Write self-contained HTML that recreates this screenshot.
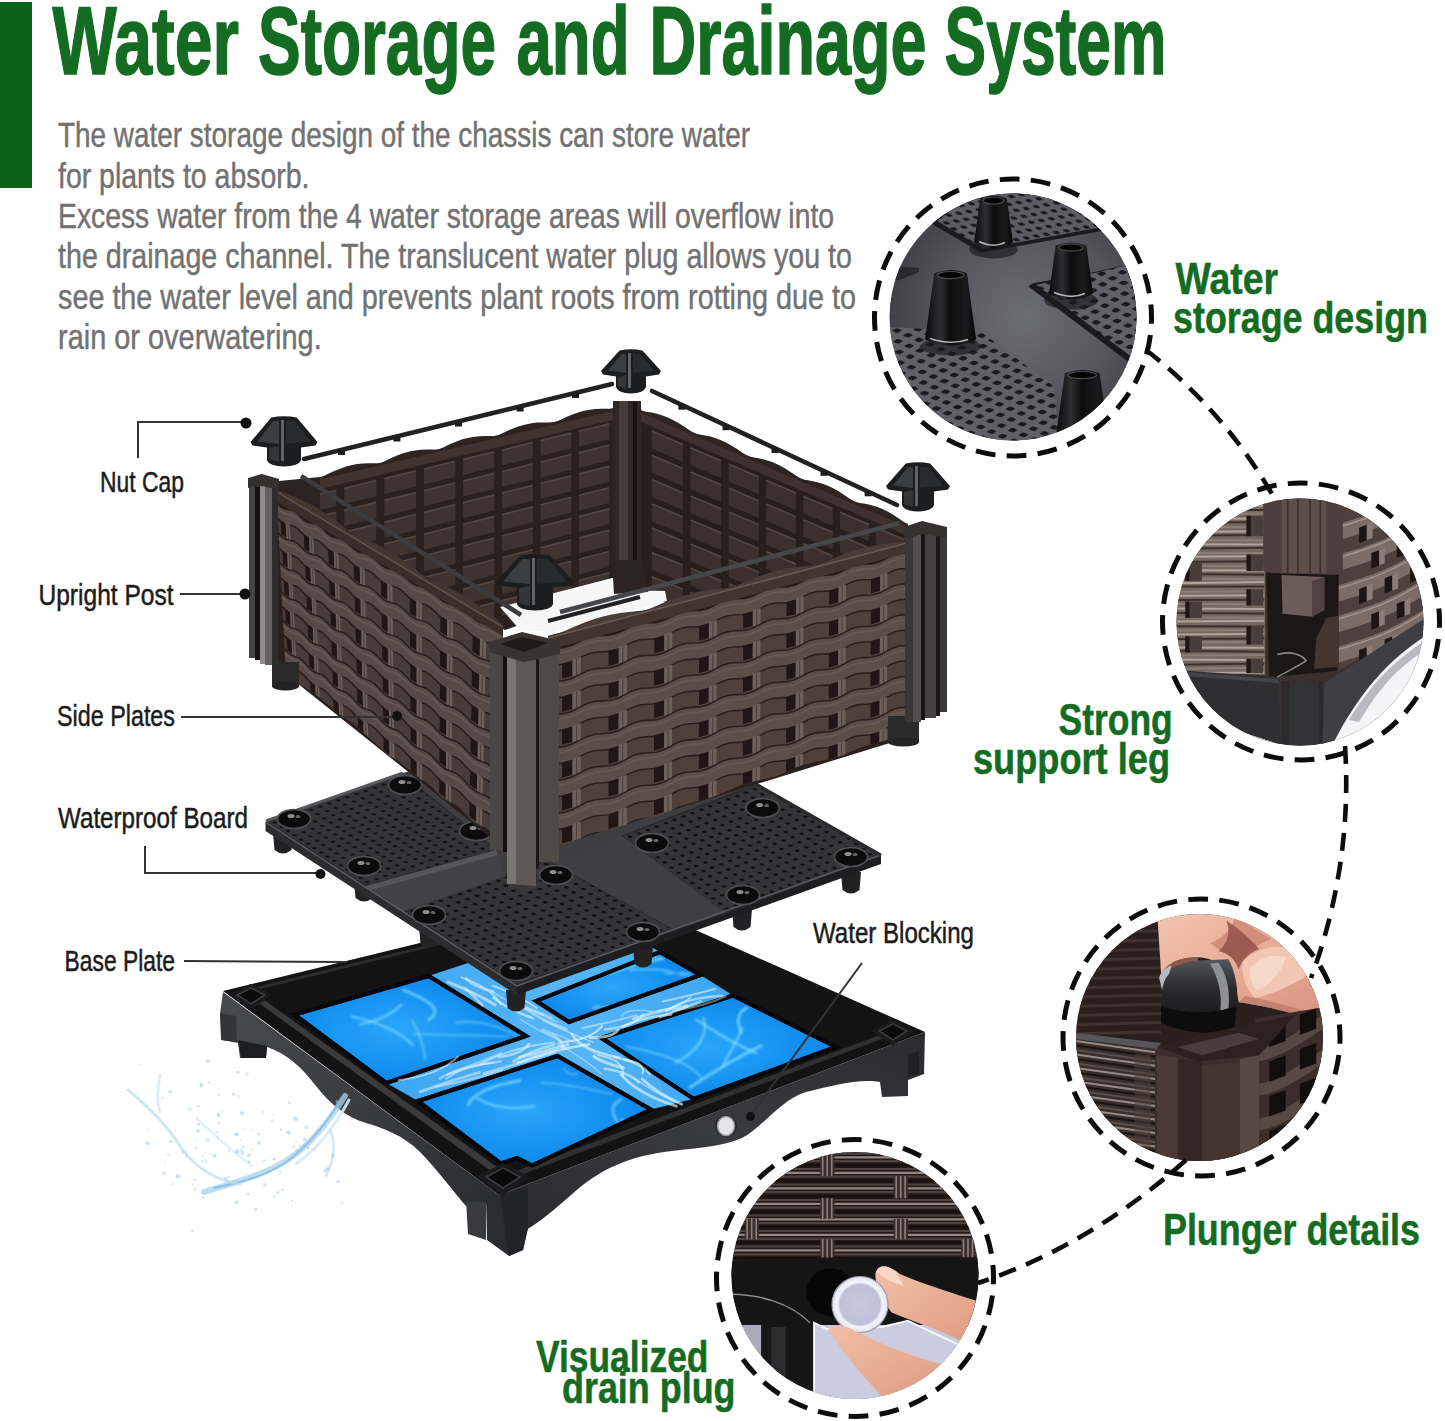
<!DOCTYPE html>
<html lang="en">
<head>
<meta charset="utf-8">
<title>Water Storage and Drainage System</title>
<style>
html,body{margin:0;padding:0;background:#fff;}
body{width:1445px;height:1421px;overflow:hidden;font-family:"Liberation Sans",sans-serif;}
svg{display:block;font-family:"Liberation Sans",sans-serif;}
</style>
</head>
<body>
<svg width="1445" height="1421" viewBox="0 0 1445 1421">
<defs>
<linearGradient id="gSideL" x1="0" y1="0" x2="1" y2="1">
<stop offset="0" stop-color="#4a4b4f"/><stop offset="1" stop-color="#2c2d30"/></linearGradient>
<linearGradient id="gSideR" x1="1" y1="0" x2="0" y2="1">
<stop offset="0" stop-color="#2b2b2e"/><stop offset="0.5" stop-color="#3a3b3e"/><stop offset="1" stop-color="#2a2a2d"/></linearGradient>
<linearGradient id="gWater" x1="0" y1="0" x2="1" y2="1">
<stop offset="0" stop-color="#1a9cf6"/><stop offset="0.5" stop-color="#0a86ea"/><stop offset="1" stop-color="#22a8fb"/></linearGradient>
<linearGradient id="gChan" x1="0" y1="0" x2="1" y2="0">
<stop offset="0" stop-color="#2d9cf0"/><stop offset="0.5" stop-color="#58b6f6"/><stop offset="1" stop-color="#2b9bf0"/></linearGradient>
<filter id="blur1" x="-10%" y="-10%" width="120%" height="120%"><feGaussianBlur stdDeviation="1"/></filter>
<filter id="blur2" x="-10%" y="-10%" width="120%" height="120%"><feGaussianBlur stdDeviation="2"/></filter>
<filter id="blur3" x="-20%" y="-20%" width="140%" height="140%"><feGaussianBlur stdDeviation="3.5"/></filter>

<radialGradient id="gW1" cx="0.45" cy="0.5" r="0.7"><stop offset="0" stop-color="#2aa6fa"/><stop offset="0.6" stop-color="#118df0"/><stop offset="1" stop-color="#0a7fe6"/></radialGradient>
<pattern id="perf0" width="8" height="8" patternUnits="userSpaceOnUse" patternTransform="matrix(0.8250 0.5333 1.1333 -0.3958 267.0 822.0)"><rect width="8" height="8" fill="#353538"/><circle cx="4" cy="4" r="1.7" fill="#111113"/></pattern>
<pattern id="perf1" width="8" height="8" patternUnits="userSpaceOnUse" patternTransform="matrix(0.9333 0.6208 1.1917 -0.4167 404.0 910.0)"><rect width="8" height="8" fill="#353538"/><circle cx="4" cy="4" r="1.7" fill="#111113"/></pattern>
<pattern id="perf2" width="8" height="8" patternUnits="userSpaceOnUse" patternTransform="matrix(0.8667 0.6417 1.1167 -0.4250 622.0 836.0)"><rect width="8" height="8" fill="#353538"/><circle cx="4" cy="4" r="1.7" fill="#111113"/></pattern>
<radialGradient id="gC1" cx="0.55" cy="0.5" r="0.6">
<stop offset="0" stop-color="#6c6c73"/><stop offset="0.6" stop-color="#55555b"/><stop offset="1" stop-color="#3b3b40"/></radialGradient>
<pattern id="dotsC1" width="11" height="11" patternUnits="userSpaceOnUse" patternTransform="matrix(1 0.42 -0.9 0.55 0 0)">
<rect width="11" height="11" fill="#606066"/><rect x="2.5" y="2.5" width="5.6" height="5.6" rx="1.5" fill="#1a1a1d"/></pattern>
<pattern id="dotsC1b" width="10" height="10" patternUnits="userSpaceOnUse" patternTransform="matrix(1 -0.18 0.75 0.6 0 0)">
<rect width="10" height="10" fill="#5c5c62"/><rect x="2.6" y="2.6" width="5" height="5" rx="1.5" fill="#1b1b1e"/></pattern>
<linearGradient id="gCone" x1="0" y1="0" x2="1" y2="0">
<stop offset="0" stop-color="#0a0a0b"/><stop offset="0.3" stop-color="#2e2e31"/><stop offset="0.5" stop-color="#0c0c0d"/><stop offset="0.8" stop-color="#1c1c1e"/><stop offset="1" stop-color="#050505"/></linearGradient>
<linearGradient id="gSkin" x1="0" y1="0" x2="1" y2="1">
<stop offset="0" stop-color="#f3c4b0"/><stop offset="0.5" stop-color="#e8ab95"/><stop offset="1" stop-color="#d58f7c"/></linearGradient>
<linearGradient id="gCap3" x1="0" y1="0" x2="0" y2="1">
<stop offset="0" stop-color="#55565a"/><stop offset="0.4" stop-color="#2a2a2d"/><stop offset="1" stop-color="#111113"/></linearGradient>
<linearGradient id="gSkin4" x1="0" y1="0" x2="1" y2="1">
<stop offset="0" stop-color="#f1bfa6"/><stop offset="0.6" stop-color="#e6a98f"/><stop offset="1" stop-color="#d99680"/></linearGradient>
<radialGradient id="gPlug" cx="0.5" cy="0.5" r="0.5">
<stop offset="0" stop-color="#c6c8de"/><stop offset="0.72" stop-color="#bfc1d8"/><stop offset="0.8" stop-color="#f4f4fa"/><stop offset="1" stop-color="#e2e3ee"/></radialGradient>
</defs>
<rect width="1445" height="1421" fill="#ffffff"/>
<rect x="0" y="2" width="32" height="186" fill="#0b6219"/>
<text y="73.8" font-size="96" font-weight="700" fill="#146c22" stroke="#146c22" stroke-width="1.6" stroke-linejoin="round"><tspan x="52.6" textLength="186.4" lengthAdjust="spacingAndGlyphs">Water</tspan> <tspan x="258" textLength="238.0" lengthAdjust="spacingAndGlyphs">Storage</tspan> <tspan x="516.5" textLength="113.0" lengthAdjust="spacingAndGlyphs">and</tspan> <tspan x="649.5" textLength="277.0" lengthAdjust="spacingAndGlyphs">Drainage</tspan> <tspan x="944.6" textLength="221.9" lengthAdjust="spacingAndGlyphs">System</tspan></text>
<g font-size="35" fill="#727272" stroke="#727272" stroke-width="0.45">
<text x="58" y="147.2" textLength="692.0" lengthAdjust="spacingAndGlyphs">The water storage design of the chassis can store water</text>
<text x="58" y="187.7" textLength="251.5" lengthAdjust="spacingAndGlyphs">for plants to absorb.</text>
<text x="58" y="228" textLength="776.0" lengthAdjust="spacingAndGlyphs">Excess water from the 4 water storage areas will overflow into</text>
<text x="58" y="268.4" textLength="794.0" lengthAdjust="spacingAndGlyphs">the drainage channel. The translucent water plug allows you to</text>
<text x="58" y="308.6" textLength="798.0" lengthAdjust="spacingAndGlyphs">see the water level and prevents plant roots from rotting due to</text>
<text x="58" y="349" textLength="263.7" lengthAdjust="spacingAndGlyphs">rain or overwatering.</text>
</g>
<g id="base-plate">
<path d="M223,992 L499,1195 L486,1205 L466,1206 C452,1190 436,1168 420,1152 C404,1136 384,1128 366,1123 C346,1117 330,1104 316,1086 C302,1068 288,1054 267,1047 L266,1058 L240,1058 L238,1043 L222,1040 L220,1014 Z" fill="url(#gSideL)" />
<path d="M499,1195 L925,1032 L924,1074 L908,1080 L908,1096 L882,1097 L880,1082 C860,1078 830,1086 806,1092 C780,1100 762,1128 742,1138 C720,1148 690,1148 664,1152 C630,1157 600,1168 570,1196 C556,1208 540,1222 526,1230 L523,1196 Z" fill="url(#gSideR)" />
<polygon points="486.0,1196.0 528.0,1192.0 528.0,1228.0 523.0,1250.0 509.0,1256.0 487.0,1240.0" fill="#2b2c2f" />
<polygon points="466.0,1201.0 486.0,1203.0 486.0,1240.0 468.0,1234.0" fill="#3a3b3f" />
<polygon points="500.0,1195.0 528.0,1186.0 528.0,1228.0 523.0,1250.0 509.0,1256.0" fill="#222326" />
<polygon points="908.0,1054.0 919.0,1051.0 919.0,1074.0 908.0,1077.0" fill="#1f2023" />
<polygon points="238.0,1040.0 267.0,1046.0 266.0,1058.0 241.0,1058.0" fill="#1d1e21" />
<polygon points="220.0,1013.0 236.0,1016.0 237.0,1042.0 221.0,1040.0" fill="#34353a" />
<polygon points="223.0,991.0 617.0,895.0 925.0,1032.0 499.0,1195.0" fill="#131314" />
<polygon points="241.6,990.6 508.0,1183.6 516.0,1180.6 248.7,988.9" fill="#3a3a3d" />
<polygon points="493.9,1179.2 499.1,1183.1 907.0,1029.5 901.4,1027.0" fill="#303033" />
<polygon points="236.8,991.8 240.1,994.2 619.3,900.5 615.5,898.8" fill="#2c2c2f" />
<polygon points="294.7,1014.7 428.6,976.0 471.0,962.0 600.0,918.0 700.5,975.0 733.0,995.5 836.0,1047.0 693.6,1098.8 651.0,1109.5 532.0,1165.5 418.0,1101.0 386.5,1083.0" fill="url(#gChan)" />
<polygon points="294.7,1014.7 428.6,976.0 526.0,1036.0 386.5,1083.0" fill="url(#gW1)" stroke="#05070a" stroke-width="4" stroke-linejoin="miter"/>
<polygon points="418.0,1101.0 557.5,1056.0 651.0,1109.5 532.0,1165.5 517.0,1158.0 501.0,1163.5" fill="url(#gW1)" stroke="#05070a" stroke-width="4" stroke-linejoin="miter"/>
<polygon points="536.0,1001.0 660.0,952.0 700.5,975.0 569.0,1022.0" fill="url(#gW1)" stroke="#05070a" stroke-width="4" stroke-linejoin="miter"/>
<polygon points="601.5,1038.0 733.0,995.5 836.0,1047.0 693.6,1098.8" fill="url(#gW1)" stroke="#05070a" stroke-width="4" stroke-linejoin="miter"/>
<clipPath id="cpTiles"><polygon points="294.7,1014.7 428.6,976.0 526.0,1036.0 386.5,1083.0"/><polygon points="418.0,1101.0 557.5,1056.0 651.0,1109.5 532.0,1165.5 517.0,1158.0 501.0,1163.5"/><polygon points="536.0,1001.0 660.0,952.0 700.5,975.0 569.0,1022.0"/><polygon points="601.5,1038.0 733.0,995.5 836.0,1047.0 693.6,1098.8"/></clipPath>
<g clip-path="url(#cpTiles)"><g filter="url(#blur1)" fill="none" stroke-linecap="round">
<path d="M412.3,1020.5 Q422.5,1038.5 425.5,1059.4" stroke="#86e4ff" stroke-width="1.9" stroke-opacity="0.58"/>
<path d="M455.7,1022.4 Q486.3,1018.4 518.9,1036.7" stroke="#86e4ff" stroke-width="2.6" stroke-opacity="0.41"/>
<path d="M508.4,1036.4 Q431.4,1034.4 413.9,1034.1" stroke="#86e4ff" stroke-width="2.3" stroke-opacity="0.42"/>
<path d="M351.7,1016.7 Q393.9,1025.5 412.7,1044.9" stroke="#86e4ff" stroke-width="2.3" stroke-opacity="0.62"/>
<path d="M428.7,1019.6 Q449.3,1008.1 403.5,990.1" stroke="#86e4ff" stroke-width="2.8" stroke-opacity="0.65"/>
<path d="M360.4,1024.1 Q384.4,1020.5 400.8,1005.2" stroke="#86e4ff" stroke-width="2.8" stroke-opacity="0.54"/>
<path d="M621.7,1119.5 Q626.6,1123.5 627.8,1123.0" stroke="#86e4ff" stroke-width="3.0" stroke-opacity="0.54"/>
<path d="M519.9,1080.8 Q476.7,1087.6 468.0,1104.9" stroke="#86e4ff" stroke-width="2.9" stroke-opacity="0.67"/>
<path d="M477.4,1098.4 Q500.8,1112.2 534.6,1106.3" stroke="#86e4ff" stroke-width="2.4" stroke-opacity="0.56"/>
<path d="M541.5,1082.9 Q562.7,1082.9 612.0,1094.1" stroke="#86e4ff" stroke-width="1.9" stroke-opacity="0.49"/>
<path d="M617.8,1122.1 Q606.6,1106.8 620.9,1099.5" stroke="#86e4ff" stroke-width="2.8" stroke-opacity="0.62"/>
<path d="M563.6,1068.6 Q571.2,1077.5 576.6,1072.9" stroke="#86e4ff" stroke-width="2.0" stroke-opacity="0.43"/>
<path d="M609.9,973.1 Q633.1,965.5 662.8,958.9" stroke="#86e4ff" stroke-width="2.9" stroke-opacity="0.57"/>
<path d="M664.5,973.6 Q692.6,973.1 690.6,972.1" stroke="#86e4ff" stroke-width="1.9" stroke-opacity="0.47"/>
<path d="M680.3,974.6 Q700.3,977.3 700.9,977.0" stroke="#86e4ff" stroke-width="2.2" stroke-opacity="0.44"/>
<path d="M652.7,959.3 Q657.1,956.2 661.6,958.3" stroke="#86e4ff" stroke-width="2.4" stroke-opacity="0.50"/>
<path d="M630.0,970.2 Q665.7,967.8 672.3,972.5" stroke="#86e4ff" stroke-width="2.5" stroke-opacity="0.50"/>
<path d="M598.1,1005.5 Q583.9,1011.0 609.3,1005.9" stroke="#86e4ff" stroke-width="1.8" stroke-opacity="0.53"/>
<path d="M675.7,1062.6 Q710.4,1044.6 703.5,1017.9" stroke="#86e4ff" stroke-width="2.6" stroke-opacity="0.60"/>
<path d="M626.3,1046.4 Q688.8,1058.4 701.6,1078.3" stroke="#86e4ff" stroke-width="1.6" stroke-opacity="0.62"/>
<path d="M741.3,1033.2 Q733.6,1013.8 746.7,1008.0" stroke="#86e4ff" stroke-width="2.6" stroke-opacity="0.72"/>
<path d="M761.0,1045.7 Q729.7,1060.9 689.8,1087.5" stroke="#86e4ff" stroke-width="2.9" stroke-opacity="0.70"/>
<path d="M742.6,1027.9 Q731.9,1049.9 722.6,1065.8" stroke="#86e4ff" stroke-width="2.4" stroke-opacity="0.61"/>
<path d="M696.0,1019.3 Q727.7,1040.8 756.4,1053.2" stroke="#86e4ff" stroke-width="2.6" stroke-opacity="0.60"/>
</g></g>
<polygon points="294.7,1014.7 428.6,976.0 526.0,1036.0 386.5,1083.0" fill="none" stroke="#05070a" stroke-width="4" stroke-linejoin="miter"/>
<polygon points="418.0,1101.0 557.5,1056.0 651.0,1109.5 532.0,1165.5 517.0,1158.0 501.0,1163.5" fill="none" stroke="#05070a" stroke-width="4" stroke-linejoin="miter"/>
<polygon points="536.0,1001.0 660.0,952.0 700.5,975.0 569.0,1022.0" fill="none" stroke="#05070a" stroke-width="4" stroke-linejoin="miter"/>
<polygon points="601.5,1038.0 733.0,995.5 836.0,1047.0 693.6,1098.8" fill="none" stroke="#05070a" stroke-width="4" stroke-linejoin="miter"/>
<path d="M571.8,1034.1 Q581.1,1050.2 619.4,1057.6" fill="none" stroke="#e6f6ff" stroke-width="2.3" stroke-opacity="0.68" stroke-linecap="round"/>
<path d="M556.5,1043.4 Q582.6,1056.9 601.3,1073.7" fill="none" stroke="#e6f6ff" stroke-width="1.5" stroke-opacity="0.43" stroke-linecap="round"/>
<path d="M507.4,998.1 Q532.2,1009.8 557.0,1022.1" fill="none" stroke="#e6f6ff" stroke-width="1.7" stroke-opacity="0.35" stroke-linecap="round"/>
<path d="M604.6,1068.7 Q630.2,1072.5 638.6,1082.5" fill="none" stroke="#e6f6ff" stroke-width="2.4" stroke-opacity="0.59" stroke-linecap="round"/>
<path d="M492.2,991.3 Q510.5,1004.8 543.2,1014.8" fill="none" stroke="#e6f6ff" stroke-width="1.8" stroke-opacity="0.40" stroke-linecap="round"/>
<path d="M466.2,978.6 Q473.5,986.7 493.3,991.6" fill="none" stroke="#e6f6ff" stroke-width="2.9" stroke-opacity="0.52" stroke-linecap="round"/>
<path d="M512.0,1002.3 Q533.8,1009.4 551.5,1018.0" fill="none" stroke="#e6f6ff" stroke-width="2.9" stroke-opacity="0.36" stroke-linecap="round"/>
<path d="M598.2,1055.0 Q625.9,1060.3 622.8,1076.3" fill="none" stroke="#e6f6ff" stroke-width="1.8" stroke-opacity="0.61" stroke-linecap="round"/>
<path d="M620.9,1074.5 Q637.5,1093.8 676.3,1106.2" fill="none" stroke="#e6f6ff" stroke-width="2.8" stroke-opacity="0.63" stroke-linecap="round"/>
<path d="M624.1,1059.9 Q645.3,1062.3 642.7,1073.0" fill="none" stroke="#e6f6ff" stroke-width="2.1" stroke-opacity="0.67" stroke-linecap="round"/>
<path d="M542.6,1029.9 Q561.4,1036.5 563.6,1048.6" fill="none" stroke="#e6f6ff" stroke-width="3.2" stroke-opacity="0.41" stroke-linecap="round"/>
<path d="M461.5,977.5 Q491.0,987.6 500.8,1003.9" fill="none" stroke="#e6f6ff" stroke-width="2.3" stroke-opacity="0.50" stroke-linecap="round"/>
<path d="M448.1,982.1 Q474.3,992.4 495.3,1004.8" fill="none" stroke="#e6f6ff" stroke-width="3.1" stroke-opacity="0.57" stroke-linecap="round"/>
<path d="M594.0,1056.5 Q604.3,1063.5 623.2,1067.9" fill="none" stroke="#e6f6ff" stroke-width="3.2" stroke-opacity="0.65" stroke-linecap="round"/>
<path d="M635.2,1078.8 Q651.3,1090.4 672.6,1100.7" fill="none" stroke="#e6f6ff" stroke-width="1.7" stroke-opacity="0.48" stroke-linecap="round"/>
<path d="M642.1,1078.9 Q657.0,1093.0 681.7,1104.2" fill="none" stroke="#e6f6ff" stroke-width="2.8" stroke-opacity="0.65" stroke-linecap="round"/>
<path d="M522.2,1006.4 Q539.2,1019.1 566.6,1029.3" fill="none" stroke="#e6f6ff" stroke-width="2.7" stroke-opacity="0.45" stroke-linecap="round"/>
<path d="M542.5,1020.1 Q565.5,1031.5 592.7,1042.1" fill="none" stroke="#e6f6ff" stroke-width="1.5" stroke-opacity="0.54" stroke-linecap="round"/>
<path d="M493.5,997.7 Q507.8,1009.3 532.7,1018.2" fill="none" stroke="#e6f6ff" stroke-width="2.6" stroke-opacity="0.61" stroke-linecap="round"/>
<path d="M614.5,1057.2 Q642.0,1062.3 650.0,1074.5" fill="none" stroke="#e6f6ff" stroke-width="2.4" stroke-opacity="0.54" stroke-linecap="round"/>
<path d="M492.7,985.6 Q518.5,995.4 536.7,1007.9" fill="none" stroke="#e6f6ff" stroke-width="1.8" stroke-opacity="0.62" stroke-linecap="round"/>
<path d="M552.5,1032.9 Q578.0,1042.6 597.6,1054.7" fill="none" stroke="#e6f6ff" stroke-width="1.5" stroke-opacity="0.41" stroke-linecap="round"/>
<path d="M520.3,1019.5 Q538.3,1030.6 560.6,1041.0" fill="none" stroke="#e6f6ff" stroke-width="1.9" stroke-opacity="0.37" stroke-linecap="round"/>
<path d="M465.3,988.4 Q474.7,996.5 482.5,1005.3" fill="none" stroke="#e6f6ff" stroke-width="2.5" stroke-opacity="0.56" stroke-linecap="round"/>
<path d="M483.9,1073.4 Q521.1,1063.1 554.9,1051.9" fill="none" stroke="#e6f6ff" stroke-width="2.9" stroke-opacity="0.48" stroke-linecap="round"/>
<path d="M419.9,1091.8 Q449.0,1081.1 479.4,1072.4" fill="none" stroke="#e6f6ff" stroke-width="2.9" stroke-opacity="0.50" stroke-linecap="round"/>
<path d="M633.5,1019.0 Q657.2,1010.6 687.0,1005.9" fill="none" stroke="#e6f6ff" stroke-width="3.1" stroke-opacity="0.56" stroke-linecap="round"/>
<path d="M517.1,1062.9 Q549.1,1050.7 589.1,1044.3" fill="none" stroke="#e6f6ff" stroke-width="2.6" stroke-opacity="0.66" stroke-linecap="round"/>
<path d="M519.4,1057.6 Q544.9,1051.6 568.0,1044.6" fill="none" stroke="#e6f6ff" stroke-width="3.1" stroke-opacity="0.56" stroke-linecap="round"/>
<path d="M480.0,1064.7 Q508.3,1047.8 553.7,1042.5" fill="none" stroke="#e6f6ff" stroke-width="2.0" stroke-opacity="0.52" stroke-linecap="round"/>
<path d="M439.6,1078.4 Q463.5,1065.3 500.8,1061.5" fill="none" stroke="#e6f6ff" stroke-width="2.4" stroke-opacity="0.45" stroke-linecap="round"/>
<path d="M666.5,1010.9 Q684.1,997.8 722.2,995.7" fill="none" stroke="#e6f6ff" stroke-width="2.5" stroke-opacity="0.52" stroke-linecap="round"/>
<path d="M582.2,1028.1 Q611.0,1022.3 636.5,1015.2" fill="none" stroke="#e6f6ff" stroke-width="2.1" stroke-opacity="0.45" stroke-linecap="round"/>
<path d="M559.5,1042.4 Q591.1,1040.0 601.9,1026.4" fill="none" stroke="#e6f6ff" stroke-width="2.3" stroke-opacity="0.67" stroke-linecap="round"/>
<path d="M660.0,1017.2 Q681.0,1009.3 700.8,1001.3" fill="none" stroke="#e6f6ff" stroke-width="2.6" stroke-opacity="0.52" stroke-linecap="round"/>
<path d="M657.6,1011.0 Q680.5,1007.0 691.0,997.0" fill="none" stroke="#e6f6ff" stroke-width="1.6" stroke-opacity="0.64" stroke-linecap="round"/>
<path d="M605.0,1029.5 Q633.0,1026.4 643.6,1014.4" fill="none" stroke="#e6f6ff" stroke-width="2.4" stroke-opacity="0.52" stroke-linecap="round"/>
<path d="M498.9,1057.0 Q520.8,1054.7 529.0,1044.2" fill="none" stroke="#e6f6ff" stroke-width="2.8" stroke-opacity="0.58" stroke-linecap="round"/>
<path d="M398.7,1080.2 Q439.6,1075.3 458.0,1056.4" fill="none" stroke="#e6f6ff" stroke-width="1.9" stroke-opacity="0.58" stroke-linecap="round"/>
<path d="M673.1,1010.8 Q705.1,1006.1 725.6,996.3" fill="none" stroke="#e6f6ff" stroke-width="2.2" stroke-opacity="0.41" stroke-linecap="round"/>
<path d="M589.9,1037.6 Q611.6,1038.0 618.0,1030.1" fill="none" stroke="#e6f6ff" stroke-width="2.8" stroke-opacity="0.66" stroke-linecap="round"/>
<path d="M446.0,1079.0 Q463.3,1066.0 494.3,1062.7" fill="none" stroke="#e6f6ff" stroke-width="1.6" stroke-opacity="0.59" stroke-linecap="round"/>
<path d="M447.2,1074.7 Q474.8,1064.0 500.9,1053.3" fill="none" stroke="#e6f6ff" stroke-width="2.4" stroke-opacity="0.44" stroke-linecap="round"/>
<path d="M622.8,1026.7 Q641.1,1017.2 671.0,1014.3" fill="none" stroke="#e6f6ff" stroke-width="2.7" stroke-opacity="0.58" stroke-linecap="round"/>
<path d="M435.5,1086.9 Q471.6,1080.1 501.8,1070.2" fill="none" stroke="#e6f6ff" stroke-width="2.3" stroke-opacity="0.46" stroke-linecap="round"/>
<path d="M621.7,1016.2 Q625.7,1007.9 651.9,1011.4" fill="none" stroke="#e6f6ff" stroke-width="1.9" stroke-opacity="0.39" stroke-linecap="round"/>
<path d="M663.0,1001.6 Q689.9,995.5 715.2,989.0" fill="none" stroke="#e6f6ff" stroke-width="2.1" stroke-opacity="0.56" stroke-linecap="round"/>
<path d="M513.5,1061.3 Q530.4,1050.8 553.8,1044.8" fill="none" stroke="#e6f6ff" stroke-width="2.9" stroke-opacity="0.53" stroke-linecap="round"/>
<polygon points="476.0,1177.0 503.0,1163.0 530.0,1177.0 503.0,1195.0" fill="#1b1b1d" />
<polygon points="486.0,1177.0 503.0,1168.0 520.0,1177.0 503.0,1188.0" fill="#0a0a0b" stroke="#3c3c40" stroke-width="1.5"/>
<polygon points="229.4,995.0 251.0,983.8 272.6,995.0 251.0,1009.4" fill="#1b1b1d" />
<polygon points="237.4,995.0 251.0,987.8 264.6,995.0 251.0,1003.8" fill="#0a0a0b" stroke="#3c3c40" stroke-width="1.5"/>
<polygon points="871.4,1031.0 893.0,1019.8 914.6,1031.0 893.0,1045.4" fill="#1b1b1d" />
<polygon points="879.4,1031.0 893.0,1023.8 906.6,1031.0 893.0,1039.8" fill="#0a0a0b" stroke="#3c3c40" stroke-width="1.5"/>
<circle cx="726" cy="1126" r="11" fill="#2a2a2c"/>
<ellipse cx="726" cy="1126" rx="8.5" ry="9.5" fill="#e4e4e6" stroke="#9a9a9e" stroke-width="1.5"/>
</g>
<g id="board">
<path d="M273.0,832.0 L274.5,850.0 Q283.0,857.0 291.5,850.0 L293.0,832.0 Z" fill="#222224"/>
<path d="M354.0,880.0 L355.5,898.0 Q364.0,905.0 372.5,898.0 L374.0,880.0 Z" fill="#222224"/>
<path d="M419.0,926.0 L420.5,944.0 Q429.0,951.0 437.5,944.0 L439.0,926.0 Z" fill="#222224"/>
<path d="M506.0,990.0 L507.5,1008.0 Q516.0,1015.0 524.5,1008.0 L526.0,990.0 Z" fill="#222224"/>
<path d="M633.0,946.0 L634.5,964.0 Q643.0,971.0 651.5,964.0 L653.0,946.0 Z" fill="#222224"/>
<path d="M732.0,909.0 L733.5,927.0 Q742.0,934.0 750.5,927.0 L752.0,909.0 Z" fill="#222224"/>
<path d="M841.0,872.0 L842.5,890.0 Q851.0,897.0 859.5,890.0 L861.0,872.0 Z" fill="#222224"/>
<polygon points="265.5,822.0 517.0,986.0 517.0,995.0 265.5,831.0" fill="#2c2c2f" />
<polygon points="517.0,986.0 881.0,855.0 881.0,864.0 517.0,995.0" fill="#1e1e21" />
<polygon points="265.5,822.0 403.0,773.0 520.0,740.0 640.0,740.0 756.0,783.0 881.0,855.0 517.0,986.0" fill="#3e3e41" />
<polygon points="267.0,822.0 366.0,886.0 496.0,850.0 403.0,774.5" fill="url(#perf0)" stroke="#2a2a2c" stroke-width="1.4"/>
<polygon points="404.0,910.0 516.0,984.5 675.0,930.0 547.0,860.0" fill="url(#perf1)" stroke="#2a2a2c" stroke-width="1.4"/>
<polygon points="622.0,836.0 726.0,913.0 879.0,855.0 756.0,785.0" fill="url(#perf2)" stroke="#2a2a2c" stroke-width="1.4"/>
<polygon points="366.0,886.0 496.0,850.0 506.0,876.0 404.0,911.0" fill="#424245" />
<polygon points="366.0,886.0 496.0,850.0 498.0,855.0 371.0,890.0" fill="#56565a" />
<polygon points="547.0,860.0 622.0,836.0 726.0,913.0 675.0,930.0" fill="#3f3f42" />
<polyline points="265.5,822 517,986 881,855" fill="none" stroke="#5c5c61" stroke-width="1.4"/>
<polyline points="266,821 403,773" fill="none" stroke="#58585c" stroke-width="3"/>
<polyline points="756,784 881,855" fill="none" stroke="#2a2a2c" stroke-width="3"/>
<ellipse cx="294.0" cy="819.0" rx="16.5" ry="9.5" fill="#0b0b0c" stroke="#505054" stroke-width="1.6"/>
<ellipse cx="291.0" cy="816.0" rx="3.5" ry="2" fill="#c8c8cc" opacity="0.7"/>
<ellipse cx="298.0" cy="816.5" rx="2.5" ry="1.6" fill="#c8c8cc" opacity="0.5"/>
<ellipse cx="364.0" cy="866.0" rx="16.5" ry="9.5" fill="#0b0b0c" stroke="#505054" stroke-width="1.6"/>
<ellipse cx="361.0" cy="863.0" rx="3.5" ry="2" fill="#c8c8cc" opacity="0.7"/>
<ellipse cx="368.0" cy="863.5" rx="2.5" ry="1.6" fill="#c8c8cc" opacity="0.5"/>
<ellipse cx="405.0" cy="785.0" rx="16.5" ry="9.5" fill="#0b0b0c" stroke="#505054" stroke-width="1.6"/>
<ellipse cx="402.0" cy="782.0" rx="3.5" ry="2" fill="#c8c8cc" opacity="0.7"/>
<ellipse cx="409.0" cy="782.5" rx="2.5" ry="1.6" fill="#c8c8cc" opacity="0.5"/>
<ellipse cx="476.0" cy="831.0" rx="16.5" ry="9.5" fill="#0b0b0c" stroke="#505054" stroke-width="1.6"/>
<ellipse cx="473.0" cy="828.0" rx="3.5" ry="2" fill="#c8c8cc" opacity="0.7"/>
<ellipse cx="480.0" cy="828.5" rx="2.5" ry="1.6" fill="#c8c8cc" opacity="0.5"/>
<ellipse cx="429.0" cy="915.0" rx="16.5" ry="9.5" fill="#0b0b0c" stroke="#505054" stroke-width="1.6"/>
<ellipse cx="426.0" cy="912.0" rx="3.5" ry="2" fill="#c8c8cc" opacity="0.7"/>
<ellipse cx="433.0" cy="912.5" rx="2.5" ry="1.6" fill="#c8c8cc" opacity="0.5"/>
<ellipse cx="516.0" cy="971.0" rx="16.5" ry="9.5" fill="#0b0b0c" stroke="#505054" stroke-width="1.6"/>
<ellipse cx="513.0" cy="968.0" rx="3.5" ry="2" fill="#c8c8cc" opacity="0.7"/>
<ellipse cx="520.0" cy="968.5" rx="2.5" ry="1.6" fill="#c8c8cc" opacity="0.5"/>
<ellipse cx="556.0" cy="875.0" rx="16.5" ry="9.5" fill="#0b0b0c" stroke="#505054" stroke-width="1.6"/>
<ellipse cx="553.0" cy="872.0" rx="3.5" ry="2" fill="#c8c8cc" opacity="0.7"/>
<ellipse cx="560.0" cy="872.5" rx="2.5" ry="1.6" fill="#c8c8cc" opacity="0.5"/>
<ellipse cx="643.0" cy="932.0" rx="16.5" ry="9.5" fill="#0b0b0c" stroke="#505054" stroke-width="1.6"/>
<ellipse cx="640.0" cy="929.0" rx="3.5" ry="2" fill="#c8c8cc" opacity="0.7"/>
<ellipse cx="647.0" cy="929.5" rx="2.5" ry="1.6" fill="#c8c8cc" opacity="0.5"/>
<ellipse cx="652.0" cy="843.0" rx="16.5" ry="9.5" fill="#0b0b0c" stroke="#505054" stroke-width="1.6"/>
<ellipse cx="649.0" cy="840.0" rx="3.5" ry="2" fill="#c8c8cc" opacity="0.7"/>
<ellipse cx="656.0" cy="840.5" rx="2.5" ry="1.6" fill="#c8c8cc" opacity="0.5"/>
<ellipse cx="762.6" cy="808.0" rx="16.5" ry="9.5" fill="#0b0b0c" stroke="#505054" stroke-width="1.6"/>
<ellipse cx="759.6" cy="805.0" rx="3.5" ry="2" fill="#c8c8cc" opacity="0.7"/>
<ellipse cx="766.6" cy="805.5" rx="2.5" ry="1.6" fill="#c8c8cc" opacity="0.5"/>
<ellipse cx="851.0" cy="857.0" rx="16.5" ry="9.5" fill="#0b0b0c" stroke="#505054" stroke-width="1.6"/>
<ellipse cx="848.0" cy="854.0" rx="3.5" ry="2" fill="#c8c8cc" opacity="0.7"/>
<ellipse cx="855.0" cy="854.5" rx="2.5" ry="1.6" fill="#c8c8cc" opacity="0.5"/>
<ellipse cx="743.0" cy="895.0" rx="16.5" ry="9.5" fill="#0b0b0c" stroke="#505054" stroke-width="1.6"/>
<ellipse cx="740.0" cy="892.0" rx="3.5" ry="2" fill="#c8c8cc" opacity="0.7"/>
<ellipse cx="747.0" cy="892.5" rx="2.5" ry="1.6" fill="#c8c8cc" opacity="0.5"/>
</g>
<g id="box">
<polygon points="320.0,478.0 613.0,409.0 613.0,592.0 505.0,630.0 320.0,519.0" fill="#2a201e" />
<clipPath id="cpIBL"><polygon points="320.0,480.0 613.0,411.0 613.0,592.0 505.0,630.0 320.0,519.0"/></clipPath>
<g clip-path="url(#cpIBL)">
<polygon points="304.0,498.1 336.3,490.3 336.3,506.0 304.0,513.9" fill="#3e3330" />
<line x1="304.0" y1="498.1" x2="336.3" y2="490.3" stroke="#5b4f4a" stroke-width="1.6" stroke-opacity="0.8"/>
<polygon points="344.3,488.3 376.3,480.5 376.3,496.2 344.3,504.1" fill="#3e3330" />
<line x1="344.3" y1="488.3" x2="376.3" y2="480.5" stroke="#5b4f4a" stroke-width="1.6" stroke-opacity="0.8"/>
<polygon points="384.3,478.6 416.0,470.9 416.0,486.5 384.3,494.3" fill="#3e3330" />
<line x1="384.3" y1="478.6" x2="416.0" y2="470.9" stroke="#5b4f4a" stroke-width="1.6" stroke-opacity="0.8"/>
<polygon points="423.9,469.0 455.3,461.3 455.3,476.9 423.9,484.6" fill="#3e3330" />
<line x1="423.9" y1="469.0" x2="455.3" y2="461.3" stroke="#5b4f4a" stroke-width="1.6" stroke-opacity="0.8"/>
<polygon points="463.1,459.4 494.3,451.8 494.3,467.3 463.1,475.0" fill="#3e3330" />
<line x1="463.1" y1="459.4" x2="494.3" y2="451.8" stroke="#5b4f4a" stroke-width="1.6" stroke-opacity="0.8"/>
<polygon points="502.0,450.0 532.9,442.4 532.9,457.9 502.0,465.4" fill="#3e3330" />
<line x1="502.0" y1="450.0" x2="532.9" y2="442.4" stroke="#5b4f4a" stroke-width="1.6" stroke-opacity="0.8"/>
<polygon points="540.6,440.6 571.2,433.1 571.2,448.5 540.6,456.0" fill="#3e3330" />
<line x1="540.6" y1="440.6" x2="571.2" y2="433.1" stroke="#5b4f4a" stroke-width="1.6" stroke-opacity="0.8"/>
<polygon points="578.9,431.3 609.2,423.9 609.2,439.2 578.9,446.6" fill="#3e3330" />
<line x1="578.9" y1="431.3" x2="609.2" y2="423.9" stroke="#5b4f4a" stroke-width="1.6" stroke-opacity="0.8"/>
<polygon points="304.0,520.1 336.3,512.2 336.3,527.9 304.0,535.9" fill="#3e3330" />
<line x1="304.0" y1="520.1" x2="336.3" y2="512.2" stroke="#5b4f4a" stroke-width="1.6" stroke-opacity="0.8"/>
<polygon points="344.3,510.2 376.3,502.3 376.3,518.0 344.3,526.0" fill="#3e3330" />
<line x1="344.3" y1="510.2" x2="376.3" y2="502.3" stroke="#5b4f4a" stroke-width="1.6" stroke-opacity="0.8"/>
<polygon points="384.3,500.4 416.0,492.6 416.0,508.2 384.3,516.1" fill="#3e3330" />
<line x1="384.3" y1="500.4" x2="416.0" y2="492.6" stroke="#5b4f4a" stroke-width="1.6" stroke-opacity="0.8"/>
<polygon points="423.9,490.7 455.3,482.9 455.3,498.5 423.9,506.3" fill="#3e3330" />
<line x1="423.9" y1="490.7" x2="455.3" y2="482.9" stroke="#5b4f4a" stroke-width="1.6" stroke-opacity="0.8"/>
<polygon points="463.1,481.0 494.3,473.4 494.3,488.9 463.1,496.6" fill="#3e3330" />
<line x1="463.1" y1="481.0" x2="494.3" y2="473.4" stroke="#5b4f4a" stroke-width="1.6" stroke-opacity="0.8"/>
<polygon points="502.0,471.5 532.9,463.9 532.9,479.3 502.0,487.0" fill="#3e3330" />
<line x1="502.0" y1="471.5" x2="532.9" y2="463.9" stroke="#5b4f4a" stroke-width="1.6" stroke-opacity="0.8"/>
<polygon points="540.6,462.0 571.2,454.5 571.2,469.9 540.6,477.4" fill="#3e3330" />
<line x1="540.6" y1="462.0" x2="571.2" y2="454.5" stroke="#5b4f4a" stroke-width="1.6" stroke-opacity="0.8"/>
<polygon points="578.9,452.6 609.2,445.2 609.2,460.5 578.9,468.0" fill="#3e3330" />
<line x1="578.9" y1="452.6" x2="609.2" y2="445.2" stroke="#5b4f4a" stroke-width="1.6" stroke-opacity="0.8"/>
<polygon points="304.0,542.1 336.3,534.1 336.3,549.9 304.0,557.9" fill="#3e3330" />
<line x1="304.0" y1="542.1" x2="336.3" y2="534.1" stroke="#5b4f4a" stroke-width="1.6" stroke-opacity="0.8"/>
<polygon points="344.3,532.1 376.3,524.2 376.3,539.9 344.3,547.8" fill="#3e3330" />
<line x1="344.3" y1="532.1" x2="376.3" y2="524.2" stroke="#5b4f4a" stroke-width="1.6" stroke-opacity="0.8"/>
<polygon points="384.3,522.2 416.0,514.3 416.0,530.0 384.3,537.9" fill="#3e3330" />
<line x1="384.3" y1="522.2" x2="416.0" y2="514.3" stroke="#5b4f4a" stroke-width="1.6" stroke-opacity="0.8"/>
<polygon points="423.9,512.4 455.3,504.6 455.3,520.1 423.9,528.0" fill="#3e3330" />
<line x1="423.9" y1="512.4" x2="455.3" y2="504.6" stroke="#5b4f4a" stroke-width="1.6" stroke-opacity="0.8"/>
<polygon points="463.1,502.6 494.3,494.9 494.3,510.4 463.1,518.2" fill="#3e3330" />
<line x1="463.1" y1="502.6" x2="494.3" y2="494.9" stroke="#5b4f4a" stroke-width="1.6" stroke-opacity="0.8"/>
<polygon points="502.0,493.0 532.9,485.3 532.9,500.8 502.0,508.5" fill="#3e3330" />
<line x1="502.0" y1="493.0" x2="532.9" y2="485.3" stroke="#5b4f4a" stroke-width="1.6" stroke-opacity="0.8"/>
<polygon points="540.6,483.4 571.2,475.8 571.2,491.2 540.6,498.8" fill="#3e3330" />
<line x1="540.6" y1="483.4" x2="571.2" y2="475.8" stroke="#5b4f4a" stroke-width="1.6" stroke-opacity="0.8"/>
<polygon points="578.9,473.9 609.2,466.4 609.2,481.7 578.9,489.3" fill="#3e3330" />
<line x1="578.9" y1="473.9" x2="609.2" y2="466.4" stroke="#5b4f4a" stroke-width="1.6" stroke-opacity="0.8"/>
<polygon points="304.0,564.1 336.3,556.0 336.3,571.8 304.0,579.9" fill="#3e3330" />
<line x1="304.0" y1="564.1" x2="336.3" y2="556.0" stroke="#5b4f4a" stroke-width="1.6" stroke-opacity="0.8"/>
<polygon points="344.3,554.0 376.3,546.0 376.3,561.7 344.3,569.7" fill="#3e3330" />
<line x1="344.3" y1="554.0" x2="376.3" y2="546.0" stroke="#5b4f4a" stroke-width="1.6" stroke-opacity="0.8"/>
<polygon points="384.3,544.0 416.0,536.0 416.0,551.7 384.3,559.7" fill="#3e3330" />
<line x1="384.3" y1="544.0" x2="416.0" y2="536.0" stroke="#5b4f4a" stroke-width="1.6" stroke-opacity="0.8"/>
<polygon points="423.9,534.1 455.3,526.2 455.3,541.8 423.9,549.7" fill="#3e3330" />
<line x1="423.9" y1="534.1" x2="455.3" y2="526.2" stroke="#5b4f4a" stroke-width="1.6" stroke-opacity="0.8"/>
<polygon points="463.1,524.2 494.3,516.4 494.3,531.9 463.1,539.8" fill="#3e3330" />
<line x1="463.1" y1="524.2" x2="494.3" y2="516.4" stroke="#5b4f4a" stroke-width="1.6" stroke-opacity="0.8"/>
<polygon points="502.0,514.5 532.9,506.8 532.9,522.2 502.0,530.0" fill="#3e3330" />
<line x1="502.0" y1="514.5" x2="532.9" y2="506.8" stroke="#5b4f4a" stroke-width="1.6" stroke-opacity="0.8"/>
<polygon points="540.6,504.8 571.2,497.2 571.2,512.6 540.6,520.3" fill="#3e3330" />
<line x1="540.6" y1="504.8" x2="571.2" y2="497.2" stroke="#5b4f4a" stroke-width="1.6" stroke-opacity="0.8"/>
<polygon points="578.9,495.3 609.2,487.7 609.2,503.0 578.9,510.6" fill="#3e3330" />
<line x1="578.9" y1="495.3" x2="609.2" y2="487.7" stroke="#5b4f4a" stroke-width="1.6" stroke-opacity="0.8"/>
<polygon points="304.0,586.1 336.3,577.9 336.3,593.7 304.0,601.9" fill="#3e3330" />
<line x1="304.0" y1="586.1" x2="336.3" y2="577.9" stroke="#5b4f4a" stroke-width="1.6" stroke-opacity="0.8"/>
<polygon points="344.3,575.9 376.3,567.8 376.3,583.5 344.3,591.6" fill="#3e3330" />
<line x1="344.3" y1="575.9" x2="376.3" y2="567.8" stroke="#5b4f4a" stroke-width="1.6" stroke-opacity="0.8"/>
<polygon points="384.3,565.8 416.0,557.8 416.0,573.4 384.3,581.5" fill="#3e3330" />
<line x1="384.3" y1="565.8" x2="416.0" y2="557.8" stroke="#5b4f4a" stroke-width="1.6" stroke-opacity="0.8"/>
<polygon points="423.9,555.8 455.3,547.8 455.3,563.4 423.9,571.4" fill="#3e3330" />
<line x1="423.9" y1="555.8" x2="455.3" y2="547.8" stroke="#5b4f4a" stroke-width="1.6" stroke-opacity="0.8"/>
<polygon points="463.1,545.9 494.3,538.0 494.3,553.5 463.1,561.4" fill="#3e3330" />
<line x1="463.1" y1="545.9" x2="494.3" y2="538.0" stroke="#5b4f4a" stroke-width="1.6" stroke-opacity="0.8"/>
<polygon points="502.0,536.0 532.9,528.2 532.9,543.7 502.0,551.5" fill="#3e3330" />
<line x1="502.0" y1="536.0" x2="532.9" y2="528.2" stroke="#5b4f4a" stroke-width="1.6" stroke-opacity="0.8"/>
<polygon points="540.6,526.3 571.2,518.5 571.2,533.9 540.6,541.7" fill="#3e3330" />
<line x1="540.6" y1="526.3" x2="571.2" y2="518.5" stroke="#5b4f4a" stroke-width="1.6" stroke-opacity="0.8"/>
<polygon points="578.9,516.6 609.2,508.9 609.2,524.2 578.9,532.0" fill="#3e3330" />
<line x1="578.9" y1="516.6" x2="609.2" y2="508.9" stroke="#5b4f4a" stroke-width="1.6" stroke-opacity="0.8"/>
<polygon points="304.0,608.0 336.3,599.8 336.3,615.6 304.0,623.9" fill="#3e3330" />
<line x1="304.0" y1="608.0" x2="336.3" y2="599.8" stroke="#5b4f4a" stroke-width="1.6" stroke-opacity="0.8"/>
<polygon points="344.3,597.8 376.3,589.6 376.3,605.3 344.3,613.5" fill="#3e3330" />
<line x1="344.3" y1="597.8" x2="376.3" y2="589.6" stroke="#5b4f4a" stroke-width="1.6" stroke-opacity="0.8"/>
<polygon points="384.3,587.6 416.0,579.5 416.0,595.1 384.3,603.3" fill="#3e3330" />
<line x1="384.3" y1="587.6" x2="416.0" y2="579.5" stroke="#5b4f4a" stroke-width="1.6" stroke-opacity="0.8"/>
<polygon points="423.9,577.5 455.3,569.5 455.3,585.0 423.9,593.1" fill="#3e3330" />
<line x1="423.9" y1="577.5" x2="455.3" y2="569.5" stroke="#5b4f4a" stroke-width="1.6" stroke-opacity="0.8"/>
<polygon points="463.1,567.5 494.3,559.5 494.3,575.0 463.1,583.0" fill="#3e3330" />
<line x1="463.1" y1="567.5" x2="494.3" y2="559.5" stroke="#5b4f4a" stroke-width="1.6" stroke-opacity="0.8"/>
<polygon points="502.0,557.5 532.9,549.7 532.9,565.1 502.0,573.0" fill="#3e3330" />
<line x1="502.0" y1="557.5" x2="532.9" y2="549.7" stroke="#5b4f4a" stroke-width="1.6" stroke-opacity="0.8"/>
<polygon points="540.6,547.7 571.2,539.9 571.2,555.3 540.6,563.1" fill="#3e3330" />
<line x1="540.6" y1="547.7" x2="571.2" y2="539.9" stroke="#5b4f4a" stroke-width="1.6" stroke-opacity="0.8"/>
<polygon points="578.9,537.9 609.2,530.2 609.2,545.5 578.9,553.3" fill="#3e3330" />
<line x1="578.9" y1="537.9" x2="609.2" y2="530.2" stroke="#5b4f4a" stroke-width="1.6" stroke-opacity="0.8"/>
<polygon points="304.0,630.0 336.3,621.7 336.3,637.5 304.0,645.9" fill="#3e3330" />
<line x1="304.0" y1="630.0" x2="336.3" y2="621.7" stroke="#5b4f4a" stroke-width="1.6" stroke-opacity="0.8"/>
<polygon points="344.3,619.7 376.3,611.4 376.3,627.1 344.3,635.4" fill="#3e3330" />
<line x1="344.3" y1="619.7" x2="376.3" y2="611.4" stroke="#5b4f4a" stroke-width="1.6" stroke-opacity="0.8"/>
<polygon points="384.3,609.4 416.0,601.2 416.0,616.9 384.3,625.1" fill="#3e3330" />
<line x1="384.3" y1="609.4" x2="416.0" y2="601.2" stroke="#5b4f4a" stroke-width="1.6" stroke-opacity="0.8"/>
<polygon points="423.9,599.2 455.3,591.1 455.3,606.7 423.9,614.8" fill="#3e3330" />
<line x1="423.9" y1="599.2" x2="455.3" y2="591.1" stroke="#5b4f4a" stroke-width="1.6" stroke-opacity="0.8"/>
<polygon points="463.1,589.1 494.3,581.0 494.3,596.6 463.1,604.6" fill="#3e3330" />
<line x1="463.1" y1="589.1" x2="494.3" y2="581.0" stroke="#5b4f4a" stroke-width="1.6" stroke-opacity="0.8"/>
<polygon points="502.0,579.1 532.9,571.1 532.9,586.5 502.0,594.5" fill="#3e3330" />
<line x1="502.0" y1="579.1" x2="532.9" y2="571.1" stroke="#5b4f4a" stroke-width="1.6" stroke-opacity="0.8"/>
<polygon points="540.6,569.1 571.2,561.2 571.2,576.6 540.6,584.5" fill="#3e3330" />
<line x1="540.6" y1="569.1" x2="571.2" y2="561.2" stroke="#5b4f4a" stroke-width="1.6" stroke-opacity="0.8"/>
<polygon points="578.9,559.3 609.2,551.4 609.2,566.8 578.9,574.6" fill="#3e3330" />
<line x1="578.9" y1="559.3" x2="609.2" y2="551.4" stroke="#5b4f4a" stroke-width="1.6" stroke-opacity="0.8"/>
<polygon points="304.0,652.0 336.3,643.6 336.3,659.4 304.0,667.9" fill="#3e3330" />
<line x1="304.0" y1="652.0" x2="336.3" y2="643.6" stroke="#5b4f4a" stroke-width="1.6" stroke-opacity="0.8"/>
<polygon points="344.3,641.6 376.3,633.2 376.3,649.0 344.3,657.3" fill="#3e3330" />
<line x1="344.3" y1="641.6" x2="376.3" y2="633.2" stroke="#5b4f4a" stroke-width="1.6" stroke-opacity="0.8"/>
<polygon points="384.3,631.2 416.0,622.9 416.0,638.6 384.3,646.9" fill="#3e3330" />
<line x1="384.3" y1="631.2" x2="416.0" y2="622.9" stroke="#5b4f4a" stroke-width="1.6" stroke-opacity="0.8"/>
<polygon points="423.9,620.9 455.3,612.7 455.3,628.3 423.9,636.5" fill="#3e3330" />
<line x1="423.9" y1="620.9" x2="455.3" y2="612.7" stroke="#5b4f4a" stroke-width="1.6" stroke-opacity="0.8"/>
<polygon points="463.1,610.7 494.3,602.6 494.3,618.1 463.1,626.2" fill="#3e3330" />
<line x1="463.1" y1="610.7" x2="494.3" y2="602.6" stroke="#5b4f4a" stroke-width="1.6" stroke-opacity="0.8"/>
<polygon points="502.0,600.6 532.9,592.5 532.9,608.0 502.0,616.1" fill="#3e3330" />
<line x1="502.0" y1="600.6" x2="532.9" y2="592.5" stroke="#5b4f4a" stroke-width="1.6" stroke-opacity="0.8"/>
<polygon points="540.6,590.5 571.2,582.6 571.2,598.0 540.6,606.0" fill="#3e3330" />
<line x1="540.6" y1="590.5" x2="571.2" y2="582.6" stroke="#5b4f4a" stroke-width="1.6" stroke-opacity="0.8"/>
<polygon points="578.9,580.6 609.2,572.7 609.2,588.0 578.9,596.0" fill="#3e3330" />
<line x1="578.9" y1="580.6" x2="609.2" y2="572.7" stroke="#5b4f4a" stroke-width="1.6" stroke-opacity="0.8"/>
</g>
<polygon points="279.0,481.0 320.0,477.0 320.0,519.0 279.0,493.0" fill="#2a2321" />
<polygon points="320.0,477.0 613.0,408.0 613.0,420.0 320.0,489.0" fill="#41342f" />
<polygon points="641.0,411.0 908.0,525.0 908.0,542.0 668.0,604.0 641.0,592.0" fill="#281e1c" />
<clipPath id="cpIBR"><polygon points="641.0,413.0 908.0,527.0 908.0,542.0 668.0,604.0 641.0,592.0"/></clipPath>
<g clip-path="url(#cpIBR)">
<polygon points="651.9,431.1 682.9,444.4 682.9,461.8 651.9,448.5" fill="#3b302d" />
<line x1="651.9" y1="431.1" x2="682.9" y2="444.4" stroke="#5b4f4a" stroke-width="1.6" stroke-opacity="0.8"/>
<polygon points="690.5,447.7 721.1,460.8 721.1,478.1 690.5,465.1" fill="#3b302d" />
<line x1="690.5" y1="447.7" x2="721.1" y2="460.8" stroke="#5b4f4a" stroke-width="1.6" stroke-opacity="0.8"/>
<polygon points="728.7,464.1 758.8,477.0 758.8,494.2 728.7,481.3" fill="#3b302d" />
<line x1="728.7" y1="464.1" x2="758.8" y2="477.0" stroke="#5b4f4a" stroke-width="1.6" stroke-opacity="0.8"/>
<polygon points="766.2,480.3 795.9,493.0 795.9,510.1 766.2,497.4" fill="#3b302d" />
<line x1="766.2" y1="480.3" x2="795.9" y2="493.0" stroke="#5b4f4a" stroke-width="1.6" stroke-opacity="0.8"/>
<polygon points="803.3,496.2 832.6,508.8 832.6,525.7 803.3,513.2" fill="#3b302d" />
<line x1="803.3" y1="496.2" x2="832.6" y2="508.8" stroke="#5b4f4a" stroke-width="1.6" stroke-opacity="0.8"/>
<polygon points="839.9,511.9 868.8,524.4 868.8,541.2 839.9,528.8" fill="#3b302d" />
<line x1="839.9" y1="511.9" x2="868.8" y2="524.4" stroke="#5b4f4a" stroke-width="1.6" stroke-opacity="0.8"/>
<polygon points="876.0,527.5 904.5,539.7 904.5,556.4 876.0,544.2" fill="#3b302d" />
<line x1="876.0" y1="527.5" x2="904.5" y2="539.7" stroke="#5b4f4a" stroke-width="1.6" stroke-opacity="0.8"/>
<polygon points="651.9,455.3 682.9,468.5 682.9,485.9 651.9,472.8" fill="#3b302d" />
<line x1="651.9" y1="455.3" x2="682.9" y2="468.5" stroke="#5b4f4a" stroke-width="1.6" stroke-opacity="0.8"/>
<polygon points="690.5,471.8 721.1,484.8 721.1,502.1 690.5,489.2" fill="#3b302d" />
<line x1="690.5" y1="471.8" x2="721.1" y2="484.8" stroke="#5b4f4a" stroke-width="1.6" stroke-opacity="0.8"/>
<polygon points="728.7,488.0 758.8,500.8 758.8,518.0 728.7,505.3" fill="#3b302d" />
<line x1="728.7" y1="488.0" x2="758.8" y2="500.8" stroke="#5b4f4a" stroke-width="1.6" stroke-opacity="0.8"/>
<polygon points="766.2,504.0 795.9,516.7 795.9,533.7 766.2,521.1" fill="#3b302d" />
<line x1="766.2" y1="504.0" x2="795.9" y2="516.7" stroke="#5b4f4a" stroke-width="1.6" stroke-opacity="0.8"/>
<polygon points="803.3,519.8 832.6,532.3 832.6,549.2 803.3,536.8" fill="#3b302d" />
<line x1="803.3" y1="519.8" x2="832.6" y2="532.3" stroke="#5b4f4a" stroke-width="1.6" stroke-opacity="0.8"/>
<polygon points="839.9,535.4 868.8,547.7 868.8,564.5 839.9,552.3" fill="#3b302d" />
<line x1="839.9" y1="535.4" x2="868.8" y2="547.7" stroke="#5b4f4a" stroke-width="1.6" stroke-opacity="0.8"/>
<polygon points="876.0,550.7 904.5,562.9 904.5,579.5 876.0,567.5" fill="#3b302d" />
<line x1="876.0" y1="550.7" x2="904.5" y2="562.9" stroke="#5b4f4a" stroke-width="1.6" stroke-opacity="0.8"/>
<polygon points="651.9,479.6 682.9,492.7 682.9,510.0 651.9,497.1" fill="#3b302d" />
<line x1="651.9" y1="479.6" x2="682.9" y2="492.7" stroke="#5b4f4a" stroke-width="1.6" stroke-opacity="0.8"/>
<polygon points="690.5,495.9 721.1,508.8 721.1,526.0 690.5,513.2" fill="#3b302d" />
<line x1="690.5" y1="495.9" x2="721.1" y2="508.8" stroke="#5b4f4a" stroke-width="1.6" stroke-opacity="0.8"/>
<polygon points="728.7,512.0 758.8,524.6 758.8,541.8 728.7,529.2" fill="#3b302d" />
<line x1="728.7" y1="512.0" x2="758.8" y2="524.6" stroke="#5b4f4a" stroke-width="1.6" stroke-opacity="0.8"/>
<polygon points="766.2,527.8 795.9,540.3 795.9,557.3 766.2,544.9" fill="#3b302d" />
<line x1="766.2" y1="527.8" x2="795.9" y2="540.3" stroke="#5b4f4a" stroke-width="1.6" stroke-opacity="0.8"/>
<polygon points="803.3,543.4 832.6,555.8 832.6,572.7 803.3,560.4" fill="#3b302d" />
<line x1="803.3" y1="543.4" x2="832.6" y2="555.8" stroke="#5b4f4a" stroke-width="1.6" stroke-opacity="0.8"/>
<polygon points="839.9,558.8 868.8,571.0 868.8,587.8 839.9,575.7" fill="#3b302d" />
<line x1="839.9" y1="558.8" x2="868.8" y2="571.0" stroke="#5b4f4a" stroke-width="1.6" stroke-opacity="0.8"/>
<polygon points="876.0,574.0 904.5,586.0 904.5,602.7 876.0,590.8" fill="#3b302d" />
<line x1="876.0" y1="574.0" x2="904.5" y2="586.0" stroke="#5b4f4a" stroke-width="1.6" stroke-opacity="0.8"/>
<polygon points="651.9,503.9 682.9,516.8 682.9,534.2 651.9,521.4" fill="#3b302d" />
<line x1="651.9" y1="503.9" x2="682.9" y2="516.8" stroke="#5b4f4a" stroke-width="1.6" stroke-opacity="0.8"/>
<polygon points="690.5,520.0 721.1,532.7 721.1,550.0 690.5,537.3" fill="#3b302d" />
<line x1="690.5" y1="520.0" x2="721.1" y2="532.7" stroke="#5b4f4a" stroke-width="1.6" stroke-opacity="0.8"/>
<polygon points="728.7,535.9 758.8,548.4 758.8,565.6 728.7,553.1" fill="#3b302d" />
<line x1="728.7" y1="535.9" x2="758.8" y2="548.4" stroke="#5b4f4a" stroke-width="1.6" stroke-opacity="0.8"/>
<polygon points="766.2,551.6 795.9,563.9 795.9,581.0 766.2,568.7" fill="#3b302d" />
<line x1="766.2" y1="551.6" x2="795.9" y2="563.9" stroke="#5b4f4a" stroke-width="1.6" stroke-opacity="0.8"/>
<polygon points="803.3,567.0 832.6,579.2 832.6,596.1 803.3,584.0" fill="#3b302d" />
<line x1="803.3" y1="567.0" x2="832.6" y2="579.2" stroke="#5b4f4a" stroke-width="1.6" stroke-opacity="0.8"/>
<polygon points="839.9,582.3 868.8,594.3 868.8,611.1 839.9,599.1" fill="#3b302d" />
<line x1="839.9" y1="582.3" x2="868.8" y2="594.3" stroke="#5b4f4a" stroke-width="1.6" stroke-opacity="0.8"/>
<polygon points="876.0,597.3 904.5,609.2 904.5,625.9 876.0,614.1" fill="#3b302d" />
<line x1="876.0" y1="597.3" x2="904.5" y2="609.2" stroke="#5b4f4a" stroke-width="1.6" stroke-opacity="0.8"/>
<polygon points="651.9,528.1 682.9,540.9 682.9,558.3 651.9,545.6" fill="#3b302d" />
<line x1="651.9" y1="528.1" x2="682.9" y2="540.9" stroke="#5b4f4a" stroke-width="1.6" stroke-opacity="0.8"/>
<polygon points="690.5,544.1 721.1,556.7 721.1,573.9 690.5,561.4" fill="#3b302d" />
<line x1="690.5" y1="544.1" x2="721.1" y2="556.7" stroke="#5b4f4a" stroke-width="1.6" stroke-opacity="0.8"/>
<polygon points="728.7,559.8 758.8,572.2 758.8,589.4 728.7,577.1" fill="#3b302d" />
<line x1="728.7" y1="559.8" x2="758.8" y2="572.2" stroke="#5b4f4a" stroke-width="1.6" stroke-opacity="0.8"/>
<polygon points="766.2,575.3 795.9,587.6 795.9,604.6 766.2,592.4" fill="#3b302d" />
<line x1="766.2" y1="575.3" x2="795.9" y2="587.6" stroke="#5b4f4a" stroke-width="1.6" stroke-opacity="0.8"/>
<polygon points="803.3,590.6 832.6,602.7 832.6,619.6 803.3,607.6" fill="#3b302d" />
<line x1="803.3" y1="590.6" x2="832.6" y2="602.7" stroke="#5b4f4a" stroke-width="1.6" stroke-opacity="0.8"/>
<polygon points="839.9,605.7 868.8,617.6 868.8,634.4 839.9,622.6" fill="#3b302d" />
<line x1="839.9" y1="605.7" x2="868.8" y2="617.6" stroke="#5b4f4a" stroke-width="1.6" stroke-opacity="0.8"/>
<polygon points="876.0,620.6 904.5,632.4 904.5,649.0 876.0,637.4" fill="#3b302d" />
<line x1="876.0" y1="620.6" x2="904.5" y2="632.4" stroke="#5b4f4a" stroke-width="1.6" stroke-opacity="0.8"/>
<polygon points="651.9,552.4 682.9,565.1 682.9,582.4 651.9,569.9" fill="#3b302d" />
<line x1="651.9" y1="552.4" x2="682.9" y2="565.1" stroke="#5b4f4a" stroke-width="1.6" stroke-opacity="0.8"/>
<polygon points="690.5,568.2 721.1,580.7 721.1,597.9 690.5,585.5" fill="#3b302d" />
<line x1="690.5" y1="568.2" x2="721.1" y2="580.7" stroke="#5b4f4a" stroke-width="1.6" stroke-opacity="0.8"/>
<polygon points="728.7,583.8 758.8,596.0 758.8,613.2 728.7,601.0" fill="#3b302d" />
<line x1="728.7" y1="583.8" x2="758.8" y2="596.0" stroke="#5b4f4a" stroke-width="1.6" stroke-opacity="0.8"/>
<polygon points="766.2,599.1 795.9,611.2 795.9,628.2 766.2,616.2" fill="#3b302d" />
<line x1="766.2" y1="599.1" x2="795.9" y2="611.2" stroke="#5b4f4a" stroke-width="1.6" stroke-opacity="0.8"/>
<polygon points="803.3,614.2 832.6,626.2 832.6,643.1 803.3,631.2" fill="#3b302d" />
<line x1="803.3" y1="614.2" x2="832.6" y2="626.2" stroke="#5b4f4a" stroke-width="1.6" stroke-opacity="0.8"/>
<polygon points="839.9,629.1 868.8,640.9 868.8,657.7 839.9,646.0" fill="#3b302d" />
<line x1="839.9" y1="629.1" x2="868.8" y2="640.9" stroke="#5b4f4a" stroke-width="1.6" stroke-opacity="0.8"/>
<polygon points="876.0,643.9 904.5,655.5 904.5,672.2 876.0,660.6" fill="#3b302d" />
<line x1="876.0" y1="643.9" x2="904.5" y2="655.5" stroke="#5b4f4a" stroke-width="1.6" stroke-opacity="0.8"/>
<polygon points="651.9,576.7 682.9,589.2 682.9,606.6 651.9,594.2" fill="#3b302d" />
<line x1="651.9" y1="576.7" x2="682.9" y2="589.2" stroke="#5b4f4a" stroke-width="1.6" stroke-opacity="0.8"/>
<polygon points="690.5,592.3 721.1,604.6 721.1,621.9 690.5,609.6" fill="#3b302d" />
<line x1="690.5" y1="592.3" x2="721.1" y2="604.6" stroke="#5b4f4a" stroke-width="1.6" stroke-opacity="0.8"/>
<polygon points="728.7,607.7 758.8,619.8 758.8,637.0 728.7,624.9" fill="#3b302d" />
<line x1="728.7" y1="607.7" x2="758.8" y2="619.8" stroke="#5b4f4a" stroke-width="1.6" stroke-opacity="0.8"/>
<polygon points="766.2,622.9 795.9,634.8 795.9,651.9 766.2,640.0" fill="#3b302d" />
<line x1="766.2" y1="622.9" x2="795.9" y2="634.8" stroke="#5b4f4a" stroke-width="1.6" stroke-opacity="0.8"/>
<polygon points="803.3,637.8 832.6,649.7 832.6,666.6 803.3,654.8" fill="#3b302d" />
<line x1="803.3" y1="637.8" x2="832.6" y2="649.7" stroke="#5b4f4a" stroke-width="1.6" stroke-opacity="0.8"/>
<polygon points="839.9,652.6 868.8,664.3 868.8,681.0 839.9,669.5" fill="#3b302d" />
<line x1="839.9" y1="652.6" x2="868.8" y2="664.3" stroke="#5b4f4a" stroke-width="1.6" stroke-opacity="0.8"/>
<polygon points="876.0,667.2 904.5,678.7 904.5,695.3 876.0,683.9" fill="#3b302d" />
<line x1="876.0" y1="667.2" x2="904.5" y2="678.7" stroke="#5b4f4a" stroke-width="1.6" stroke-opacity="0.8"/>
</g>
<polygon points="641.0,410.0 908.0,524.0 908.0,536.0 641.0,422.0" fill="#3f322e" />
<polygon points="641.0,411.0 646.3,411.7 651.7,412.6 657.0,413.8 662.4,415.4 667.7,417.4 673.0,419.9 678.4,422.9 683.7,426.3 689.1,430.0 694.4,433.8 699.7,434.5 705.1,435.4 710.4,436.6 715.8,438.2 721.1,440.2 726.4,442.7 731.8,445.7 737.1,449.1 742.5,452.8 747.8,456.6 753.1,457.3 758.5,458.2 763.8,459.4 769.2,461.0 774.5,463.0 779.8,465.5 785.2,468.5 790.5,471.9 795.9,475.6 801.2,479.4 806.5,480.1 811.9,481.0 817.2,482.2 822.6,483.8 827.9,485.8 833.2,488.3 838.6,491.3 843.9,494.7 849.3,498.4 854.6,502.2 859.9,502.9 865.3,503.8 870.6,505.0 876.0,506.6 881.3,508.6 886.6,511.1 892.0,514.1 897.3,517.5 902.7,521.2 908.0,525.0 908.0,527.0 641.0,413.0" fill="#2e2422" />
<polygon points="322.0,477.0 327.8,474.1 333.6,471.3 339.5,468.9 345.3,466.8 351.1,465.2 356.9,464.1 362.7,463.4 368.6,463.2 374.4,463.2 380.2,463.4 386.0,460.5 391.8,457.7 397.7,455.3 403.5,453.2 409.3,451.6 415.1,450.5 420.9,449.8 426.8,449.6 432.6,449.6 438.4,449.8 444.2,446.9 450.0,444.1 455.9,441.7 461.7,439.6 467.5,438.0 473.3,436.9 479.1,436.2 485.0,436.0 490.8,436.0 496.6,436.2 502.4,433.3 508.2,430.5 514.1,428.1 519.9,426.0 525.7,424.4 531.5,423.3 537.3,422.6 543.2,422.4 549.0,422.4 554.8,422.6 560.6,419.7 566.4,416.9 572.3,414.5 578.1,412.4 583.9,410.8 589.7,409.7 595.5,409.0 601.4,408.8 607.2,408.8 613.0,409.0 613.0,411.0 322.0,479.0" fill="#2e2422" />
<polygon points="613.0,401.0 641.0,401.0 641.0,593.0 613.0,593.0" fill="#2f2624" />
<polygon points="619.0,401.0 628.0,401.0 628.0,593.0 619.0,593.0" fill="#463b37" />
<polygon points="633.0,401.0 637.0,401.0 637.0,593.0 633.0,593.0" fill="#1b1312" />
<polygon points="500.0,607.0 616.0,577.0 622.0,590.0 665.0,591.0 667.0,601.0 552.0,632.0 520.0,630.0" fill="#f6f6f6" />
<polygon points="612.0,560.0 642.0,560.0 648.0,592.0 614.0,594.0" fill="#2b2422" />
<line x1="301" y1="476" x2="521" y2="615" stroke="#3c3c40" stroke-width="4.5"/>
<line x1="560" y1="612" x2="900" y2="523" stroke="#45474b" stroke-width="4.5"/>
<line x1="548" y1="621" x2="640" y2="597" stroke="#222" stroke-width="4"/>
<path d="M520.2,555.5 Q535,553 549.8,555.5 L574.0,582 L572.0,585.5 L553.0,587.5 L553.0,604 Q551.0,610 535.0,610.5 Q519.0,610 517.0,604 L517.0,587.5 L498.0,585.5 L496.0,582 Z" fill="#1c1d1e" />
<path d="M503.0,581.5 L522.2,559 L530.0,559 L530.0,584 Z" fill="#3b3d3e"/>
<path d="M567.0,581.5 L547.8,559 L537.0,559 L537.0,584 Z" fill="#2a2b2c"/>
<path d="M519.0,588 L530.0,586 L530.0,606 L519.0,603 Z" fill="#333536"/>
<line x1="533.5" y1="558" x2="533.5" y2="605" stroke="#6a6c6d" stroke-width="2.6"/>
<polygon points="277.0,489.0 440.0,585.0 503.0,624.0 500.0,842.0 491.0,838.0 297.0,683.0 277.0,672.0" fill="#2a201e" />
<clipPath id="cpFL"><path d="M277,489 L503,624 L500,845 C480,838 470,815 450,803 C430,792 420,775 400,763 C380,752 365,730 345,718 C330,708 315,690 297,684 L277,672 Z"/></clipPath>
<g clip-path="url(#cpFL)">
<polygon points="277.0,503.0 280.8,506.8 284.6,509.0 288.4,509.6 292.2,510.2 296.1,512.5 300.1,516.4 304.1,520.3 308.1,522.6 312.1,523.3 316.1,524.0 320.2,526.4 324.4,530.5 328.6,534.6 332.9,537.0 337.1,537.8 341.3,538.6 345.6,541.1 350.1,545.3 354.5,549.6 359.0,552.2 363.4,553.1 367.9,554.0 372.5,556.7 377.2,561.1 381.9,565.5 386.6,568.3 391.3,569.3 396.1,570.3 401.0,573.1 405.9,577.7 410.8,582.4 415.8,585.3 420.9,586.4 426.0,587.5 431.1,590.5 436.3,595.3 441.5,600.2 446.8,603.3 452.2,604.6 457.7,605.8 463.1,609.0 468.6,614.1 474.2,619.2 479.8,622.5 485.5,623.9 491.3,625.3 497.2,628.7 503.0,634.0 502.5,652.3 496.7,646.9 490.9,643.5 485.1,641.9 479.4,640.4 473.8,637.1 468.3,631.9 462.9,626.8 457.4,623.6 452.0,622.2 446.7,620.8 441.4,617.7 436.2,612.8 431.1,607.9 425.9,604.8 420.9,603.6 415.9,602.4 410.9,599.4 406.0,594.7 401.1,590.1 396.3,587.2 391.5,586.1 386.8,585.0 382.1,582.2 377.5,577.7 372.8,573.3 368.3,570.5 363.8,569.6 359.4,568.6 354.9,565.9 350.5,561.6 346.1,557.4 341.8,554.8 337.6,553.9 333.4,553.0 329.2,550.5 325.0,546.4 320.8,542.3 316.7,539.9 312.7,539.1 308.8,538.3 304.8,535.9 300.8,532.0 296.8,528.0 292.9,525.7 289.1,525.0 285.4,524.4 281.6,522.1 277.8,518.3" fill="#564a46" />
<polyline points="277.3,507.9 281.1,511.4 284.9,513.7 288.6,514.6 292.4,515.5 296.3,517.7 300.3,521.4 304.3,525.1 308.3,527.4 312.3,528.4 316.3,529.4 320.4,531.8 324.6,535.6 328.8,539.4 333.0,541.9 337.2,543.0 341.5,544.1 345.8,546.6 350.2,550.6 354.6,554.6 359.1,557.2 363.5,558.4 368.0,559.6 372.6,562.3 377.3,566.4 382.0,570.6 386.7,573.4 391.4,574.7 396.2,576.0 401.0,578.8 405.9,583.2 410.9,587.5 415.8,590.5 420.9,591.9 426.0,593.4 431.1,596.4 436.3,600.9 441.5,605.5 446.8,608.6 452.2,610.2 457.6,611.9 463.0,615.0 468.5,619.8 474.1,624.6 479.7,627.9 485.4,629.7 491.2,631.5 497.0,634.9 502.8,639.9" fill="none" stroke="#6d615b" stroke-width="2.2" stroke-opacity="0.55"/>
<polygon points="277.8,518.3 281.6,522.1 285.4,524.4 289.1,525.0 292.9,525.7 296.8,528.0 300.8,532.0 304.8,535.9 308.8,538.3 312.7,539.1 316.7,539.9 320.8,542.3 325.0,546.4 329.2,550.5 333.4,553.0 337.6,553.9 341.8,554.8 346.1,557.4 350.5,561.6 354.9,565.9 359.4,568.6 363.8,569.6 368.3,570.5 372.8,573.3 377.5,577.7 382.1,582.2 386.8,585.0 391.5,586.1 396.3,587.2 401.1,590.1 406.0,594.7 410.9,599.4 415.9,602.4 420.9,603.6 425.9,604.8 431.1,607.9 436.2,612.8 441.4,617.7 446.7,620.8 452.0,622.2 457.4,623.6 462.9,626.8 468.3,631.9 473.8,637.1 479.4,640.4 485.1,641.9 490.9,643.5 496.7,646.9 502.5,652.3 501.9,670.3 496.2,664.9 490.4,661.4 484.7,659.7 479.1,658.1 473.5,654.7 468.0,649.5 462.6,644.4 457.2,641.1 451.8,639.6 446.5,638.1 441.3,634.9 436.1,630.0 431.0,625.1 425.9,621.9 420.9,620.6 415.9,619.3 411.0,616.3 406.1,611.5 401.2,606.9 396.4,603.9 391.7,602.7 387.0,601.6 382.4,598.7 377.7,594.2 373.1,589.7 368.6,586.9 364.1,585.8 359.7,584.8 355.3,582.1 350.9,577.7 346.5,573.4 342.3,570.8 338.1,569.8 333.9,568.9 329.7,566.3 325.5,562.2 321.4,558.0 317.3,555.5 313.3,554.7 309.4,553.8 305.4,551.4 301.4,547.4 297.5,543.4 293.6,541.1 289.9,540.3 286.2,539.5 282.4,537.2 278.6,533.4" fill="#483c38" />
<polyline points="277.8,518.3 281.6,522.1 285.4,524.4 289.1,525.0 292.9,525.7 296.8,528.0 300.8,532.0 304.8,535.9 308.8,538.3 312.7,539.1 316.7,539.9 320.8,542.3 325.0,546.4 329.2,550.5 333.4,553.0 337.6,553.9 341.8,554.8 346.1,557.4 350.5,561.6 354.9,565.9 359.4,568.6 363.8,569.6 368.3,570.5 372.8,573.3 377.5,577.7 382.1,582.2 386.8,585.0 391.5,586.1 396.3,587.2 401.1,590.1 406.0,594.7 410.9,599.4 415.9,602.4 420.9,603.6 425.9,604.8 431.1,607.9 436.2,612.8 441.4,617.7 446.7,620.8 452.0,622.2 457.4,623.6 462.9,626.8 468.3,631.9 473.8,637.1 479.4,640.4 485.1,641.9 490.9,643.5 496.7,646.9 502.5,652.3" fill="none" stroke="#1f1615" stroke-width="1.6" stroke-opacity="0.75"/>
<polyline points="277.0,503.0 280.8,506.8 284.6,509.0 288.4,509.6 292.2,510.2 296.1,512.5 300.1,516.4 304.1,520.3 308.1,522.6 312.1,523.3 316.1,524.0 320.2,526.4 324.4,530.5 328.6,534.6 332.9,537.0 337.1,537.8 341.3,538.6 345.6,541.1 350.1,545.3 354.5,549.6 359.0,552.2 363.4,553.1 367.9,554.0 372.5,556.7 377.2,561.1 381.9,565.5 386.6,568.3 391.3,569.3 396.1,570.3 401.0,573.1 405.9,577.7 410.8,582.4 415.8,585.3 420.9,586.4 426.0,587.5 431.1,590.5 436.3,595.3 441.5,600.2 446.8,603.3 452.2,604.6 457.7,605.8 463.1,609.0 468.6,614.1 474.2,619.2 479.8,622.5 485.5,623.9 491.3,625.3 497.2,628.7 503.0,634.0" fill="none" stroke="#1f1615" stroke-width="1.6" stroke-opacity="0.75"/>
<polygon points="280.7,520.6 285.7,523.6 286.4,537.6 281.5,534.6" fill="#1f1615" />
<polygon points="285.7,522.4 289.8,524.8 290.6,540.7 286.5,538.2" fill="#6c605a" />
<line x1="287.8" y1="524.2" x2="288.5" y2="539.5" stroke="#4a3e3a" stroke-width="1"/>
<polygon points="303.9,534.4 309.1,537.6 309.7,551.9 304.5,548.7" fill="#1f1615" />
<polygon points="309.1,536.3 313.4,538.9 314.1,555.1 309.7,552.5" fill="#6c605a" />
<line x1="311.3" y1="538.2" x2="311.9" y2="553.8" stroke="#4a3e3a" stroke-width="1"/>
<polygon points="328.2,549.0 333.8,552.3 334.2,566.9 328.7,563.5" fill="#1f1615" />
<polygon points="333.7,551.0 338.3,553.7 338.8,570.3 334.3,567.5" fill="#6c605a" />
<line x1="336.0" y1="553.0" x2="336.5" y2="568.9" stroke="#4a3e3a" stroke-width="1"/>
<polygon points="353.9,564.3 359.8,567.8 360.1,582.7 354.3,579.2" fill="#1f1615" />
<polygon points="359.7,566.5 364.6,569.4 364.9,586.3 360.1,583.4" fill="#6c605a" />
<line x1="362.2" y1="568.6" x2="362.5" y2="584.8" stroke="#4a3e3a" stroke-width="1"/>
<polygon points="381.1,580.5 387.3,584.2 387.5,599.5 381.3,595.7" fill="#1f1615" />
<polygon points="387.3,582.9 392.4,585.9 392.6,603.3 387.5,600.1" fill="#6c605a" />
<line x1="389.8" y1="585.1" x2="390.0" y2="601.7" stroke="#4a3e3a" stroke-width="1"/>
<polygon points="409.8,597.7 416.4,601.6 416.4,617.2 409.9,613.2" fill="#1f1615" />
<polygon points="416.4,600.2 421.8,603.5 421.8,621.2 416.4,617.9" fill="#6c605a" />
<line x1="419.1" y1="602.5" x2="419.1" y2="619.5" stroke="#4a3e3a" stroke-width="1"/>
<polygon points="440.3,615.9 447.2,620.0 447.1,636.0 440.2,631.8" fill="#1f1615" />
<polygon points="447.2,618.6 453.0,622.1 452.8,640.2 447.1,636.7" fill="#6c605a" />
<line x1="450.1" y1="621.0" x2="449.9" y2="638.4" stroke="#4a3e3a" stroke-width="1"/>
<polygon points="472.6,635.2 480.0,639.6 479.7,655.9 472.3,651.4" fill="#1f1615" />
<polygon points="480.0,638.2 486.2,641.8 485.7,660.4 479.7,656.6" fill="#6c605a" />
<line x1="483.1" y1="640.7" x2="482.7" y2="658.5" stroke="#4a3e3a" stroke-width="1"/>
<polygon points="278.6,533.4 282.4,537.2 286.2,539.5 289.9,540.3 293.6,541.1 297.5,543.4 301.4,547.4 305.4,551.4 309.4,553.8 313.3,554.7 317.3,555.5 321.4,558.0 325.5,562.2 329.7,566.3 333.9,568.9 338.1,569.8 342.3,570.8 346.5,573.4 350.9,577.7 355.3,582.1 359.7,584.8 364.1,585.8 368.6,586.9 373.1,589.7 377.7,594.2 382.4,598.7 387.0,601.6 391.7,602.7 396.4,603.9 401.2,606.9 406.1,611.5 411.0,616.3 415.9,619.3 420.9,620.6 425.9,621.9 431.0,625.1 436.1,630.0 441.3,634.9 446.5,638.1 451.8,639.6 457.2,641.1 462.6,644.4 468.0,649.5 473.5,654.7 479.1,658.1 484.7,659.7 490.4,661.4 496.2,664.9 501.9,670.3 501.4,688.1 495.7,682.6 490.0,679.0 484.3,677.3 478.7,675.6 473.2,672.1 467.7,666.9 462.4,661.7 457.0,658.3 451.7,656.8 446.4,655.2 441.2,652.0 436.1,647.0 431.0,642.0 425.9,638.8 420.9,637.4 416.0,636.0 411.1,632.9 406.2,628.2 401.4,623.4 396.6,620.4 391.9,619.2 387.3,617.9 382.6,615.0 378.0,610.4 373.4,605.9 368.9,603.1 364.5,601.9 360.1,600.8 355.7,598.0 351.3,593.6 347.0,589.3 342.7,586.6 338.5,585.6 334.4,584.6 330.3,581.9 326.1,577.7 321.9,573.6 317.9,571.0 313.9,570.1 310.0,569.2 306.1,566.7 302.1,562.7 298.2,558.6 294.3,556.2 290.6,555.4 286.9,554.6 283.2,552.2 279.4,548.3" fill="#564a46" />
<polyline points="278.8,538.2 282.6,541.8 286.4,544.1 290.1,545.2 293.9,546.2 297.7,548.6 301.7,552.3 305.6,556.1 309.6,558.5 313.5,559.6 317.5,560.8 321.6,563.3 325.7,567.2 329.9,571.1 334.0,573.7 338.2,574.9 342.4,576.1 346.7,578.8 351.1,582.8 355.5,586.9 359.8,589.6 364.3,591.0 368.7,592.4 373.2,595.2 377.8,599.4 382.5,603.7 387.1,606.5 391.8,608.0 396.5,609.5 401.3,612.5 406.1,616.9 411.0,621.3 415.9,624.4 420.9,626.0 425.9,627.7 431.0,630.8 436.1,635.4 441.3,640.1 446.5,643.3 451.8,645.1 457.1,646.9 462.5,650.2 467.9,655.1 473.4,660.0 479.0,663.4 484.6,665.4 490.3,667.4 496.0,670.9 501.8,676.0" fill="none" stroke="#6d615b" stroke-width="2.2" stroke-opacity="0.55"/>
<polygon points="279.4,548.3 283.2,552.2 286.9,554.6 290.6,555.4 294.3,556.2 298.2,558.6 302.1,562.7 306.1,566.7 310.0,569.2 313.9,570.1 317.9,571.0 321.9,573.6 326.1,577.7 330.3,581.9 334.4,584.6 338.5,585.6 342.7,586.6 347.0,589.3 351.3,593.6 355.7,598.0 360.1,600.8 364.5,601.9 368.9,603.1 373.4,605.9 378.0,610.4 382.6,615.0 387.3,617.9 391.9,619.2 396.6,620.4 401.4,623.4 406.2,628.2 411.1,632.9 416.0,636.0 420.9,637.4 425.9,638.8 431.0,642.0 436.1,647.0 441.2,652.0 446.4,655.2 451.7,656.8 457.0,658.3 462.4,661.7 467.7,666.9 473.2,672.1 478.7,675.6 484.3,677.3 490.0,679.0 495.7,682.6 501.4,688.1 500.9,705.6 495.2,700.1 489.6,696.5 483.9,694.7 478.3,692.9 472.9,689.3 467.5,684.0 462.1,678.8 456.8,675.4 451.5,673.7 446.3,672.1 441.1,668.8 436.0,663.7 430.9,658.7 425.9,655.5 420.9,654.0 416.0,652.5 411.2,649.4 406.3,644.6 401.5,639.8 396.8,636.7 392.1,635.4 387.5,634.1 382.9,631.1 378.3,626.5 373.7,621.9 369.2,619.0 364.8,617.8 360.5,616.6 356.1,613.8 351.8,609.4 347.4,605.0 343.2,602.2 339.0,601.1 334.9,600.1 330.8,597.4 326.6,593.1 322.5,588.9 318.5,586.3 314.6,585.3 310.7,584.4 306.7,581.8 302.8,577.7 298.9,573.7 295.0,571.2 291.3,570.3 287.6,569.5 283.9,567.0 280.1,563.1" fill="#483c38" />
<polyline points="279.4,548.3 283.2,552.2 286.9,554.6 290.6,555.4 294.3,556.2 298.2,558.6 302.1,562.7 306.1,566.7 310.0,569.2 313.9,570.1 317.9,571.0 321.9,573.6 326.1,577.7 330.3,581.9 334.4,584.6 338.5,585.6 342.7,586.6 347.0,589.3 351.3,593.6 355.7,598.0 360.1,600.8 364.5,601.9 368.9,603.1 373.4,605.9 378.0,610.4 382.6,615.0 387.3,617.9 391.9,619.2 396.6,620.4 401.4,623.4 406.2,628.2 411.1,632.9 416.0,636.0 420.9,637.4 425.9,638.8 431.0,642.0 436.1,647.0 441.2,652.0 446.4,655.2 451.7,656.8 457.0,658.3 462.4,661.7 467.7,666.9 473.2,672.1 478.7,675.6 484.3,677.3 490.0,679.0 495.7,682.6 501.4,688.1" fill="none" stroke="#1f1615" stroke-width="1.6" stroke-opacity="0.75"/>
<polyline points="278.6,533.4 282.4,537.2 286.2,539.5 289.9,540.3 293.6,541.1 297.5,543.4 301.4,547.4 305.4,551.4 309.4,553.8 313.3,554.7 317.3,555.5 321.4,558.0 325.5,562.2 329.7,566.3 333.9,568.9 338.1,569.8 342.3,570.8 346.5,573.4 350.9,577.7 355.3,582.1 359.7,584.8 364.1,585.8 368.6,586.9 373.1,589.7 377.7,594.2 382.4,598.7 387.0,601.6 391.7,602.7 396.4,603.9 401.2,606.9 406.1,611.5 411.0,616.3 415.9,619.3 420.9,620.6 425.9,621.9 431.0,625.1 436.1,630.0 441.3,634.9 446.5,638.1 451.8,639.6 457.2,641.1 462.6,644.4 468.0,649.5 473.5,654.7 479.1,658.1 484.7,659.7 490.4,661.4 496.2,664.9 501.9,670.3" fill="none" stroke="#1f1615" stroke-width="1.6" stroke-opacity="0.75"/>
<polygon points="282.3,550.8 287.2,553.9 287.9,567.6 283.0,564.4" fill="#1f1615" />
<polygon points="287.2,552.7 291.2,555.2 292.0,570.8 287.9,568.2" fill="#6c605a" />
<line x1="289.2" y1="554.5" x2="290.0" y2="569.5" stroke="#4a3e3a" stroke-width="1"/>
<polygon points="305.2,565.2 310.4,568.5 311.0,582.4 305.8,579.1" fill="#1f1615" />
<polygon points="310.3,567.2 314.6,569.9 315.3,585.8 311.0,583.0" fill="#6c605a" />
<line x1="312.5" y1="569.2" x2="313.1" y2="584.4" stroke="#4a3e3a" stroke-width="1"/>
<polygon points="329.3,580.4 334.8,583.8 335.3,598.1 329.8,594.6" fill="#1f1615" />
<polygon points="334.7,582.6 339.3,585.4 339.8,601.6 335.3,598.7" fill="#6c605a" />
<line x1="337.0" y1="584.6" x2="337.5" y2="600.2" stroke="#4a3e3a" stroke-width="1"/>
<polygon points="354.7,596.4 360.5,600.0 360.9,614.6 355.1,610.9" fill="#1f1615" />
<polygon points="360.5,598.8 365.3,601.8 365.6,618.3 360.9,615.2" fill="#6c605a" />
<line x1="362.9" y1="600.9" x2="363.3" y2="616.8" stroke="#4a3e3a" stroke-width="1"/>
<polygon points="381.6,613.3 387.7,617.2 387.9,632.1 381.8,628.1" fill="#1f1615" />
<polygon points="387.7,615.9 392.7,619.0 392.9,635.9 387.9,632.7" fill="#6c605a" />
<line x1="390.2" y1="618.1" x2="390.4" y2="634.3" stroke="#4a3e3a" stroke-width="1"/>
<polygon points="410.0,631.2 416.5,635.3 416.5,650.5 410.1,646.3" fill="#1f1615" />
<polygon points="416.5,634.0 421.8,637.3 421.8,654.6 416.5,651.2" fill="#6c605a" />
<line x1="419.1" y1="636.3" x2="419.2" y2="652.9" stroke="#4a3e3a" stroke-width="1"/>
<polygon points="440.1,650.2 446.9,654.5 446.8,670.0 440.0,665.6" fill="#1f1615" />
<polygon points="446.9,653.1 452.6,656.7 452.4,674.3 446.8,670.7" fill="#6c605a" />
<line x1="449.8" y1="655.6" x2="449.6" y2="672.5" stroke="#4a3e3a" stroke-width="1"/>
<polygon points="472.0,670.3 479.3,674.9 478.9,690.8 471.7,686.1" fill="#1f1615" />
<polygon points="479.3,673.5 485.3,677.3 484.9,695.3 478.9,691.4" fill="#6c605a" />
<line x1="482.3" y1="676.0" x2="481.9" y2="693.4" stroke="#4a3e3a" stroke-width="1"/>
<polygon points="280.1,563.1 283.9,567.0 287.6,569.5 291.3,570.3 295.0,571.2 298.9,573.7 302.8,577.7 306.7,581.8 310.7,584.4 314.6,585.3 318.5,586.3 322.5,588.9 326.6,593.1 330.8,597.4 334.9,600.1 339.0,601.1 343.2,602.2 347.4,605.0 351.8,609.4 356.1,613.8 360.5,616.6 364.8,617.8 369.2,619.0 373.7,621.9 378.3,626.5 382.9,631.1 387.5,634.1 392.1,635.4 396.8,636.7 401.5,639.8 406.3,644.6 411.2,649.4 416.0,652.5 420.9,654.0 425.9,655.5 430.9,658.7 436.0,663.7 441.1,668.8 446.3,672.1 451.5,673.7 456.8,675.4 462.1,678.8 467.5,684.0 472.9,689.3 478.3,692.9 483.9,694.7 489.6,696.5 495.2,700.1 500.9,705.6 500.4,722.9 494.8,717.4 489.1,713.7 483.5,711.8 478.0,709.9 472.5,706.3 467.2,701.0 461.9,695.7 456.6,692.2 451.3,690.5 446.1,688.8 441.0,685.4 435.9,680.3 430.9,675.3 425.9,672.0 421.0,670.4 416.1,668.8 411.2,665.6 406.4,660.8 401.7,656.0 396.9,652.9 392.3,651.4 387.7,650.0 383.1,647.0 378.5,642.3 374.0,637.7 369.6,634.8 365.2,633.5 360.8,632.2 356.5,629.4 352.2,624.9 347.9,620.5 343.6,617.7 339.5,616.5 335.4,615.4 331.3,612.6 327.2,608.4 323.1,604.1 319.1,601.5 315.2,600.4 311.3,599.4 307.4,596.8 303.4,592.7 299.5,588.6 295.7,586.1 292.0,585.1 288.4,584.2 284.6,581.7 280.9,577.8" fill="#564a46" />
<polyline points="280.4,567.8 284.1,571.5 287.9,573.9 291.5,575.1 295.3,576.3 299.1,578.7 303.0,582.5 306.9,586.4 310.8,588.9 314.7,590.2 318.7,591.5 322.7,594.1 326.8,598.0 330.9,602.0 335.1,604.7 339.2,606.1 343.3,607.5 347.6,610.2 351.9,614.4 356.2,618.5 360.6,621.3 364.9,622.8 369.4,624.4 373.8,627.3 378.4,631.6 382.9,635.9 387.5,638.9 392.2,640.6 396.8,642.2 401.6,645.3 406.3,649.8 411.2,654.3 416.0,657.5 420.9,659.3 425.9,661.1 430.9,664.3 436.0,669.1 441.1,673.8 446.2,677.2 451.4,679.1 456.7,681.1 462.0,684.5 467.4,689.5 472.8,694.5 478.2,698.0 483.8,700.2 489.4,702.3 495.1,706.0 500.7,711.2" fill="none" stroke="#6d615b" stroke-width="2.2" stroke-opacity="0.55"/>
<polygon points="280.9,577.8 284.6,581.7 288.4,584.2 292.0,585.1 295.7,586.1 299.5,588.6 303.4,592.7 307.4,596.8 311.3,599.4 315.2,600.4 319.1,601.5 323.1,604.1 327.2,608.4 331.3,612.6 335.4,615.4 339.5,616.5 343.6,617.7 347.9,620.5 352.2,624.9 356.5,629.4 360.8,632.2 365.2,633.5 369.6,634.8 374.0,637.7 378.5,642.3 383.1,647.0 387.7,650.0 392.3,651.4 396.9,652.9 401.7,656.0 406.4,660.8 411.2,665.6 416.1,668.8 421.0,670.4 425.9,672.0 430.9,675.3 435.9,680.3 441.0,685.4 446.1,688.8 451.3,690.5 456.6,692.2 461.9,695.7 467.2,701.0 472.5,706.3 478.0,709.9 483.5,711.8 489.1,713.7 494.8,717.4 500.4,722.9 499.9,740.0 494.3,734.4 488.7,730.7 483.1,728.7 477.6,726.7 472.2,723.0 466.9,717.7 461.6,712.4 456.4,708.8 451.1,707.0 446.0,705.2 440.9,701.8 435.8,696.7 430.8,691.6 425.9,688.2 421.0,686.6 416.1,685.0 411.3,681.7 406.5,676.8 401.8,672.0 397.1,668.8 392.5,667.3 387.9,665.8 383.4,662.7 378.8,658.0 374.3,653.4 369.9,650.4 365.5,649.0 361.2,647.7 356.9,644.8 352.6,640.3 348.3,635.8 344.1,633.0 340.0,631.7 335.9,630.5 331.8,627.7 327.7,623.4 323.6,619.2 319.6,616.5 315.7,615.3 311.9,614.2 308.0,611.6 304.1,607.4 300.2,603.3 296.4,600.8 292.7,599.7 289.1,598.7 285.4,596.2 281.6,592.2" fill="#483c38" />
<polyline points="280.9,577.8 284.6,581.7 288.4,584.2 292.0,585.1 295.7,586.1 299.5,588.6 303.4,592.7 307.4,596.8 311.3,599.4 315.2,600.4 319.1,601.5 323.1,604.1 327.2,608.4 331.3,612.6 335.4,615.4 339.5,616.5 343.6,617.7 347.9,620.5 352.2,624.9 356.5,629.4 360.8,632.2 365.2,633.5 369.6,634.8 374.0,637.7 378.5,642.3 383.1,647.0 387.7,650.0 392.3,651.4 396.9,652.9 401.7,656.0 406.4,660.8 411.2,665.6 416.1,668.8 421.0,670.4 425.9,672.0 430.9,675.3 435.9,680.3 441.0,685.4 446.1,688.8 451.3,690.5 456.6,692.2 461.9,695.7 467.2,701.0 472.5,706.3 478.0,709.9 483.5,711.8 489.1,713.7 494.8,717.4 500.4,722.9" fill="none" stroke="#1f1615" stroke-width="1.6" stroke-opacity="0.75"/>
<polyline points="280.1,563.1 283.9,567.0 287.6,569.5 291.3,570.3 295.0,571.2 298.9,573.7 302.8,577.7 306.7,581.8 310.7,584.4 314.6,585.3 318.5,586.3 322.5,588.9 326.6,593.1 330.8,597.4 334.9,600.1 339.0,601.1 343.2,602.2 347.4,605.0 351.8,609.4 356.1,613.8 360.5,616.6 364.8,617.8 369.2,619.0 373.7,621.9 378.3,626.5 382.9,631.1 387.5,634.1 392.1,635.4 396.8,636.7 401.5,639.8 406.3,644.6 411.2,649.4 416.0,652.5 420.9,654.0 425.9,655.5 430.9,658.7 436.0,663.7 441.1,668.8 446.3,672.1 451.5,673.7 456.8,675.4 462.1,678.8 467.5,684.0 472.9,689.3 478.3,692.9 483.9,694.7 489.6,696.5 495.2,700.1 500.9,705.6" fill="none" stroke="#1f1615" stroke-width="1.6" stroke-opacity="0.75"/>
<polygon points="283.8,580.2 288.7,583.5 289.3,596.9 284.5,593.6" fill="#1f1615" />
<polygon points="288.6,582.3 292.7,585.0 293.4,600.2 289.4,597.5" fill="#6c605a" />
<line x1="290.7" y1="584.2" x2="291.4" y2="598.8" stroke="#4a3e3a" stroke-width="1"/>
<polygon points="306.5,595.3 311.6,598.7 312.2,612.3 307.1,608.9" fill="#1f1615" />
<polygon points="311.6,597.5 315.8,600.3 316.5,615.8 312.2,612.9" fill="#6c605a" />
<line x1="313.7" y1="599.5" x2="314.3" y2="614.4" stroke="#4a3e3a" stroke-width="1"/>
<polygon points="330.4,611.1 335.8,614.7 336.2,628.6 330.8,625.0" fill="#1f1615" />
<polygon points="335.8,613.4 340.2,616.4 340.7,632.2 336.3,629.2" fill="#6c605a" />
<line x1="338.0" y1="615.5" x2="338.5" y2="630.7" stroke="#4a3e3a" stroke-width="1"/>
<polygon points="355.5,627.7 361.3,631.5 361.6,645.8 355.9,641.9" fill="#1f1615" />
<polygon points="361.2,630.3 366.0,633.4 366.3,649.6 361.6,646.4" fill="#6c605a" />
<line x1="363.6" y1="632.5" x2="363.9" y2="648.0" stroke="#4a3e3a" stroke-width="1"/>
<polygon points="382.1,645.3 388.1,649.3 388.3,663.9 382.3,659.8" fill="#1f1615" />
<polygon points="388.1,648.0 393.1,651.4 393.3,667.9 388.3,664.5" fill="#6c605a" />
<line x1="390.6" y1="650.3" x2="390.8" y2="666.2" stroke="#4a3e3a" stroke-width="1"/>
<polygon points="410.2,663.9 416.6,668.1 416.6,683.0 410.2,678.7" fill="#1f1615" />
<polygon points="416.6,666.8 421.8,670.3 421.9,687.2 416.6,683.6" fill="#6c605a" />
<line x1="419.2" y1="669.2" x2="419.2" y2="685.4" stroke="#4a3e3a" stroke-width="1"/>
<polygon points="439.9,683.6 446.6,688.1 446.5,703.2 439.8,698.7" fill="#1f1615" />
<polygon points="446.7,686.7 452.3,690.4 452.1,707.6 446.5,703.9" fill="#6c605a" />
<line x1="449.4" y1="689.2" x2="449.3" y2="705.8" stroke="#4a3e3a" stroke-width="1"/>
<polygon points="471.4,704.4 478.6,709.2 478.2,724.7 471.1,719.8" fill="#1f1615" />
<polygon points="478.6,707.8 484.5,711.8 484.1,729.4 478.2,725.4" fill="#6c605a" />
<line x1="481.5" y1="710.5" x2="481.2" y2="727.3" stroke="#4a3e3a" stroke-width="1"/>
<polygon points="281.6,592.2 285.4,596.2 289.1,598.7 292.7,599.7 296.4,600.8 300.2,603.3 304.1,607.4 308.0,611.6 311.9,614.2 315.7,615.3 319.6,616.5 323.6,619.2 327.7,623.4 331.8,627.7 335.9,630.5 340.0,631.7 344.1,633.0 348.3,635.8 352.6,640.3 356.9,644.8 361.2,647.7 365.5,649.0 369.9,650.4 374.3,653.4 378.8,658.0 383.4,662.7 387.9,665.8 392.5,667.3 397.1,668.8 401.8,672.0 406.5,676.8 411.3,681.7 416.1,685.0 421.0,686.6 425.9,688.2 430.8,691.6 435.8,696.7 440.9,701.8 446.0,705.2 451.1,707.0 456.4,708.8 461.6,712.4 466.9,717.7 472.2,723.0 477.6,726.7 483.1,728.7 488.7,730.7 494.3,734.4 499.9,740.0 499.4,756.9 493.8,751.3 488.3,747.4 482.8,745.4 477.3,743.3 471.9,739.6 466.6,734.2 461.4,728.8 456.2,725.2 451.0,723.3 445.8,721.5 440.8,718.0 435.8,712.8 430.8,707.7 425.9,704.3 421.0,702.6 416.2,700.9 411.4,697.6 406.6,692.6 401.9,687.7 397.3,684.5 392.7,683.0 388.1,681.4 383.6,678.3 379.1,673.5 374.6,668.9 370.2,665.8 365.9,664.4 361.6,663.0 357.3,660.0 353.0,655.5 348.7,651.0 344.5,648.1 340.4,646.8 336.4,645.5 332.3,642.7 328.2,638.3 324.2,634.0 320.2,631.3 316.3,630.1 312.5,628.9 308.6,626.2 304.7,622.0 300.9,617.9 297.1,615.3 293.4,614.2 289.8,613.1 286.1,610.6 282.4,606.6" fill="#564a46" />
<polyline points="281.9,596.8 285.6,600.6 289.3,603.1 293.0,604.4 296.6,605.7 300.4,608.3 304.3,612.1 308.2,616.0 312.1,618.7 315.9,620.1 319.8,621.5 323.8,624.2 327.9,628.2 332.0,632.3 336.1,635.1 340.1,636.6 344.2,638.1 348.4,641.0 352.7,645.2 357.0,649.4 361.3,652.3 365.6,654.0 370.0,655.6 374.4,658.6 378.9,663.0 383.4,667.4 388.0,670.5 392.5,672.3 397.2,674.1 401.8,677.3 406.6,681.9 411.3,686.5 416.1,689.8 421.0,691.7 425.9,693.7 430.8,697.0 435.8,701.8 440.9,706.7 445.9,710.2 451.1,712.3 456.3,714.4 461.5,718.0 466.8,723.0 472.1,728.1 477.5,731.8 483.0,734.0 488.6,736.4 494.1,740.1 499.7,745.4" fill="none" stroke="#6d615b" stroke-width="2.2" stroke-opacity="0.55"/>
<polygon points="282.4,606.6 286.1,610.6 289.8,613.1 293.4,614.2 297.1,615.3 300.9,617.9 304.7,622.0 308.6,626.2 312.5,628.9 316.3,630.1 320.2,631.3 324.2,634.0 328.2,638.3 332.3,642.7 336.4,645.5 340.4,646.8 344.5,648.1 348.7,651.0 353.0,655.5 357.3,660.0 361.6,663.0 365.9,664.4 370.2,665.8 374.6,668.9 379.1,673.5 383.6,678.3 388.1,681.4 392.7,683.0 397.3,684.5 401.9,687.7 406.6,692.6 411.4,697.6 416.2,700.9 421.0,702.6 425.9,704.3 430.8,707.7 435.8,712.8 440.8,718.0 445.8,721.5 451.0,723.3 456.2,725.2 461.4,728.8 466.6,734.2 471.9,739.6 477.3,743.3 482.8,745.4 488.3,747.4 493.8,751.3 499.4,756.9 498.9,773.5 493.4,767.9 487.9,764.0 482.4,761.8 477.0,759.7 471.6,755.9 466.4,750.5 461.2,745.1 456.0,741.4 450.8,739.5 445.7,737.5 440.7,734.0 435.7,728.8 430.8,723.6 425.9,720.2 421.0,718.4 416.2,716.6 411.5,713.2 406.7,708.3 402.0,703.3 397.4,700.1 392.8,698.4 388.3,696.8 383.8,693.6 379.3,688.9 374.9,684.2 370.5,681.1 366.2,679.6 361.9,678.1 357.7,675.0 353.4,670.5 349.1,666.0 345.0,663.0 340.9,661.7 336.9,660.3 332.8,657.4 328.8,653.1 324.7,648.7 320.8,645.9 316.9,644.7 313.1,643.4 309.3,640.7 305.4,636.5 301.5,632.3 297.8,629.7 294.1,628.5 290.5,627.4 286.8,624.8 283.1,620.7" fill="#483c38" />
<polyline points="282.4,606.6 286.1,610.6 289.8,613.1 293.4,614.2 297.1,615.3 300.9,617.9 304.7,622.0 308.6,626.2 312.5,628.9 316.3,630.1 320.2,631.3 324.2,634.0 328.2,638.3 332.3,642.7 336.4,645.5 340.4,646.8 344.5,648.1 348.7,651.0 353.0,655.5 357.3,660.0 361.6,663.0 365.9,664.4 370.2,665.8 374.6,668.9 379.1,673.5 383.6,678.3 388.1,681.4 392.7,683.0 397.3,684.5 401.9,687.7 406.6,692.6 411.4,697.6 416.2,700.9 421.0,702.6 425.9,704.3 430.8,707.7 435.8,712.8 440.8,718.0 445.8,721.5 451.0,723.3 456.2,725.2 461.4,728.8 466.6,734.2 471.9,739.6 477.3,743.3 482.8,745.4 488.3,747.4 493.8,751.3 499.4,756.9" fill="none" stroke="#1f1615" stroke-width="1.6" stroke-opacity="0.75"/>
<polyline points="281.6,592.2 285.4,596.2 289.1,598.7 292.7,599.7 296.4,600.8 300.2,603.3 304.1,607.4 308.0,611.6 311.9,614.2 315.7,615.3 319.6,616.5 323.6,619.2 327.7,623.4 331.8,627.7 335.9,630.5 340.0,631.7 344.1,633.0 348.3,635.8 352.6,640.3 356.9,644.8 361.2,647.7 365.5,649.0 369.9,650.4 374.3,653.4 378.8,658.0 383.4,662.7 387.9,665.8 392.5,667.3 397.1,668.8 401.8,672.0 406.5,676.8 411.3,681.7 416.1,685.0 421.0,686.6 425.9,688.2 430.8,691.6 435.8,696.7 440.9,701.8 446.0,705.2 451.1,707.0 456.4,708.8 461.6,712.4 466.9,717.7 472.2,723.0 477.6,726.7 483.1,728.7 488.7,730.7 494.3,734.4 499.9,740.0" fill="none" stroke="#1f1615" stroke-width="1.6" stroke-opacity="0.75"/>
<polygon points="285.3,609.1 290.1,612.5 290.8,625.6 285.9,622.2" fill="#1f1615" />
<polygon points="290.1,611.3 294.1,614.1 294.8,629.0 290.8,626.2" fill="#6c605a" />
<line x1="292.1" y1="613.3" x2="292.8" y2="627.6" stroke="#4a3e3a" stroke-width="1"/>
<polygon points="307.7,624.7 312.8,628.2 313.4,641.6 308.3,638.0" fill="#1f1615" />
<polygon points="312.8,627.1 317.0,630.0 317.6,645.2 313.4,642.2" fill="#6c605a" />
<line x1="314.9" y1="629.1" x2="315.5" y2="643.7" stroke="#4a3e3a" stroke-width="1"/>
<polygon points="331.4,641.1 336.8,644.8 337.2,658.5 331.9,654.7" fill="#1f1615" />
<polygon points="336.7,643.6 341.2,646.7 341.7,662.2 337.2,659.1" fill="#6c605a" />
<line x1="339.0" y1="645.8" x2="339.4" y2="660.6" stroke="#4a3e3a" stroke-width="1"/>
<polygon points="356.3,658.4 362.0,662.3 362.3,676.2 356.7,672.2" fill="#1f1615" />
<polygon points="361.9,661.1 366.6,664.3 367.0,680.1 362.3,676.8" fill="#6c605a" />
<line x1="364.3" y1="663.3" x2="364.6" y2="678.5" stroke="#4a3e3a" stroke-width="1"/>
<polygon points="382.6,676.6 388.6,680.7 388.7,694.9 382.8,690.7" fill="#1f1615" />
<polygon points="388.5,679.5 393.5,682.9 393.7,699.0 388.8,695.5" fill="#6c605a" />
<line x1="391.0" y1="681.8" x2="391.2" y2="697.3" stroke="#4a3e3a" stroke-width="1"/>
<polygon points="410.3,695.8 416.6,700.2 416.7,714.7 410.4,710.2" fill="#1f1615" />
<polygon points="416.6,698.9 421.9,702.5 421.9,719.0 416.7,715.3" fill="#6c605a" />
<line x1="419.2" y1="701.4" x2="419.3" y2="717.1" stroke="#4a3e3a" stroke-width="1"/>
<polygon points="439.7,716.2 446.4,720.8 446.2,735.6 439.6,730.9" fill="#1f1615" />
<polygon points="446.4,719.5 451.9,723.3 451.7,740.1 446.2,736.2" fill="#6c605a" />
<line x1="449.1" y1="722.1" x2="449.0" y2="738.2" stroke="#4a3e3a" stroke-width="1"/>
<polygon points="470.8,737.7 477.9,742.6 477.5,757.7 470.5,752.8" fill="#1f1615" />
<polygon points="477.9,741.3 483.8,745.4 483.4,762.5 477.5,758.4" fill="#6c605a" />
<line x1="480.8" y1="744.0" x2="480.4" y2="760.5" stroke="#4a3e3a" stroke-width="1"/>
<polygon points="283.1,620.7 286.8,624.8 290.5,627.4 294.1,628.5 297.8,629.7 301.5,632.3 305.4,636.5 309.3,640.7 313.1,643.4 316.9,644.7 320.8,645.9 324.7,648.7 328.8,653.1 332.8,657.4 336.9,660.3 340.9,661.7 345.0,663.0 349.1,666.0 353.4,670.5 357.7,675.0 361.9,678.1 366.2,679.6 370.5,681.1 374.9,684.2 379.3,688.9 383.8,693.6 388.3,696.8 392.8,698.4 397.4,700.1 402.0,703.3 406.7,708.3 411.5,713.2 416.2,716.6 421.0,718.4 425.9,720.2 430.8,723.6 435.7,728.8 440.7,734.0 445.7,737.5 450.8,739.5 456.0,741.4 461.2,745.1 466.4,750.5 471.6,755.9 477.0,759.7 482.4,761.8 487.9,764.0 493.4,767.9 498.9,773.5 498.4,790.0 492.9,784.3 487.5,780.3 482.0,778.1 476.6,775.9 471.3,772.0 466.1,766.6 460.9,761.2 455.8,757.4 450.6,755.4 445.6,753.4 440.6,749.8 435.6,744.5 430.7,739.4 425.8,735.9 421.0,734.0 416.3,732.1 411.5,728.7 406.8,723.7 402.2,718.8 397.6,715.4 393.0,713.7 388.5,712.0 384.1,708.8 379.6,704.0 375.2,699.3 370.8,696.1 366.5,694.6 362.3,693.0 358.0,689.9 353.8,685.3 349.6,680.8 345.4,677.8 341.4,676.4 337.4,674.9 333.3,672.0 329.3,667.6 325.3,663.3 321.3,660.4 317.5,659.1 313.7,657.8 309.9,655.0 306.0,650.8 302.2,646.6 298.4,643.9 294.8,642.7 291.2,641.5 287.5,638.8 283.9,634.8" fill="#564a46" />
<polyline points="283.4,625.2 287.0,629.1 290.7,631.7 294.3,633.1 298.0,634.5 301.7,637.2 305.6,641.1 309.4,645.0 313.3,647.8 317.1,649.3 321.0,650.8 324.9,653.6 328.9,657.7 333.0,661.9 337.0,664.7 341.1,666.4 345.1,668.0 349.3,671.0 353.5,675.3 357.8,679.6 362.0,682.6 366.3,684.4 370.6,686.2 375.0,689.3 379.4,693.7 383.9,698.2 388.4,701.4 392.9,703.3 397.5,705.3 402.1,708.6 406.8,713.2 411.5,717.9 416.2,721.3 421.0,723.4 425.9,725.5 430.7,729.0 435.7,733.8 440.6,738.8 445.7,742.4 450.8,744.6 455.9,746.9 461.1,750.5 466.3,755.7 471.5,760.8 476.9,764.6 482.3,767.1 487.7,769.5 493.2,773.4 498.7,778.8" fill="none" stroke="#6d615b" stroke-width="2.2" stroke-opacity="0.55"/>
<polygon points="283.9,634.8 287.5,638.8 291.2,641.5 294.8,642.7 298.4,643.9 302.2,646.6 306.0,650.8 309.9,655.0 313.7,657.8 317.5,659.1 321.3,660.4 325.3,663.3 329.3,667.6 333.3,672.0 337.4,674.9 341.4,676.4 345.4,677.8 349.6,680.8 353.8,685.3 358.0,689.9 362.3,693.0 366.5,694.6 370.8,696.1 375.2,699.3 379.6,704.0 384.1,708.8 388.5,712.0 393.0,713.7 397.6,715.4 402.2,718.8 406.8,723.7 411.5,728.7 416.3,732.1 421.0,734.0 425.8,735.9 430.7,739.4 435.6,744.5 440.6,749.8 445.6,753.4 450.6,755.4 455.8,757.4 460.9,761.2 466.1,766.6 471.3,772.0 476.6,775.9 482.0,778.1 487.5,780.3 492.9,784.3 498.4,790.0 497.9,806.2 492.5,800.5 487.1,796.5 481.6,794.2 476.3,791.9 471.0,788.0 465.8,782.5 460.7,777.0 455.6,773.2 450.5,771.1 445.4,769.0 440.5,765.4 435.6,760.1 430.7,754.9 425.8,751.3 421.0,749.4 416.3,747.5 411.6,744.0 406.9,739.0 402.3,734.0 397.7,730.6 393.2,728.9 388.7,727.1 384.3,723.8 379.8,719.0 375.4,714.2 371.1,711.0 366.8,709.4 362.6,707.8 358.4,704.6 354.2,700.0 350.0,695.5 345.9,692.4 341.8,690.9 337.8,689.4 333.8,686.5 329.8,682.0 325.8,677.6 321.9,674.8 318.1,673.4 314.3,672.0 310.5,669.2 306.6,664.9 302.8,660.7 299.1,658.0 295.5,656.7 291.9,655.4 288.3,652.8 284.6,648.7" fill="#483c38" />
<polyline points="283.9,634.8 287.5,638.8 291.2,641.5 294.8,642.7 298.4,643.9 302.2,646.6 306.0,650.8 309.9,655.0 313.7,657.8 317.5,659.1 321.3,660.4 325.3,663.3 329.3,667.6 333.3,672.0 337.4,674.9 341.4,676.4 345.4,677.8 349.6,680.8 353.8,685.3 358.0,689.9 362.3,693.0 366.5,694.6 370.8,696.1 375.2,699.3 379.6,704.0 384.1,708.8 388.5,712.0 393.0,713.7 397.6,715.4 402.2,718.8 406.8,723.7 411.5,728.7 416.3,732.1 421.0,734.0 425.8,735.9 430.7,739.4 435.6,744.5 440.6,749.8 445.6,753.4 450.6,755.4 455.8,757.4 460.9,761.2 466.1,766.6 471.3,772.0 476.6,775.9 482.0,778.1 487.5,780.3 492.9,784.3 498.4,790.0" fill="none" stroke="#1f1615" stroke-width="1.6" stroke-opacity="0.75"/>
<polyline points="283.1,620.7 286.8,624.8 290.5,627.4 294.1,628.5 297.8,629.7 301.5,632.3 305.4,636.5 309.3,640.7 313.1,643.4 316.9,644.7 320.8,645.9 324.7,648.7 328.8,653.1 332.8,657.4 336.9,660.3 340.9,661.7 345.0,663.0 349.1,666.0 353.4,670.5 357.7,675.0 361.9,678.1 366.2,679.6 370.5,681.1 374.9,684.2 379.3,688.9 383.8,693.6 388.3,696.8 392.8,698.4 397.4,700.1 402.0,703.3 406.7,708.3 411.5,713.2 416.2,716.6 421.0,718.4 425.9,720.2 430.8,723.6 435.7,728.8 440.7,734.0 445.7,737.5 450.8,739.5 456.0,741.4 461.2,745.1 466.4,750.5 471.6,755.9 477.0,759.7 482.4,761.8 487.9,764.0 493.4,767.9 498.9,773.5" fill="none" stroke="#1f1615" stroke-width="1.6" stroke-opacity="0.75"/>
<polygon points="286.7,637.4 291.5,640.8 292.1,653.7 287.4,650.2" fill="#1f1615" />
<polygon points="291.5,639.7 295.4,642.6 296.1,657.2 292.2,654.3" fill="#6c605a" />
<line x1="293.5" y1="641.7" x2="294.1" y2="655.7" stroke="#4a3e3a" stroke-width="1"/>
<polygon points="309.0,653.5 314.0,657.2 314.6,670.3 309.5,666.5" fill="#1f1615" />
<polygon points="314.0,656.0 318.2,659.0 318.8,673.9 314.6,670.8" fill="#6c605a" />
<line x1="316.1" y1="658.1" x2="316.7" y2="672.4" stroke="#4a3e3a" stroke-width="1"/>
<polygon points="332.4,670.5 337.7,674.3 338.2,687.7 332.9,683.7" fill="#1f1615" />
<polygon points="337.7,673.1 342.1,676.3 342.6,691.5 338.2,688.2" fill="#6c605a" />
<line x1="339.9" y1="675.3" x2="340.4" y2="689.8" stroke="#4a3e3a" stroke-width="1"/>
<polygon points="357.1,688.3 362.7,692.4 363.0,706.0 357.4,701.9" fill="#1f1615" />
<polygon points="362.6,691.2 367.3,694.5 367.6,710.0 363.0,706.6" fill="#6c605a" />
<line x1="365.0" y1="693.4" x2="365.3" y2="708.2" stroke="#4a3e3a" stroke-width="1"/>
<polygon points="383.1,707.1 389.0,711.4 389.2,725.3 383.3,720.9" fill="#1f1615" />
<polygon points="388.9,710.2 393.8,713.7 394.0,729.5 389.2,725.9" fill="#6c605a" />
<line x1="391.4" y1="712.6" x2="391.6" y2="727.7" stroke="#4a3e3a" stroke-width="1"/>
<polygon points="410.5,727.0 416.7,731.5 416.8,745.6 410.6,741.1" fill="#1f1615" />
<polygon points="416.7,730.3 421.9,734.0 421.9,750.0 416.8,746.3" fill="#6c605a" />
<line x1="419.3" y1="732.7" x2="419.3" y2="748.1" stroke="#4a3e3a" stroke-width="1"/>
<polygon points="439.5,748.0 446.1,752.7 446.0,767.2 439.4,762.3" fill="#1f1615" />
<polygon points="446.1,751.5 451.6,755.4 451.4,771.8 446.0,767.8" fill="#6c605a" />
<line x1="448.8" y1="754.1" x2="448.7" y2="769.8" stroke="#4a3e3a" stroke-width="1"/>
<polygon points="470.2,770.2 477.2,775.3 476.9,790.0 469.9,784.8" fill="#1f1615" />
<polygon points="477.2,774.0 483.0,778.2 482.6,794.9 476.9,790.6" fill="#6c605a" />
<line x1="480.1" y1="776.7" x2="479.7" y2="792.7" stroke="#4a3e3a" stroke-width="1"/>
<polygon points="284.6,648.7 288.3,652.8 291.9,655.4 295.5,656.7 299.1,658.0 302.8,660.7 306.6,664.9 310.5,669.2 314.3,672.0 318.1,673.4 321.9,674.8 325.8,677.6 329.8,682.0 333.8,686.5 337.8,689.4 341.8,690.9 345.9,692.4 350.0,695.5 354.2,700.0 358.4,704.6 362.6,707.8 366.8,709.4 371.1,711.0 375.4,714.2 379.8,719.0 384.3,723.8 388.7,727.1 393.2,728.9 397.7,730.6 402.3,734.0 406.9,739.0 411.6,744.0 416.3,747.5 421.0,749.4 425.8,751.3 430.7,754.9 435.6,760.1 440.5,765.4 445.4,769.0 450.5,771.1 455.6,773.2 460.7,777.0 465.8,782.5 471.0,788.0 476.3,791.9 481.6,794.2 487.1,796.5 492.5,800.5 497.9,806.2 497.5,822.2 492.1,816.4 486.7,812.4 481.3,810.0 476.0,807.7 470.7,803.7 465.6,798.2 460.5,792.7 455.4,788.9 450.3,786.7 445.3,784.5 440.4,780.8 435.5,775.5 430.6,770.3 425.8,766.7 421.1,764.6 416.3,762.7 411.7,759.1 407.0,754.1 402.4,749.1 397.9,745.6 393.4,743.8 388.9,742.0 384.5,738.6 380.1,733.8 375.7,729.0 371.4,725.7 367.2,724.0 363.0,722.4 358.8,719.2 354.6,714.6 350.4,710.0 346.3,706.9 342.3,705.3 338.3,703.8 334.3,700.7 330.3,696.3 326.3,691.9 322.4,688.9 318.6,687.5 314.9,686.1 311.1,683.2 307.2,678.9 303.4,674.7 299.7,671.9 296.1,670.6 292.6,669.2 288.9,666.5 285.3,662.4" fill="#564a46" />
<polyline points="284.8,653.1 288.5,656.9 292.1,659.6 295.7,661.1 299.3,662.7 303.0,665.4 306.8,669.4 310.7,673.4 314.5,676.3 318.2,677.9 322.1,679.6 326.0,682.5 330.0,686.6 334.0,690.8 338.0,693.8 342.0,695.5 346.0,697.3 350.1,700.4 354.3,704.7 358.5,709.1 362.7,712.2 366.9,714.1 371.2,716.0 375.5,719.2 379.9,723.7 384.3,728.3 388.8,731.6 393.3,733.7 397.8,735.7 402.3,739.1 407.0,743.8 411.6,748.6 416.3,752.1 421.0,754.3 425.8,756.5 430.7,760.1 435.5,765.1 440.4,770.1 445.4,773.8 450.4,776.1 455.5,778.5 460.6,782.3 465.8,787.5 470.9,792.8 476.2,796.7 481.5,799.2 486.9,801.9 492.4,805.9 497.8,811.3" fill="none" stroke="#6d615b" stroke-width="2.2" stroke-opacity="0.55"/>
<polygon points="285.3,662.4 288.9,666.5 292.6,669.2 296.1,670.6 299.7,671.9 303.4,674.7 307.2,678.9 311.1,683.2 314.9,686.1 318.6,687.5 322.4,688.9 326.3,691.9 330.3,696.3 334.3,700.7 338.3,703.8 342.3,705.3 346.3,706.9 350.4,710.0 354.6,714.6 358.8,719.2 363.0,722.4 367.2,724.0 371.4,725.7 375.7,729.0 380.1,733.8 384.5,738.6 388.9,742.0 393.4,743.8 397.9,745.6 402.4,749.1 407.0,754.1 411.7,759.1 416.3,762.7 421.1,764.6 425.8,766.7 430.6,770.3 435.5,775.5 440.4,780.8 445.3,784.5 450.3,786.7 455.4,788.9 460.5,792.7 465.6,798.2 470.7,803.7 476.0,807.7 481.3,810.0 486.7,812.4 492.1,816.4 497.5,822.2 497.0,838.0 491.6,832.2 486.3,828.1 480.9,825.7 475.6,823.2 470.4,819.2 465.3,813.7 460.2,808.2 455.2,804.3 450.2,802.0 445.2,799.8 440.3,796.0 435.4,790.7 430.6,785.4 425.8,781.8 421.1,779.7 416.4,777.7 411.7,774.1 407.1,769.0 402.6,764.0 398.0,760.5 393.6,758.6 389.1,756.7 384.7,753.3 380.3,748.4 376.0,743.6 371.7,740.3 367.5,738.6 363.3,736.8 359.1,733.6 354.9,728.9 350.8,724.3 346.7,721.2 342.7,719.5 338.8,717.9 334.8,714.9 330.8,710.4 326.8,705.9 323.0,703.0 319.2,701.5 315.4,700.0 311.7,697.1 307.9,692.8 304.1,688.5 300.4,685.7 296.8,684.3 293.2,682.9 289.6,680.2 286.0,676.0" fill="#483c38" />
<polyline points="285.3,662.4 288.9,666.5 292.6,669.2 296.1,670.6 299.7,671.9 303.4,674.7 307.2,678.9 311.1,683.2 314.9,686.1 318.6,687.5 322.4,688.9 326.3,691.9 330.3,696.3 334.3,700.7 338.3,703.8 342.3,705.3 346.3,706.9 350.4,710.0 354.6,714.6 358.8,719.2 363.0,722.4 367.2,724.0 371.4,725.7 375.7,729.0 380.1,733.8 384.5,738.6 388.9,742.0 393.4,743.8 397.9,745.6 402.4,749.1 407.0,754.1 411.7,759.1 416.3,762.7 421.1,764.6 425.8,766.7 430.6,770.3 435.5,775.5 440.4,780.8 445.3,784.5 450.3,786.7 455.4,788.9 460.5,792.7 465.6,798.2 470.7,803.7 476.0,807.7 481.3,810.0 486.7,812.4 492.1,816.4 497.5,822.2" fill="none" stroke="#1f1615" stroke-width="1.6" stroke-opacity="0.75"/>
<polyline points="284.6,648.7 288.3,652.8 291.9,655.4 295.5,656.7 299.1,658.0 302.8,660.7 306.6,664.9 310.5,669.2 314.3,672.0 318.1,673.4 321.9,674.8 325.8,677.6 329.8,682.0 333.8,686.5 337.8,689.4 341.8,690.9 345.9,692.4 350.0,695.5 354.2,700.0 358.4,704.6 362.6,707.8 366.8,709.4 371.1,711.0 375.4,714.2 379.8,719.0 384.3,723.8 388.7,727.1 393.2,728.9 397.7,730.6 402.3,734.0 406.9,739.0 411.6,744.0 416.3,747.5 421.0,749.4 425.8,751.3 430.7,754.9 435.6,760.1 440.5,765.4 445.4,769.0 450.5,771.1 455.6,773.2 460.7,777.0 465.8,782.5 471.0,788.0 476.3,791.9 481.6,794.2 487.1,796.5 492.5,800.5 497.9,806.2" fill="none" stroke="#1f1615" stroke-width="1.6" stroke-opacity="0.75"/>
<polygon points="288.1,665.0 292.9,668.6 293.5,681.2 288.8,677.6" fill="#1f1615" />
<polygon points="292.8,667.5 296.8,670.5 297.4,684.8 293.5,681.8" fill="#6c605a" />
<line x1="294.8" y1="669.6" x2="295.5" y2="683.3" stroke="#4a3e3a" stroke-width="1"/>
<polygon points="310.2,681.7 315.2,685.5 315.7,698.3 310.7,694.5" fill="#1f1615" />
<polygon points="315.2,684.3 319.3,687.5 319.9,702.0 315.8,698.8" fill="#6c605a" />
<line x1="317.2" y1="686.5" x2="317.8" y2="700.4" stroke="#4a3e3a" stroke-width="1"/>
<polygon points="333.4,699.2 338.7,703.2 339.1,716.2 333.8,712.2" fill="#1f1615" />
<polygon points="338.6,702.0 343.0,705.3 343.4,720.1 339.1,716.8" fill="#6c605a" />
<line x1="340.8" y1="704.2" x2="341.3" y2="718.4" stroke="#4a3e3a" stroke-width="1"/>
<polygon points="357.8,717.6 363.4,721.8 363.7,735.1 358.1,730.8" fill="#1f1615" />
<polygon points="363.3,720.6 367.9,724.0 368.2,739.1 363.7,735.6" fill="#6c605a" />
<line x1="365.6" y1="722.9" x2="365.9" y2="737.4" stroke="#4a3e3a" stroke-width="1"/>
<polygon points="383.5,737.0 389.4,741.4 389.5,754.9 383.7,750.5" fill="#1f1615" />
<polygon points="389.3,740.2 394.2,743.8 394.4,759.2 389.6,755.5" fill="#6c605a" />
<line x1="391.8" y1="742.6" x2="392.0" y2="757.3" stroke="#4a3e3a" stroke-width="1"/>
<polygon points="410.6,757.4 416.8,762.1 416.9,775.9 410.7,771.2" fill="#1f1615" />
<polygon points="416.8,760.8 421.9,764.7 421.9,780.4 416.9,776.5" fill="#6c605a" />
<line x1="419.4" y1="763.4" x2="419.4" y2="778.4" stroke="#4a3e3a" stroke-width="1"/>
<polygon points="439.3,779.0 445.8,783.9 445.7,798.0 439.2,793.0" fill="#1f1615" />
<polygon points="445.8,782.7 451.2,786.7 451.1,802.7 445.7,798.6" fill="#6c605a" />
<line x1="448.5" y1="785.3" x2="448.4" y2="800.7" stroke="#4a3e3a" stroke-width="1"/>
<polygon points="469.6,801.8 476.5,807.0 476.2,821.4 469.3,816.1" fill="#1f1615" />
<polygon points="476.5,805.8 482.3,810.1 481.9,826.4 476.2,822.0" fill="#6c605a" />
<line x1="479.4" y1="808.6" x2="479.0" y2="824.2" stroke="#4a3e3a" stroke-width="1"/>
</g>
<path d="M277,489 L503,624 L503,636 L277,502 Z" fill="#3a2d2a" />
<polygon points="280.0,491.0 287.3,493.8 294.7,496.8 302.0,500.1 309.3,503.7 316.7,507.8 324.0,512.4 331.3,517.5 338.7,523.0 346.0,528.8 353.3,534.7 360.7,537.5 368.0,540.5 375.3,543.7 382.7,547.4 390.0,551.5 397.3,556.1 404.7,561.2 412.0,566.7 419.3,572.4 426.7,578.3 434.0,581.2 441.3,584.1 448.7,587.4 456.0,591.0 463.3,595.2 470.7,599.8 478.0,604.9 485.3,610.3 492.7,616.1 500.0,622.0 500.0,624.0 280.0,493.0" fill="#43362f" />
<polyline points="277,492 503,627" fill="none" stroke="#5e514c" stroke-width="1.5"/>
<polygon points="548.0,636.0 907.0,541.0 906.0,738.0 556.0,846.0" fill="#2a201e" />
<clipPath id="cpFR"><path d="M548,636 L907,541 L906,732 C890,742 870,742 850,752 C830,762 810,760 790,770 C770,782 750,778 730,790 C705,802 690,800 670,812 C640,826 600,830 556,848 Z"/></clipPath>
<g clip-path="url(#cpFR)">
<polygon points="556.0,648.0 563.8,647.6 571.6,645.5 579.4,641.7 587.2,637.9 594.9,635.8 602.6,635.4 610.3,635.0 618.0,632.9 625.6,629.2 633.2,625.4 640.8,623.3 648.4,623.0 656.0,622.6 663.5,620.6 671.0,616.9 678.5,613.2 686.0,611.1 693.4,610.8 700.8,610.5 708.2,608.5 715.6,604.8 723.0,601.1 730.3,599.2 737.6,598.8 744.9,598.5 752.2,596.6 759.4,592.9 766.7,589.3 773.9,587.4 781.0,587.1 788.2,586.8 795.4,584.9 802.5,581.3 809.6,577.7 816.7,575.8 823.7,575.5 830.8,575.3 837.8,573.4 844.8,569.8 851.8,566.3 858.8,564.4 865.7,564.2 872.6,563.9 879.6,562.0 886.5,558.6 893.3,555.1 900.2,553.2 907.0,553.0 906.9,568.5 900.1,568.7 893.2,570.6 886.4,574.1 879.5,577.6 872.6,579.5 865.7,579.8 858.7,580.0 851.8,581.9 844.8,585.5 837.7,589.0 830.7,590.9 823.7,591.2 816.6,591.5 809.5,593.5 802.4,597.1 795.3,600.7 788.2,602.6 781.0,602.9 773.8,603.3 766.6,605.2 759.4,608.9 752.1,612.5 744.8,614.5 737.6,614.8 730.3,615.2 722.9,617.2 715.6,620.9 708.2,624.5 700.8,626.6 693.4,626.9 685.9,627.3 678.5,629.3 671.0,633.1 663.5,636.8 655.9,638.9 648.4,639.2 640.8,639.6 633.2,641.7 625.6,645.5 618.0,649.3 610.3,651.4 602.6,651.8 594.9,652.2 587.2,654.3 579.4,658.1 571.6,662.0 563.8,664.1 556.0,664.5" fill="#5b4d48" />
<polyline points="556.0,653.3 563.8,652.6 571.6,650.5 579.4,646.9 587.2,643.4 594.9,641.3 602.6,640.6 610.3,640.0 618.0,637.9 625.6,634.4 633.2,630.9 640.8,628.8 648.4,628.2 656.0,627.5 663.5,625.5 671.0,622.1 678.5,618.6 685.9,616.6 693.4,616.0 700.8,615.4 708.2,613.3 715.6,609.9 722.9,606.6 730.3,604.6 737.6,604.0 744.9,603.4 752.1,601.4 759.4,598.0 766.6,594.7 773.8,592.7 781.0,592.2 788.2,591.6 795.3,589.6 802.5,586.3 809.6,583.0 816.7,581.1 823.7,580.6 830.8,580.0 837.8,578.1 844.8,574.8 851.8,571.6 858.8,569.7 865.7,569.2 872.6,568.6 879.5,566.7 886.4,563.5 893.3,560.3 900.2,558.5 907.0,557.9" fill="none" stroke="#6d615b" stroke-width="2.2" stroke-opacity="0.55"/>
<polygon points="556.0,664.5 563.8,664.1 571.6,662.0 579.4,658.1 587.2,654.3 594.9,652.2 602.6,651.8 610.3,651.4 618.0,649.3 625.6,645.5 633.2,641.7 640.8,639.6 648.4,639.2 655.9,638.9 663.5,636.8 671.0,633.1 678.5,629.3 685.9,627.3 693.4,626.9 700.8,626.6 708.2,624.5 715.6,620.9 722.9,617.2 730.3,615.2 737.6,614.8 744.8,614.5 752.1,612.5 759.4,608.9 766.6,605.2 773.8,603.3 781.0,602.9 788.2,602.6 795.3,600.7 802.4,597.1 809.5,593.5 816.6,591.5 823.7,591.2 830.7,590.9 837.7,589.0 844.8,585.5 851.8,581.9 858.7,580.0 865.7,579.8 872.6,579.5 879.5,577.6 886.4,574.1 893.2,570.6 900.1,568.7 906.9,568.5 906.8,583.9 900.0,584.2 893.2,586.1 886.3,589.6 879.4,593.1 872.5,595.0 865.6,595.3 858.6,595.6 851.7,597.6 844.7,601.1 837.7,604.7 830.7,606.6 823.6,607.0 816.6,607.3 809.5,609.2 802.4,612.8 795.2,616.5 788.1,618.4 780.9,618.8 773.8,619.1 766.6,621.1 759.3,624.8 752.1,628.4 744.8,630.4 737.5,630.8 730.2,631.2 722.9,633.2 715.5,636.9 708.1,640.6 700.7,642.7 693.3,643.0 685.9,643.4 678.4,645.5 670.9,649.2 663.4,653.0 655.9,655.1 648.4,655.5 640.8,655.9 633.2,658.0 625.6,661.8 617.9,665.6 610.3,667.8 602.6,668.2 594.9,668.6 587.2,670.7 579.4,674.6 571.6,678.5 563.8,680.6 556.0,681.1" fill="#4e413c" />
<polyline points="556.0,664.5 563.8,664.1 571.6,662.0 579.4,658.1 587.2,654.3 594.9,652.2 602.6,651.8 610.3,651.4 618.0,649.3 625.6,645.5 633.2,641.7 640.8,639.6 648.4,639.2 655.9,638.9 663.5,636.8 671.0,633.1 678.5,629.3 685.9,627.3 693.4,626.9 700.8,626.6 708.2,624.5 715.6,620.9 722.9,617.2 730.3,615.2 737.6,614.8 744.8,614.5 752.1,612.5 759.4,608.9 766.6,605.2 773.8,603.3 781.0,602.9 788.2,602.6 795.3,600.7 802.4,597.1 809.5,593.5 816.6,591.5 823.7,591.2 830.7,590.9 837.7,589.0 844.8,585.5 851.8,581.9 858.7,580.0 865.7,579.8 872.6,579.5 879.5,577.6 886.4,574.1 893.2,570.6 900.1,568.7 906.9,568.5" fill="none" stroke="#1f1615" stroke-width="1.6" stroke-opacity="0.75"/>
<polyline points="556.0,648.0 563.8,647.6 571.6,645.5 579.4,641.7 587.2,637.9 594.9,635.8 602.6,635.4 610.3,635.0 618.0,632.9 625.6,629.2 633.2,625.4 640.8,623.3 648.4,623.0 656.0,622.6 663.5,620.6 671.0,616.9 678.5,613.2 686.0,611.1 693.4,610.8 700.8,610.5 708.2,608.5 715.6,604.8 723.0,601.1 730.3,599.2 737.6,598.8 744.9,598.5 752.2,596.6 759.4,592.9 766.7,589.3 773.9,587.4 781.0,587.1 788.2,586.8 795.4,584.9 802.5,581.3 809.6,577.7 816.7,575.8 823.7,575.5 830.8,575.3 837.8,573.4 844.8,569.8 851.8,566.3 858.8,564.4 865.7,564.2 872.6,563.9 879.6,562.0 886.5,558.6 893.3,555.1 900.2,553.2 907.0,553.0" fill="none" stroke="#1f1615" stroke-width="1.6" stroke-opacity="0.75"/>
<polygon points="562.1,663.5 572.4,660.7 572.4,675.9 562.1,678.7" fill="#1f1615" />
<polygon points="572.4,659.4 580.8,657.1 580.8,674.2 572.4,676.5" fill="#6c605a" />
<line x1="576.6" y1="658.9" x2="576.6" y2="675.4" stroke="#4a3e3a" stroke-width="1"/>
<polygon points="608.6,650.8 618.7,648.0 618.7,663.1 608.6,665.9" fill="#1f1615" />
<polygon points="618.7,646.7 627.0,644.5 627.0,661.4 618.7,663.7" fill="#6c605a" />
<line x1="622.8" y1="646.2" x2="622.8" y2="662.6" stroke="#4a3e3a" stroke-width="1"/>
<polygon points="654.3,638.3 664.2,635.6 664.2,650.5 654.3,653.2" fill="#1f1615" />
<polygon points="664.2,634.3 672.3,632.0 672.3,648.9 664.2,651.1" fill="#6c605a" />
<line x1="668.3" y1="633.8" x2="668.2" y2="650.0" stroke="#4a3e3a" stroke-width="1"/>
<polygon points="699.2,626.0 708.9,623.3 708.9,638.1 699.1,640.8" fill="#1f1615" />
<polygon points="708.9,622.0 716.9,619.9 716.8,636.5 708.9,638.7" fill="#6c605a" />
<line x1="712.9" y1="621.6" x2="712.9" y2="637.6" stroke="#4a3e3a" stroke-width="1"/>
<polygon points="743.2,613.9 752.8,611.3 752.8,625.9 743.2,628.6" fill="#1f1615" />
<polygon points="752.8,610.0 760.7,607.9 760.6,624.4 752.8,626.6" fill="#6c605a" />
<line x1="756.8" y1="609.6" x2="756.7" y2="625.5" stroke="#4a3e3a" stroke-width="1"/>
<polygon points="786.6,602.0 796.0,599.5 796.0,614.0 786.5,616.6" fill="#1f1615" />
<polygon points="796.0,598.2 803.7,596.1 803.7,612.5 796.0,614.6" fill="#6c605a" />
<line x1="799.9" y1="597.8" x2="799.8" y2="613.6" stroke="#4a3e3a" stroke-width="1"/>
<polygon points="829.2,590.4 838.5,587.8 838.4,602.2 829.1,604.8" fill="#1f1615" />
<polygon points="838.5,586.6 846.0,584.5 845.9,600.8 838.4,602.9" fill="#6c605a" />
<line x1="842.2" y1="586.2" x2="842.2" y2="601.8" stroke="#4a3e3a" stroke-width="1"/>
<polygon points="871.1,578.9 880.2,576.4 880.1,590.7 871.0,593.2" fill="#1f1615" />
<polygon points="880.2,575.2 887.6,573.1 887.5,589.3 880.1,591.3" fill="#6c605a" />
<line x1="883.9" y1="574.8" x2="883.8" y2="590.3" stroke="#4a3e3a" stroke-width="1"/>
<polygon points="556.0,681.1 563.8,680.6 571.6,678.5 579.4,674.6 587.2,670.7 594.9,668.6 602.6,668.2 610.3,667.8 617.9,665.6 625.6,661.8 633.2,658.0 640.8,655.9 648.4,655.5 655.9,655.1 663.4,653.0 670.9,649.2 678.4,645.5 685.9,643.4 693.3,643.0 700.7,642.7 708.1,640.6 715.5,636.9 722.9,633.2 730.2,631.2 737.5,630.8 744.8,630.4 752.1,628.4 759.3,624.8 766.6,621.1 773.8,619.1 780.9,618.8 788.1,618.4 795.2,616.5 802.4,612.8 809.5,609.2 816.6,607.3 823.6,607.0 830.7,606.6 837.7,604.7 844.7,601.1 851.7,597.6 858.6,595.6 865.6,595.3 872.5,595.0 879.4,593.1 886.3,589.6 893.2,586.1 900.0,584.2 906.8,583.9 906.7,599.3 899.9,599.7 893.1,601.6 886.2,605.1 879.3,608.6 872.4,610.6 865.5,610.9 858.6,611.2 851.6,613.2 844.6,616.8 837.6,620.3 830.6,622.3 823.6,622.7 816.5,623.0 809.4,625.0 802.3,628.6 795.2,632.2 788.0,634.2 780.9,634.6 773.7,635.0 766.5,637.0 759.3,640.7 752.0,644.4 744.8,646.4 737.5,646.8 730.2,647.2 722.8,649.2 715.5,652.9 708.1,656.7 700.7,658.7 693.3,659.1 685.9,659.6 678.4,661.6 670.9,665.4 663.4,669.2 655.9,671.3 648.3,671.7 640.8,672.2 633.2,674.3 625.6,678.1 617.9,682.0 610.3,684.1 602.6,684.6 594.9,685.0 587.1,687.2 579.4,691.1 571.6,694.9 563.8,697.1 556.0,697.6" fill="#5b4d48" />
<polyline points="556.0,686.4 563.8,685.6 571.6,683.5 579.4,679.9 587.2,676.3 594.9,674.1 602.6,673.4 610.3,672.7 617.9,670.6 625.6,667.0 633.2,663.5 640.8,661.4 648.4,660.7 655.9,660.0 663.4,657.9 670.9,654.4 678.4,650.9 685.9,648.9 693.3,648.2 700.7,647.5 708.1,645.5 715.5,642.0 722.9,638.6 730.2,636.6 737.5,635.9 744.8,635.3 752.1,633.2 759.3,629.9 766.5,626.5 773.7,624.5 780.9,623.8 788.1,623.2 795.2,621.2 802.4,617.9 809.5,614.5 816.5,612.6 823.6,612.0 830.6,611.4 837.7,609.4 844.7,606.1 851.7,602.8 858.6,600.9 865.6,600.3 872.5,599.7 879.4,597.8 886.3,594.6 893.1,591.3 900.0,589.4 906.8,588.8" fill="none" stroke="#6d615b" stroke-width="2.2" stroke-opacity="0.55"/>
<polygon points="556.0,697.6 563.8,697.1 571.6,694.9 579.4,691.1 587.1,687.2 594.9,685.0 602.6,684.6 610.3,684.1 617.9,682.0 625.6,678.1 633.2,674.3 640.8,672.2 648.3,671.7 655.9,671.3 663.4,669.2 670.9,665.4 678.4,661.6 685.9,659.6 693.3,659.1 700.7,658.7 708.1,656.7 715.5,652.9 722.8,649.2 730.2,647.2 737.5,646.8 744.8,646.4 752.0,644.4 759.3,640.7 766.5,637.0 773.7,635.0 780.9,634.6 788.0,634.2 795.2,632.2 802.3,628.6 809.4,625.0 816.5,623.0 823.6,622.7 830.6,622.3 837.6,620.3 844.6,616.8 851.6,613.2 858.6,611.2 865.5,610.9 872.4,610.6 879.3,608.6 886.2,605.1 893.1,601.6 899.9,599.7 906.7,599.3 906.7,614.8 899.9,615.1 893.0,617.0 886.1,620.6 879.2,624.2 872.3,626.1 865.4,626.5 858.5,626.8 851.5,628.8 844.5,632.4 837.5,636.0 830.5,638.0 823.5,638.3 816.4,638.7 809.4,640.7 802.3,644.4 795.1,648.0 788.0,650.0 780.8,650.4 773.7,650.8 766.4,652.9 759.2,656.6 752.0,660.3 744.7,662.3 737.4,662.7 730.1,663.1 722.8,665.2 715.4,669.0 708.1,672.7 700.7,674.8 693.3,675.2 685.8,675.7 678.4,677.8 670.9,681.6 663.4,685.4 655.9,687.5 648.3,688.0 640.7,688.4 633.2,690.6 625.5,694.4 617.9,698.3 610.2,700.5 602.6,700.9 594.9,701.4 587.1,703.6 579.4,707.5 571.6,711.4 563.8,713.6 556.0,714.1" fill="#4e413c" />
<polyline points="556.0,697.6 563.8,697.1 571.6,694.9 579.4,691.1 587.1,687.2 594.9,685.0 602.6,684.6 610.3,684.1 617.9,682.0 625.6,678.1 633.2,674.3 640.8,672.2 648.3,671.7 655.9,671.3 663.4,669.2 670.9,665.4 678.4,661.6 685.9,659.6 693.3,659.1 700.7,658.7 708.1,656.7 715.5,652.9 722.8,649.2 730.2,647.2 737.5,646.8 744.8,646.4 752.0,644.4 759.3,640.7 766.5,637.0 773.7,635.0 780.9,634.6 788.0,634.2 795.2,632.2 802.3,628.6 809.4,625.0 816.5,623.0 823.6,622.7 830.6,622.3 837.6,620.3 844.6,616.8 851.6,613.2 858.6,611.2 865.5,610.9 872.4,610.6 879.3,608.6 886.2,605.1 893.1,601.6 899.9,599.7 906.7,599.3" fill="none" stroke="#1f1615" stroke-width="1.6" stroke-opacity="0.75"/>
<polyline points="556.0,681.1 563.8,680.6 571.6,678.5 579.4,674.6 587.2,670.7 594.9,668.6 602.6,668.2 610.3,667.8 617.9,665.6 625.6,661.8 633.2,658.0 640.8,655.9 648.4,655.5 655.9,655.1 663.4,653.0 670.9,649.2 678.4,645.5 685.9,643.4 693.3,643.0 700.7,642.7 708.1,640.6 715.5,636.9 722.9,633.2 730.2,631.2 737.5,630.8 744.8,630.4 752.1,628.4 759.3,624.8 766.6,621.1 773.8,619.1 780.9,618.8 788.1,618.4 795.2,616.5 802.4,612.8 809.5,609.2 816.6,607.3 823.6,607.0 830.7,606.6 837.7,604.7 844.7,601.1 851.7,597.6 858.6,595.6 865.6,595.3 872.5,595.0 879.4,593.1 886.3,589.6 893.2,586.1 900.0,584.2 906.8,583.9" fill="none" stroke="#1f1615" stroke-width="1.6" stroke-opacity="0.75"/>
<polygon points="562.1,696.6 572.4,693.7 572.4,708.8 562.1,711.7" fill="#1f1615" />
<polygon points="572.4,692.4 580.8,690.0 580.8,707.1 572.4,709.5" fill="#6c605a" />
<line x1="576.6" y1="691.8" x2="576.6" y2="708.3" stroke="#4a3e3a" stroke-width="1"/>
<polygon points="608.6,683.5 618.7,680.7 618.7,695.7 608.6,698.6" fill="#1f1615" />
<polygon points="618.7,679.4 626.9,677.1 626.9,694.0 618.7,696.4" fill="#6c605a" />
<line x1="622.8" y1="678.9" x2="622.8" y2="695.2" stroke="#4a3e3a" stroke-width="1"/>
<polygon points="654.2,670.7 664.2,668.0 664.1,682.9 654.2,685.7" fill="#1f1615" />
<polygon points="664.2,666.7 672.3,664.4 672.2,681.2 664.1,683.5" fill="#6c605a" />
<line x1="668.2" y1="666.2" x2="668.2" y2="682.3" stroke="#4a3e3a" stroke-width="1"/>
<polygon points="699.1,658.2 708.8,655.4 708.8,670.2 699.0,673.0" fill="#1f1615" />
<polygon points="708.8,654.2 716.8,651.9 716.8,668.6 708.8,670.8" fill="#6c605a" />
<line x1="712.8" y1="653.7" x2="712.8" y2="669.7" stroke="#4a3e3a" stroke-width="1"/>
<polygon points="743.2,645.8 752.7,643.1 752.7,657.8 743.1,660.5" fill="#1f1615" />
<polygon points="752.8,641.9 760.6,639.7 760.5,656.2 752.7,658.4" fill="#6c605a" />
<line x1="756.7" y1="641.4" x2="756.6" y2="657.3" stroke="#4a3e3a" stroke-width="1"/>
<polygon points="786.5,633.7 795.9,631.0 795.8,645.6 786.4,648.2" fill="#1f1615" />
<polygon points="795.9,629.8 803.6,627.6 803.5,644.0 795.8,646.2" fill="#6c605a" />
<line x1="799.7" y1="629.3" x2="799.7" y2="645.1" stroke="#4a3e3a" stroke-width="1"/>
<polygon points="829.0,621.7 838.3,619.1 838.3,633.5 829.0,636.2" fill="#1f1615" />
<polygon points="838.3,617.9 845.9,615.8 845.8,632.0 838.3,634.2" fill="#6c605a" />
<line x1="842.1" y1="617.5" x2="842.0" y2="633.1" stroke="#4a3e3a" stroke-width="1"/>
<polygon points="870.9,610.0 880.0,607.5 879.9,621.7 870.8,624.3" fill="#1f1615" />
<polygon points="880.0,606.2 887.5,604.1 887.4,620.3 879.9,622.4" fill="#6c605a" />
<line x1="883.7" y1="605.8" x2="883.7" y2="621.3" stroke="#4a3e3a" stroke-width="1"/>
<polygon points="556.0,714.1 563.8,713.6 571.6,711.4 579.4,707.5 587.1,703.6 594.9,701.4 602.6,700.9 610.2,700.5 617.9,698.3 625.5,694.4 633.2,690.6 640.7,688.4 648.3,688.0 655.9,687.5 663.4,685.4 670.9,681.6 678.4,677.8 685.8,675.7 693.3,675.2 700.7,674.8 708.1,672.7 715.4,669.0 722.8,665.2 730.1,663.1 737.4,662.7 744.7,662.3 752.0,660.3 759.2,656.6 766.4,652.9 773.7,650.8 780.8,650.4 788.0,650.0 795.1,648.0 802.3,644.4 809.4,640.7 816.4,638.7 823.5,638.3 830.5,638.0 837.5,636.0 844.5,632.4 851.5,628.8 858.5,626.8 865.4,626.5 872.3,626.1 879.2,624.2 886.1,620.6 893.0,617.0 899.9,615.1 906.7,614.8 906.6,630.2 899.8,630.6 892.9,632.5 886.1,636.1 879.2,639.7 872.3,641.7 865.4,642.0 858.4,642.4 851.5,644.4 844.5,648.0 837.5,651.6 830.5,653.6 823.4,654.0 816.4,654.4 809.3,656.5 802.2,660.1 795.1,663.8 787.9,665.8 780.8,666.3 773.6,666.7 766.4,668.7 759.2,672.4 751.9,676.2 744.7,678.3 737.4,678.7 730.1,679.1 722.8,681.2 715.4,685.0 708.0,688.8 700.6,690.9 693.2,691.3 685.8,691.8 678.3,693.9 670.9,697.7 663.4,701.6 655.8,703.7 648.3,704.2 640.7,704.7 633.1,706.9 625.5,710.7 617.9,714.6 610.2,716.8 602.6,717.3 594.9,717.8 587.1,720.0 579.4,723.9 571.6,727.9 563.8,730.1 556.0,730.6" fill="#5b4d48" />
<polyline points="556.0,719.4 563.8,718.6 571.6,716.4 579.4,712.8 587.1,709.1 594.9,706.9 602.6,706.2 610.2,705.4 617.9,703.2 625.5,699.6 633.2,696.1 640.7,693.9 648.3,693.2 655.9,692.4 663.4,690.3 670.9,686.8 678.4,683.2 685.8,681.1 693.2,680.4 700.7,679.7 708.1,677.6 715.4,674.1 722.8,670.6 730.1,668.5 737.4,667.8 744.7,667.1 752.0,665.1 759.2,661.6 766.4,658.2 773.6,656.2 780.8,655.5 788.0,654.8 795.1,652.8 802.2,649.4 809.3,646.0 816.4,644.0 823.5,643.4 830.5,642.7 837.5,640.7 844.5,637.4 851.5,634.0 858.5,632.1 865.4,631.4 872.3,630.8 879.2,628.9 886.1,625.6 893.0,622.3 899.8,620.3 906.6,619.7" fill="none" stroke="#6d615b" stroke-width="2.2" stroke-opacity="0.55"/>
<polygon points="556.0,730.6 563.8,730.1 571.6,727.9 579.4,723.9 587.1,720.0 594.9,717.8 602.6,717.3 610.2,716.8 617.9,714.6 625.5,710.7 633.1,706.9 640.7,704.7 648.3,704.2 655.8,703.7 663.4,701.6 670.9,697.7 678.3,693.9 685.8,691.8 693.2,691.3 700.6,690.9 708.0,688.8 715.4,685.0 722.8,681.2 730.1,679.1 737.4,678.7 744.7,678.3 751.9,676.2 759.2,672.4 766.4,668.7 773.6,666.7 780.8,666.3 787.9,665.8 795.1,663.8 802.2,660.1 809.3,656.5 816.4,654.4 823.4,654.0 830.5,653.6 837.5,651.6 844.5,648.0 851.5,644.4 858.4,642.4 865.4,642.0 872.3,641.7 879.2,639.7 886.1,636.1 892.9,632.5 899.8,630.6 906.6,630.2 906.5,645.6 899.7,646.0 892.8,648.0 886.0,651.6 879.1,655.2 872.2,657.2 865.3,657.6 858.4,658.0 851.4,660.0 844.4,663.6 837.4,667.3 830.4,669.3 823.4,669.7 816.3,670.1 809.2,672.2 802.1,675.9 795.0,679.6 787.9,681.6 780.7,682.1 773.5,682.5 766.3,684.6 759.1,688.3 751.9,692.1 744.6,694.2 737.3,694.6 730.0,695.1 722.7,697.2 715.4,701.0 708.0,704.8 700.6,706.9 693.2,707.4 685.8,707.9 678.3,710.1 670.8,713.9 663.3,717.7 655.8,719.9 648.3,720.4 640.7,720.9 633.1,723.1 625.5,727.0 617.9,730.9 610.2,733.1 602.5,733.7 594.8,734.2 587.1,736.4 579.4,740.4 571.6,744.3 563.8,746.6 556.0,747.2" fill="#4e413c" />
<polyline points="556.0,730.6 563.8,730.1 571.6,727.9 579.4,723.9 587.1,720.0 594.9,717.8 602.6,717.3 610.2,716.8 617.9,714.6 625.5,710.7 633.1,706.9 640.7,704.7 648.3,704.2 655.8,703.7 663.4,701.6 670.9,697.7 678.3,693.9 685.8,691.8 693.2,691.3 700.6,690.9 708.0,688.8 715.4,685.0 722.8,681.2 730.1,679.1 737.4,678.7 744.7,678.3 751.9,676.2 759.2,672.4 766.4,668.7 773.6,666.7 780.8,666.3 787.9,665.8 795.1,663.8 802.2,660.1 809.3,656.5 816.4,654.4 823.4,654.0 830.5,653.6 837.5,651.6 844.5,648.0 851.5,644.4 858.4,642.4 865.4,642.0 872.3,641.7 879.2,639.7 886.1,636.1 892.9,632.5 899.8,630.6 906.6,630.2" fill="none" stroke="#1f1615" stroke-width="1.6" stroke-opacity="0.75"/>
<polyline points="556.0,714.1 563.8,713.6 571.6,711.4 579.4,707.5 587.1,703.6 594.9,701.4 602.6,700.9 610.2,700.5 617.9,698.3 625.5,694.4 633.2,690.6 640.7,688.4 648.3,688.0 655.9,687.5 663.4,685.4 670.9,681.6 678.4,677.8 685.8,675.7 693.3,675.2 700.7,674.8 708.1,672.7 715.4,669.0 722.8,665.2 730.1,663.1 737.4,662.7 744.7,662.3 752.0,660.3 759.2,656.6 766.4,652.9 773.7,650.8 780.8,650.4 788.0,650.0 795.1,648.0 802.3,644.4 809.4,640.7 816.4,638.7 823.5,638.3 830.5,638.0 837.5,636.0 844.5,632.4 851.5,628.8 858.5,626.8 865.4,626.5 872.3,626.1 879.2,624.2 886.1,620.6 893.0,617.0 899.9,615.1 906.7,614.8" fill="none" stroke="#1f1615" stroke-width="1.6" stroke-opacity="0.75"/>
<polygon points="562.1,729.6 572.4,726.6 572.4,741.7 562.1,744.7" fill="#1f1615" />
<polygon points="572.4,725.3 580.8,722.9 580.8,740.0 572.4,742.4" fill="#6c605a" />
<line x1="576.6" y1="724.7" x2="576.6" y2="741.2" stroke="#4a3e3a" stroke-width="1"/>
<polygon points="608.5,716.2 618.7,713.3 618.6,728.4 608.5,731.3" fill="#1f1615" />
<polygon points="618.7,712.0 626.9,709.7 626.9,726.6 618.6,729.0" fill="#6c605a" />
<line x1="622.8" y1="711.5" x2="622.8" y2="727.8" stroke="#4a3e3a" stroke-width="1"/>
<polygon points="654.2,703.2 664.1,700.3 664.1,715.2 654.2,718.1" fill="#1f1615" />
<polygon points="664.1,699.0 672.2,696.7 672.2,713.5 664.1,715.8" fill="#6c605a" />
<line x1="668.2" y1="698.5" x2="668.1" y2="714.7" stroke="#4a3e3a" stroke-width="1"/>
<polygon points="699.0,690.3 708.8,687.5 708.7,702.3 699.0,705.1" fill="#1f1615" />
<polygon points="708.8,686.2 716.7,684.0 716.7,700.6 708.7,702.9" fill="#6c605a" />
<line x1="712.7" y1="685.7" x2="712.7" y2="701.8" stroke="#4a3e3a" stroke-width="1"/>
<polygon points="743.1,677.7 752.7,674.9 752.6,689.6 743.0,692.3" fill="#1f1615" />
<polygon points="752.7,673.7 760.5,671.4 760.4,687.9 752.6,690.2" fill="#6c605a" />
<line x1="756.6" y1="673.2" x2="756.5" y2="689.1" stroke="#4a3e3a" stroke-width="1"/>
<polygon points="786.4,665.3 795.8,662.6 795.7,677.1 786.3,679.8" fill="#1f1615" />
<polygon points="795.8,661.3 803.5,659.1 803.4,675.5 795.7,677.7" fill="#6c605a" />
<line x1="799.6" y1="660.9" x2="799.6" y2="676.6" stroke="#4a3e3a" stroke-width="1"/>
<polygon points="828.9,653.1 838.2,650.4 838.1,664.8 828.9,667.5" fill="#1f1615" />
<polygon points="838.2,649.2 845.7,647.0 845.7,663.3 838.1,665.4" fill="#6c605a" />
<line x1="842.0" y1="648.7" x2="841.9" y2="664.3" stroke="#4a3e3a" stroke-width="1"/>
<polygon points="870.8,641.1 879.9,638.5 879.8,652.7 870.7,655.4" fill="#1f1615" />
<polygon points="879.9,637.2 887.3,635.1 887.2,651.2 879.8,653.4" fill="#6c605a" />
<line x1="883.6" y1="636.8" x2="883.5" y2="652.3" stroke="#4a3e3a" stroke-width="1"/>
<polygon points="556.0,747.2 563.8,746.6 571.6,744.3 579.4,740.4 587.1,736.4 594.8,734.2 602.5,733.7 610.2,733.1 617.9,730.9 625.5,727.0 633.1,723.1 640.7,720.9 648.3,720.4 655.8,719.9 663.3,717.7 670.8,713.9 678.3,710.1 685.8,707.9 693.2,707.4 700.6,706.9 708.0,704.8 715.4,701.0 722.7,697.2 730.0,695.1 737.3,694.6 744.6,694.2 751.9,692.1 759.1,688.3 766.3,684.6 773.5,682.5 780.7,682.1 787.9,681.6 795.0,679.6 802.1,675.9 809.2,672.2 816.3,670.1 823.4,669.7 830.4,669.3 837.4,667.3 844.4,663.6 851.4,660.0 858.4,658.0 865.3,657.6 872.2,657.2 879.1,655.2 886.0,651.6 892.8,648.0 899.7,646.0 906.5,645.6 906.4,661.0 899.6,661.4 892.8,663.4 885.9,667.1 879.0,670.7 872.1,672.7 865.2,673.1 858.3,673.5 851.3,675.6 844.3,679.2 837.3,682.9 830.3,684.9 823.3,685.4 816.2,685.8 809.2,687.9 802.1,691.6 794.9,695.3 787.8,697.4 780.7,697.9 773.5,698.3 766.3,700.4 759.1,704.2 751.8,708.0 744.6,710.1 737.3,710.6 730.0,711.0 722.7,713.2 715.3,717.0 708.0,720.8 700.6,723.0 693.2,723.5 685.7,724.0 678.3,726.2 670.8,730.0 663.3,733.9 655.8,736.1 648.2,736.6 640.7,737.2 633.1,739.4 625.5,743.3 617.9,747.2 610.2,749.5 602.5,750.0 594.8,750.6 587.1,752.8 579.4,756.8 571.6,760.8 563.8,763.1 556.0,763.6" fill="#5b4d48" />
<polyline points="556.0,752.4 563.8,751.6 571.6,749.3 579.4,745.6 587.1,742.0 594.8,739.7 602.5,738.9 610.2,738.1 617.9,735.9 625.5,732.2 633.1,728.6 640.7,726.4 648.3,725.6 655.8,724.8 663.3,722.6 670.8,719.1 678.3,715.5 685.8,713.3 693.2,712.6 700.6,711.8 708.0,709.6 715.3,706.1 722.7,702.6 730.0,700.5 737.3,699.7 744.6,699.0 751.9,696.9 759.1,693.4 766.3,689.9 773.5,687.8 780.7,687.1 787.9,686.4 795.0,684.3 802.1,680.9 809.2,677.5 816.3,675.4 823.3,674.7 830.4,674.0 837.4,672.0 844.4,668.6 851.4,665.2 858.3,663.2 865.3,662.5 872.2,661.9 879.1,659.9 886.0,656.5 892.8,653.2 899.7,651.2 906.5,650.6" fill="none" stroke="#6d615b" stroke-width="2.2" stroke-opacity="0.55"/>
<polygon points="556.0,763.6 563.8,763.1 571.6,760.8 579.4,756.8 587.1,752.8 594.8,750.6 602.5,750.0 610.2,749.5 617.9,747.2 625.5,743.3 633.1,739.4 640.7,737.2 648.2,736.6 655.8,736.1 663.3,733.9 670.8,730.0 678.3,726.2 685.7,724.0 693.2,723.5 700.6,723.0 708.0,720.8 715.3,717.0 722.7,713.2 730.0,711.0 737.3,710.6 744.6,710.1 751.8,708.0 759.1,704.2 766.3,700.4 773.5,698.3 780.7,697.9 787.8,697.4 794.9,695.3 802.1,691.6 809.2,687.9 816.2,685.8 823.3,685.4 830.3,684.9 837.3,682.9 844.3,679.2 851.3,675.6 858.3,673.5 865.2,673.1 872.1,672.7 879.0,670.7 885.9,667.1 892.8,663.4 899.6,661.4 906.4,661.0 906.3,676.5 899.5,676.9 892.7,678.9 885.8,682.5 878.9,686.2 872.0,688.2 865.1,688.6 858.2,689.1 851.3,691.1 844.3,694.8 837.3,698.5 830.3,700.6 823.2,701.0 816.2,701.5 809.1,703.6 802.0,707.3 794.9,711.1 787.8,713.2 780.6,713.7 773.4,714.1 766.2,716.3 759.0,720.0 751.8,723.8 744.5,726.0 737.2,726.5 730.0,727.0 722.6,729.2 715.3,733.0 707.9,736.8 700.5,739.0 693.1,739.6 685.7,740.1 678.2,742.3 670.8,746.2 663.3,750.1 655.8,752.3 648.2,752.8 640.7,753.4 633.1,755.6 625.5,759.6 617.8,763.5 610.2,765.8 602.5,766.4 594.8,766.9 587.1,769.2 579.4,773.2 571.6,777.2 563.8,779.5 556.0,780.1" fill="#4e413c" />
<polyline points="556.0,763.6 563.8,763.1 571.6,760.8 579.4,756.8 587.1,752.8 594.8,750.6 602.5,750.0 610.2,749.5 617.9,747.2 625.5,743.3 633.1,739.4 640.7,737.2 648.2,736.6 655.8,736.1 663.3,733.9 670.8,730.0 678.3,726.2 685.7,724.0 693.2,723.5 700.6,723.0 708.0,720.8 715.3,717.0 722.7,713.2 730.0,711.0 737.3,710.6 744.6,710.1 751.8,708.0 759.1,704.2 766.3,700.4 773.5,698.3 780.7,697.9 787.8,697.4 794.9,695.3 802.1,691.6 809.2,687.9 816.2,685.8 823.3,685.4 830.3,684.9 837.3,682.9 844.3,679.2 851.3,675.6 858.3,673.5 865.2,673.1 872.1,672.7 879.0,670.7 885.9,667.1 892.8,663.4 899.6,661.4 906.4,661.0" fill="none" stroke="#1f1615" stroke-width="1.6" stroke-opacity="0.75"/>
<polyline points="556.0,747.2 563.8,746.6 571.6,744.3 579.4,740.4 587.1,736.4 594.8,734.2 602.5,733.7 610.2,733.1 617.9,730.9 625.5,727.0 633.1,723.1 640.7,720.9 648.3,720.4 655.8,719.9 663.3,717.7 670.8,713.9 678.3,710.1 685.8,707.9 693.2,707.4 700.6,706.9 708.0,704.8 715.4,701.0 722.7,697.2 730.0,695.1 737.3,694.6 744.6,694.2 751.9,692.1 759.1,688.3 766.3,684.6 773.5,682.5 780.7,682.1 787.9,681.6 795.0,679.6 802.1,675.9 809.2,672.2 816.3,670.1 823.4,669.7 830.4,669.3 837.4,667.3 844.4,663.6 851.4,660.0 858.4,658.0 865.3,657.6 872.2,657.2 879.1,655.2 886.0,651.6 892.8,648.0 899.7,646.0 906.5,645.6" fill="none" stroke="#1f1615" stroke-width="1.6" stroke-opacity="0.75"/>
<polygon points="562.1,762.5 572.4,759.5 572.4,774.6 562.1,777.7" fill="#1f1615" />
<polygon points="572.4,758.2 580.8,755.7 580.8,772.8 572.4,775.3" fill="#6c605a" />
<line x1="576.6" y1="757.6" x2="576.6" y2="774.0" stroke="#4a3e3a" stroke-width="1"/>
<polygon points="608.5,748.9 618.6,746.0 618.6,761.0 608.5,763.9" fill="#1f1615" />
<polygon points="618.6,744.7 626.9,742.2 626.8,759.2 618.6,761.6" fill="#6c605a" />
<line x1="622.7" y1="744.1" x2="622.7" y2="760.4" stroke="#4a3e3a" stroke-width="1"/>
<polygon points="654.1,735.6 664.1,732.7 664.0,747.5 654.1,750.5" fill="#1f1615" />
<polygon points="664.1,731.4 672.1,729.0 672.1,745.8 664.0,748.2" fill="#6c605a" />
<line x1="668.1" y1="730.8" x2="668.1" y2="747.0" stroke="#4a3e3a" stroke-width="1"/>
<polygon points="698.9,722.4 708.7,719.6 708.7,734.3 698.9,737.2" fill="#1f1615" />
<polygon points="708.7,718.3 716.6,716.0 716.6,732.6 708.7,735.0" fill="#6c605a" />
<line x1="712.7" y1="717.8" x2="712.6" y2="733.8" stroke="#4a3e3a" stroke-width="1"/>
<polygon points="743.0,709.5 752.6,706.7 752.5,721.3 742.9,724.2" fill="#1f1615" />
<polygon points="752.6,705.5 760.4,703.2 760.3,719.7 752.5,722.0" fill="#6c605a" />
<line x1="756.5" y1="705.0" x2="756.4" y2="720.8" stroke="#4a3e3a" stroke-width="1"/>
<polygon points="786.2,696.9 795.7,694.1 795.6,708.6 786.2,711.4" fill="#1f1615" />
<polygon points="795.7,692.8 803.4,690.6 803.3,706.9 795.6,709.2" fill="#6c605a" />
<line x1="799.5" y1="692.3" x2="799.5" y2="708.1" stroke="#4a3e3a" stroke-width="1"/>
<polygon points="828.8,684.4 838.0,681.7 838.0,696.1 828.7,698.8" fill="#1f1615" />
<polygon points="838.0,680.4 845.6,678.2 845.5,694.4 838.0,696.7" fill="#6c605a" />
<line x1="841.8" y1="680.0" x2="841.8" y2="695.6" stroke="#4a3e3a" stroke-width="1"/>
<polygon points="870.6,672.2 879.7,669.5 879.6,683.7 870.5,686.4" fill="#1f1615" />
<polygon points="879.7,668.2 887.1,666.1 887.1,682.2 879.6,684.4" fill="#6c605a" />
<line x1="883.4" y1="667.8" x2="883.3" y2="683.3" stroke="#4a3e3a" stroke-width="1"/>
<polygon points="556.0,780.1 563.8,779.5 571.6,777.2 579.4,773.2 587.1,769.2 594.8,766.9 602.5,766.4 610.2,765.8 617.8,763.5 625.5,759.6 633.1,755.6 640.7,753.4 648.2,752.8 655.8,752.3 663.3,750.1 670.8,746.2 678.2,742.3 685.7,740.1 693.1,739.6 700.5,739.0 707.9,736.8 715.3,733.0 722.6,729.2 730.0,727.0 737.2,726.5 744.5,726.0 751.8,723.8 759.0,720.0 766.2,716.3 773.4,714.1 780.6,713.7 787.8,713.2 794.9,711.1 802.0,707.3 809.1,703.6 816.2,701.5 823.2,701.0 830.3,700.6 837.3,698.5 844.3,694.8 851.3,691.1 858.2,689.1 865.1,688.6 872.0,688.2 878.9,686.2 885.8,682.5 892.7,678.9 899.5,676.9 906.3,676.5 906.2,691.8 899.4,692.3 892.6,694.3 885.7,698.0 878.9,701.6 872.0,703.7 865.1,704.2 858.1,704.6 851.2,706.7 844.2,710.4 837.2,714.1 830.2,716.2 823.2,716.7 816.1,717.2 809.0,719.3 802.0,723.0 794.8,726.8 787.7,728.9 780.6,729.4 773.4,729.9 766.2,732.1 759.0,735.9 751.7,739.7 744.5,741.9 737.2,742.4 729.9,742.9 722.6,745.1 715.2,749.0 707.9,752.8 700.5,755.1 693.1,755.6 685.7,756.2 678.2,758.4 670.7,762.3 663.2,766.2 655.7,768.5 648.2,769.0 640.6,769.6 633.1,771.9 625.5,775.8 617.8,779.8 610.2,782.1 602.5,782.7 594.8,783.3 587.1,785.6 579.4,789.6 571.6,793.7 563.8,796.0 556.0,796.6" fill="#5b4d48" />
<polyline points="556.0,785.4 563.8,784.5 571.6,782.2 579.4,778.5 587.1,774.8 594.8,772.5 602.5,771.6 610.2,770.7 617.8,768.5 625.5,764.8 633.1,761.1 640.7,758.9 648.2,758.0 655.8,757.2 663.3,755.0 670.8,751.3 678.2,747.7 685.7,745.5 693.1,744.7 700.5,743.9 707.9,741.7 715.3,738.1 722.6,734.5 729.9,732.4 737.2,731.6 744.5,730.8 751.8,728.6 759.0,725.1 766.2,721.6 773.4,719.5 780.6,718.7 787.7,718.0 794.9,715.8 802.0,712.4 809.1,708.9 816.2,706.8 823.2,706.1 830.2,705.3 837.3,703.2 844.2,699.8 851.2,696.4 858.2,694.3 865.1,693.6 872.0,692.9 878.9,690.9 885.8,687.5 892.7,684.1 899.5,682.1 906.3,681.4" fill="none" stroke="#6d615b" stroke-width="2.2" stroke-opacity="0.55"/>
<polygon points="556.0,796.6 563.8,796.0 571.6,793.7 579.4,789.6 587.1,785.6 594.8,783.3 602.5,782.7 610.2,782.1 617.8,779.8 625.5,775.8 633.1,771.9 640.6,769.6 648.2,769.0 655.7,768.5 663.2,766.2 670.7,762.3 678.2,758.4 685.7,756.2 693.1,755.6 700.5,755.1 707.9,752.8 715.2,749.0 722.6,745.1 729.9,742.9 737.2,742.4 744.5,741.9 751.7,739.7 759.0,735.9 766.2,732.1 773.4,729.9 780.6,729.4 787.7,728.9 794.8,726.8 802.0,723.0 809.0,719.3 816.1,717.2 823.2,716.7 830.2,716.2 837.2,714.1 844.2,710.4 851.2,706.7 858.1,704.6 865.1,704.2 872.0,703.7 878.9,701.6 885.7,698.0 892.6,694.3 899.4,692.3 906.2,691.8 906.2,707.2 899.4,707.7 892.5,709.8 885.7,713.4 878.8,717.1 871.9,719.2 865.0,719.7 858.1,720.2 851.1,722.3 844.1,726.0 837.1,729.7 830.1,731.8 823.1,732.3 816.1,732.9 809.0,735.0 801.9,738.8 794.8,742.5 787.6,744.7 780.5,745.2 773.3,745.8 766.1,747.9 758.9,751.7 751.7,755.6 744.4,757.8 737.2,758.3 729.9,758.9 722.5,761.1 715.2,765.0 707.8,768.8 700.5,771.1 693.1,771.7 685.6,772.2 678.2,774.5 670.7,778.4 663.2,782.4 655.7,784.6 648.2,785.2 640.6,785.8 633.0,788.1 625.4,792.1 617.8,796.1 610.2,798.4 602.5,799.0 594.8,799.7 587.1,802.0 579.4,806.0 571.6,810.1 563.8,812.4 556.0,813.1" fill="#4e413c" />
<polyline points="556.0,796.6 563.8,796.0 571.6,793.7 579.4,789.6 587.1,785.6 594.8,783.3 602.5,782.7 610.2,782.1 617.8,779.8 625.5,775.8 633.1,771.9 640.6,769.6 648.2,769.0 655.7,768.5 663.2,766.2 670.7,762.3 678.2,758.4 685.7,756.2 693.1,755.6 700.5,755.1 707.9,752.8 715.2,749.0 722.6,745.1 729.9,742.9 737.2,742.4 744.5,741.9 751.7,739.7 759.0,735.9 766.2,732.1 773.4,729.9 780.6,729.4 787.7,728.9 794.8,726.8 802.0,723.0 809.0,719.3 816.1,717.2 823.2,716.7 830.2,716.2 837.2,714.1 844.2,710.4 851.2,706.7 858.1,704.6 865.1,704.2 872.0,703.7 878.9,701.6 885.7,698.0 892.6,694.3 899.4,692.3 906.2,691.8" fill="none" stroke="#1f1615" stroke-width="1.6" stroke-opacity="0.75"/>
<polyline points="556.0,780.1 563.8,779.5 571.6,777.2 579.4,773.2 587.1,769.2 594.8,766.9 602.5,766.4 610.2,765.8 617.8,763.5 625.5,759.6 633.1,755.6 640.7,753.4 648.2,752.8 655.8,752.3 663.3,750.1 670.8,746.2 678.2,742.3 685.7,740.1 693.1,739.6 700.5,739.0 707.9,736.8 715.3,733.0 722.6,729.2 730.0,727.0 737.2,726.5 744.5,726.0 751.8,723.8 759.0,720.0 766.2,716.3 773.4,714.1 780.6,713.7 787.8,713.2 794.9,711.1 802.0,707.3 809.1,703.6 816.2,701.5 823.2,701.0 830.3,700.6 837.3,698.5 844.3,694.8 851.3,691.1 858.2,689.1 865.1,688.6 872.0,688.2 878.9,686.2 885.8,682.5 892.7,678.9 899.5,676.9 906.3,676.5" fill="none" stroke="#1f1615" stroke-width="1.6" stroke-opacity="0.75"/>
<polygon points="562.1,795.4 572.4,792.4 572.4,807.5 562.1,810.6" fill="#1f1615" />
<polygon points="572.4,791.1 580.8,788.6 580.7,805.6 572.4,808.1" fill="#6c605a" />
<line x1="576.6" y1="790.5" x2="576.6" y2="806.9" stroke="#4a3e3a" stroke-width="1"/>
<polygon points="608.5,781.6 618.6,778.5 618.6,793.5 608.5,796.6" fill="#1f1615" />
<polygon points="618.6,777.2 626.8,774.8 626.8,791.7 618.6,794.2" fill="#6c605a" />
<line x1="622.7" y1="776.7" x2="622.7" y2="792.9" stroke="#4a3e3a" stroke-width="1"/>
<polygon points="654.1,767.9 664.0,765.0 664.0,779.8 654.1,782.8" fill="#1f1615" />
<polygon points="664.0,763.7 672.1,761.2 672.1,778.0 664.0,780.4" fill="#6c605a" />
<line x1="668.0" y1="763.1" x2="668.0" y2="779.2" stroke="#4a3e3a" stroke-width="1"/>
<polygon points="698.9,754.5 708.6,751.6 708.6,766.3 698.8,769.3" fill="#1f1615" />
<polygon points="708.6,750.3 716.6,747.9 716.5,764.6 708.6,767.0" fill="#6c605a" />
<line x1="712.6" y1="749.8" x2="712.6" y2="765.8" stroke="#4a3e3a" stroke-width="1"/>
<polygon points="742.9,741.4 752.5,738.5 752.4,753.1 742.8,756.0" fill="#1f1615" />
<polygon points="752.5,737.2 760.3,734.9 760.2,751.4 752.4,753.7" fill="#6c605a" />
<line x1="756.4" y1="736.7" x2="756.3" y2="752.5" stroke="#4a3e3a" stroke-width="1"/>
<polygon points="786.1,728.4 795.5,725.6 795.5,740.1 786.1,742.9" fill="#1f1615" />
<polygon points="795.6,724.3 803.2,722.0 803.2,738.4 795.5,740.7" fill="#6c605a" />
<line x1="799.4" y1="723.8" x2="799.3" y2="739.5" stroke="#4a3e3a" stroke-width="1"/>
<polygon points="828.7,715.7 837.9,712.9 837.8,727.3 828.6,730.1" fill="#1f1615" />
<polygon points="837.9,711.7 845.5,709.4 845.4,725.6 837.8,727.9" fill="#6c605a" />
<line x1="841.7" y1="711.2" x2="841.6" y2="726.8" stroke="#4a3e3a" stroke-width="1"/>
<polygon points="870.5,703.2 879.6,700.5 879.5,714.7 870.4,717.4" fill="#1f1615" />
<polygon points="879.6,699.2 887.0,697.0 886.9,713.1 879.5,715.3" fill="#6c605a" />
<line x1="883.3" y1="698.7" x2="883.2" y2="714.2" stroke="#4a3e3a" stroke-width="1"/>
<polygon points="556.0,813.1 563.8,812.4 571.6,810.1 579.4,806.0 587.1,802.0 594.8,799.7 602.5,799.0 610.2,798.4 617.8,796.1 625.4,792.1 633.0,788.1 640.6,785.8 648.2,785.2 655.7,784.6 663.2,782.4 670.7,778.4 678.2,774.5 685.6,772.2 693.1,771.7 700.5,771.1 707.8,768.8 715.2,765.0 722.5,761.1 729.9,758.9 737.2,758.3 744.4,757.8 751.7,755.6 758.9,751.7 766.1,747.9 773.3,745.8 780.5,745.2 787.6,744.7 794.8,742.5 801.9,738.8 809.0,735.0 816.1,732.9 823.1,732.3 830.1,731.8 837.1,729.7 844.1,726.0 851.1,722.3 858.1,720.2 865.0,719.7 871.9,719.2 878.8,717.1 885.7,713.4 892.5,709.8 899.4,707.7 906.2,707.2 906.1,722.6 899.3,723.1 892.4,725.2 885.6,728.9 878.7,732.6 871.8,734.7 864.9,735.2 858.0,735.7 851.0,737.8 844.1,741.6 837.1,745.3 830.1,747.5 823.0,748.0 816.0,748.5 808.9,750.7 801.8,754.5 794.7,758.3 787.6,760.4 780.4,761.0 773.3,761.5 766.1,763.7 758.9,767.6 751.6,771.4 744.4,773.7 737.1,774.2 729.8,774.8 722.5,777.0 715.2,780.9 707.8,784.8 700.4,787.1 693.0,787.7 685.6,788.3 678.2,790.6 670.7,794.5 663.2,798.5 655.7,800.8 648.2,801.4 640.6,802.0 633.0,804.3 625.4,808.3 617.8,812.4 610.2,814.7 602.5,815.3 594.8,816.0 587.1,818.4 579.3,822.4 571.6,826.5 563.8,828.9 556.0,829.5" fill="#5b4d48" />
<polyline points="556.0,818.4 563.8,817.4 571.6,815.0 579.4,811.3 587.1,807.5 594.8,805.2 602.5,804.3 610.2,803.3 617.8,801.0 625.4,797.3 633.0,793.6 640.6,791.3 648.2,790.4 655.7,789.5 663.2,787.2 670.7,783.6 678.2,779.9 685.6,777.7 693.0,776.8 700.4,775.9 707.8,773.7 715.2,770.1 722.5,766.5 729.9,764.2 737.1,763.4 744.4,762.6 751.7,760.4 758.9,756.8 766.1,753.3 773.3,751.1 780.5,750.3 787.6,749.5 794.8,747.3 801.9,743.8 809.0,740.3 816.0,738.1 823.1,737.4 830.1,736.6 837.1,734.4 844.1,731.0 851.1,727.5 858.0,725.4 865.0,724.7 871.9,723.9 878.8,721.8 885.6,718.4 892.5,715.0 899.3,712.9 906.1,712.2" fill="none" stroke="#6d615b" stroke-width="2.2" stroke-opacity="0.55"/>
<polygon points="556.0,829.5 563.8,828.9 571.6,826.5 579.3,822.4 587.1,818.4 594.8,816.0 602.5,815.3 610.2,814.7 617.8,812.4 625.4,808.3 633.0,804.3 640.6,802.0 648.2,801.4 655.7,800.8 663.2,798.5 670.7,794.5 678.2,790.6 685.6,788.3 693.0,787.7 700.4,787.1 707.8,784.8 715.2,780.9 722.5,777.0 729.8,774.8 737.1,774.2 744.4,773.7 751.6,771.4 758.9,767.6 766.1,763.7 773.3,761.5 780.4,761.0 787.6,760.4 794.7,758.3 801.8,754.5 808.9,750.7 816.0,748.5 823.0,748.0 830.1,747.5 837.1,745.3 844.1,741.6 851.0,737.8 858.0,735.7 864.9,735.2 871.8,734.7 878.7,732.6 885.6,728.9 892.4,725.2 899.3,723.1 906.1,722.6 906.0,738.0 899.2,738.5 892.4,740.6 885.5,744.3 878.6,748.1 871.7,750.2 864.8,750.7 857.9,751.2 851.0,753.4 844.0,757.1 837.0,760.9 830.0,763.1 823.0,763.6 815.9,764.2 808.9,766.3 801.8,770.2 794.7,774.0 787.5,776.2 780.4,776.8 773.2,777.3 766.0,779.5 758.8,783.4 751.6,787.3 744.3,789.5 737.1,790.1 729.8,790.7 722.5,793.0 715.1,796.9 707.8,800.8 700.4,803.1 693.0,803.7 685.6,804.4 678.1,806.6 670.7,810.6 663.2,814.6 655.7,816.9 648.1,817.6 640.6,818.2 633.0,820.6 625.4,824.6 617.8,828.6 610.1,831.0 602.5,831.7 594.8,832.3 587.1,834.7 579.3,838.8 571.6,842.9 563.8,845.3 556.0,846.0" fill="#4e413c" />
<polyline points="556.0,829.5 563.8,828.9 571.6,826.5 579.3,822.4 587.1,818.4 594.8,816.0 602.5,815.3 610.2,814.7 617.8,812.4 625.4,808.3 633.0,804.3 640.6,802.0 648.2,801.4 655.7,800.8 663.2,798.5 670.7,794.5 678.2,790.6 685.6,788.3 693.0,787.7 700.4,787.1 707.8,784.8 715.2,780.9 722.5,777.0 729.8,774.8 737.1,774.2 744.4,773.7 751.6,771.4 758.9,767.6 766.1,763.7 773.3,761.5 780.4,761.0 787.6,760.4 794.7,758.3 801.8,754.5 808.9,750.7 816.0,748.5 823.0,748.0 830.1,747.5 837.1,745.3 844.1,741.6 851.0,737.8 858.0,735.7 864.9,735.2 871.8,734.7 878.7,732.6 885.6,728.9 892.4,725.2 899.3,723.1 906.1,722.6" fill="none" stroke="#1f1615" stroke-width="1.6" stroke-opacity="0.75"/>
<polyline points="556.0,813.1 563.8,812.4 571.6,810.1 579.4,806.0 587.1,802.0 594.8,799.7 602.5,799.0 610.2,798.4 617.8,796.1 625.4,792.1 633.0,788.1 640.6,785.8 648.2,785.2 655.7,784.6 663.2,782.4 670.7,778.4 678.2,774.5 685.6,772.2 693.1,771.7 700.5,771.1 707.8,768.8 715.2,765.0 722.5,761.1 729.9,758.9 737.2,758.3 744.4,757.8 751.7,755.6 758.9,751.7 766.1,747.9 773.3,745.8 780.5,745.2 787.6,744.7 794.8,742.5 801.9,738.8 809.0,735.0 816.1,732.9 823.1,732.3 830.1,731.8 837.1,729.7 844.1,726.0 851.1,722.3 858.1,720.2 865.0,719.7 871.9,719.2 878.8,717.1 885.7,713.4 892.5,709.8 899.4,707.7 906.2,707.2" fill="none" stroke="#1f1615" stroke-width="1.6" stroke-opacity="0.75"/>
<polygon points="562.1,828.3 572.4,825.2 572.4,840.3 562.1,843.5" fill="#1f1615" />
<polygon points="572.4,823.9 580.7,821.3 580.7,838.4 572.4,841.0" fill="#6c605a" />
<line x1="576.6" y1="823.3" x2="576.6" y2="839.7" stroke="#4a3e3a" stroke-width="1"/>
<polygon points="608.5,814.2 618.6,811.1 618.5,826.0 608.5,829.2" fill="#1f1615" />
<polygon points="618.6,809.8 626.8,807.3 626.8,824.2 618.5,826.7" fill="#6c605a" />
<line x1="622.7" y1="809.2" x2="622.7" y2="825.4" stroke="#4a3e3a" stroke-width="1"/>
<polygon points="654.0,800.3 663.9,797.2 663.9,812.1 654.0,815.1" fill="#1f1615" />
<polygon points="663.9,795.9 672.0,793.5 672.0,810.2 663.9,812.7" fill="#6c605a" />
<line x1="668.0" y1="795.3" x2="668.0" y2="811.5" stroke="#4a3e3a" stroke-width="1"/>
<polygon points="698.8,786.6 708.5,783.6 708.5,798.3 698.8,801.3" fill="#1f1615" />
<polygon points="708.5,782.3 716.5,779.9 716.4,796.5 708.5,798.9" fill="#6c605a" />
<line x1="712.5" y1="781.7" x2="712.5" y2="797.7" stroke="#4a3e3a" stroke-width="1"/>
<polygon points="742.8,773.1 752.4,770.2 752.3,784.8 742.7,787.7" fill="#1f1615" />
<polygon points="752.4,768.9 760.2,766.6 760.1,783.0 752.3,785.4" fill="#6c605a" />
<line x1="756.3" y1="768.4" x2="756.2" y2="784.2" stroke="#4a3e3a" stroke-width="1"/>
<polygon points="786.0,759.9 795.4,757.0 795.4,771.5 786.0,774.4" fill="#1f1615" />
<polygon points="795.4,755.8 803.1,753.4 803.0,769.8 795.4,772.1" fill="#6c605a" />
<line x1="799.3" y1="755.2" x2="799.2" y2="771.0" stroke="#4a3e3a" stroke-width="1"/>
<polygon points="828.5,746.9 837.8,744.1 837.7,758.5 828.5,761.3" fill="#1f1615" />
<polygon points="837.8,742.9 845.3,740.6 845.2,756.7 837.7,759.1" fill="#6c605a" />
<line x1="841.5" y1="742.3" x2="841.5" y2="757.9" stroke="#4a3e3a" stroke-width="1"/>
<polygon points="870.3,734.2 879.4,731.4 879.3,745.6 870.2,748.4" fill="#1f1615" />
<polygon points="879.4,730.2 886.8,727.9 886.7,743.9 879.3,746.2" fill="#6c605a" />
<line x1="883.1" y1="729.6" x2="883.0" y2="745.1" stroke="#4a3e3a" stroke-width="1"/>
</g>
<path d="M548,636 L907,541 L907,553 L556,648 Z" fill="#42352f" />
<polygon points="560.0,633.0 568.6,629.2 577.2,625.5 585.9,622.1 594.5,619.1 603.1,616.6 611.8,614.6 620.4,613.0 629.0,611.9 637.6,611.0 646.2,610.2 654.9,606.4 663.5,602.8 672.1,599.4 680.8,596.4 689.4,593.9 698.0,591.8 706.6,590.3 715.2,589.1 723.9,588.2 732.5,587.5 741.1,583.7 749.8,580.0 758.4,576.6 767.0,573.6 775.6,571.1 784.2,569.1 792.9,567.5 801.5,566.4 810.1,565.5 818.8,564.8 827.4,560.9 836.0,557.3 844.6,553.9 853.2,550.9 861.9,548.4 870.5,546.3 879.1,544.8 887.8,543.6 896.4,542.7 905.0,542.0 905.0,544.0 560.0,635.0" fill="#4a3c36" />
<polyline points="548,638 907,543" fill="none" stroke="#685a54" stroke-width="1.5"/>
<polygon points="272.0,662.0 299.0,662.0 299.0,686.0 272.0,686.0" fill="#2b2a2b" />
<ellipse cx="285.5" cy="686" rx="13.5" ry="4.5" fill="#242324"/>
<polygon points="249.0,480.0 255.0,480.0 255.0,658.0 249.0,658.0" fill="#454343" />
<polygon points="255.0,482.0 260.0,482.0 260.0,660.0 255.0,660.0" fill="#141212" />
<polygon points="260.0,482.0 265.0,482.0 265.0,664.0 260.0,664.0" fill="#8f8d8c" />
<polygon points="265.0,481.0 272.0,481.0 272.0,665.0 265.0,665.0" fill="#646160" />
<polygon points="272.0,481.0 278.0,481.0 278.0,666.0 272.0,666.0" fill="#2e2b2a" />
<polygon points="248.0,478.0 262.0,474.0 279.0,479.0 279.0,490.0 262.0,486.0 248.0,488.0" fill="#353130" />
<polygon points="888.0,716.0 919.0,716.0 919.0,742.0 888.0,742.0" fill="#2c2b2c" />
<ellipse cx="903.5" cy="742" rx="15.5" ry="4.5" fill="#252425"/>
<polygon points="905.0,530.0 913.0,530.0 913.0,722.0 905.0,722.0" fill="#3a3736" />
<polygon points="913.0,530.0 921.0,530.0 921.0,722.0 913.0,722.0" fill="#514e4d" />
<polygon points="921.0,530.0 925.0,530.0 925.0,720.0 921.0,720.0" fill="#151313" />
<polygon points="925.0,528.0 936.0,528.0 936.0,718.0 925.0,718.0" fill="#454241" />
<polygon points="936.0,528.0 940.0,528.0 940.0,716.0 936.0,716.0" fill="#1a1818" />
<polygon points="940.0,530.0 947.0,530.0 947.0,712.0 940.0,712.0" fill="#3b3938" />
<polygon points="904.0,527.0 922.0,521.0 947.0,527.0 947.0,538.0 922.0,534.0 904.0,540.0" fill="#353130" />
<polygon points="490.0,648.0 503.0,648.0 503.0,850.0 490.0,850.0" fill="#4a4745" />
<polygon points="503.0,650.0 507.0,650.0 507.0,852.0 503.0,852.0" fill="#121010" />
<polygon points="507.0,652.0 516.0,652.0 516.0,884.0 507.0,884.0" fill="#7a7674" />
<polygon points="516.0,652.0 536.0,652.0 536.0,886.0 516.0,886.0" fill="#5b5856" />
<polygon points="536.0,650.0 539.0,650.0 539.0,866.0 536.0,866.0" fill="#1a1716" />
<polygon points="539.0,648.0 559.0,648.0 559.0,862.0 539.0,862.0" fill="#4d4a48" />
<polygon points="507.0,884.0 536.0,886.0 534.0,890.0 510.0,888.0" fill="#3a3736" />
<polygon points="489.0,642.0 522.0,632.0 560.0,641.0 560.0,654.0 524.0,662.0 489.0,652.0" fill="#3a3331" />
<polygon points="500.0,644.0 522.0,637.0 548.0,643.0 524.0,652.0" fill="#1f1a19" />
</g>
<g id="rods">
<line x1="304" y1="459" x2="612" y2="384" stroke="#222224" stroke-width="4.6" stroke-linecap="round"/>
<line x1="652" y1="391" x2="897" y2="505" stroke="#222224" stroke-width="4.6" stroke-linecap="round"/>
<rect x="338.0" y="450.0" width="7" height="5" fill="#1c1c1e"/>
<rect x="678.4" y="404.7" width="7" height="5" fill="#1c1c1e"/>
<rect x="393.4" y="436.5" width="7" height="5" fill="#1c1c1e"/>
<rect x="722.5" y="425.2" width="7" height="5" fill="#1c1c1e"/>
<rect x="455.0" y="421.5" width="7" height="5" fill="#1c1c1e"/>
<rect x="771.5" y="448.0" width="7" height="5" fill="#1c1c1e"/>
<rect x="516.6" y="406.5" width="7" height="5" fill="#1c1c1e"/>
<rect x="820.5" y="470.8" width="7" height="5" fill="#1c1c1e"/>
<rect x="572.0" y="393.0" width="7" height="5" fill="#1c1c1e"/>
<rect x="864.6" y="491.3" width="7" height="5" fill="#1c1c1e"/>
<path d="M271.3,417.5 Q284,415 296.7,417.5 L317.5,442 L315.5,445.5 L301.0,447.5 L301.0,460 Q299.0,466 284.0,466.5 Q269.0,466 267.0,460 L267.0,447.5 L252.5,445.5 L250.5,442 Z" fill="#1c1d1e" />
<path d="M257.5,441.5 L273.3,421 L279.0,421 L279.0,444 Z" fill="#3b3d3e"/>
<path d="M310.5,441.5 L294.7,421 L286.0,421 L286.0,444 Z" fill="#2a2b2c"/>
<path d="M269.0,448 L279.0,446 L279.0,462 L269.0,459 Z" fill="#333536"/>
<line x1="282.5" y1="420" x2="282.5" y2="461" stroke="#6a6c6d" stroke-width="2.6"/>
<path d="M619.6,350.5 Q631,348 642.4,350.5 L661.0,371 L659.0,374.5 L646.0,376.5 L646.0,387 Q644.0,393 631.0,393.5 Q618.0,393 616.0,387 L616.0,376.5 L603.0,374.5 L601.0,371 Z" fill="#1c1d1e" />
<path d="M608.0,370.5 L621.6,354 L626.0,354 L626.0,373 Z" fill="#3b3d3e"/>
<path d="M654.0,370.5 L640.4,354 L633.0,354 L633.0,373 Z" fill="#2a2b2c"/>
<path d="M618.0,377 L626.0,375 L626.0,389 L618.0,386 Z" fill="#333536"/>
<line x1="629.5" y1="353" x2="629.5" y2="388" stroke="#6a6c6d" stroke-width="2.6"/>
<path d="M905.8,463.5 Q918,461 930.2,463.5 L950.0,486 L948.0,489.5 L934.0,491.5 L934.0,505 Q932.0,511 918.0,511.5 Q904.0,511 902.0,505 L902.0,491.5 L888.0,489.5 L886.0,486 Z" fill="#1c1d1e" />
<path d="M893.0,485.5 L907.8,467 L913.0,467 L913.0,488 Z" fill="#3b3d3e"/>
<path d="M943.0,485.5 L928.2,467 L920.0,467 L920.0,488 Z" fill="#2a2b2c"/>
<path d="M904.0,492 L913.0,490 L913.0,507 L904.0,504 Z" fill="#333536"/>
<line x1="916.5" y1="466" x2="916.5" y2="506" stroke="#6a6c6d" stroke-width="2.6"/>
</g>
<g id="splash">
<path d="M345,1096 C330,1120 312,1142 292,1157 C268,1174 236,1182 204,1192" fill="none" fill="none" stroke-linecap="round" stroke="#a9d2ea" stroke-width="6" stroke-opacity="0.75"/>
<path d="M341,1100 C326,1124 308,1146 286,1162 C262,1178 240,1182 214,1188" fill="none" fill="none" stroke-linecap="round" stroke="#7fbce0" stroke-width="2" stroke-opacity="0.8"/>
<path d="M349,1100 C334,1128 316,1150 296,1164" fill="none" fill="none" stroke-linecap="round" stroke="#d5ebf7" stroke-width="3" stroke-opacity="0.9"/>
<path d="M128,1090 C150,1108 166,1124 180,1146 C194,1166 212,1180 240,1184" fill="none" fill="none" stroke-linecap="round" stroke="#bcdcee" stroke-width="3" stroke-opacity="0.7"/>
<path d="M160,1075 C158,1090 156,1100 160,1112" fill="none" fill="none" stroke-linecap="round" stroke="#c5e0f0" stroke-width="2.5" stroke-opacity="0.6"/>
<path d="M330,1130 C336,1144 334,1160 326,1176" fill="none" fill="none" stroke-linecap="round" stroke="#b5d8ec" stroke-width="2.5" stroke-opacity="0.6"/>
<path d="M196,1118 C215,1135 230,1150 252,1166" fill="none" fill="none" stroke-linecap="round" stroke="#cfe5f2" stroke-width="2.5" stroke-opacity="0.6"/>
<circle cx="277.9" cy="1192.7" r="1.7" fill="#a6cfe8" opacity="0.47"/>
<circle cx="255.7" cy="1209.3" r="1.9" fill="#a6cfe8" opacity="0.48"/>
<circle cx="194.7" cy="1139.1" r="0.8" fill="#a6cfe8" opacity="0.42"/>
<circle cx="217.1" cy="1132.3" r="1.9" fill="#a6cfe8" opacity="0.35"/>
<circle cx="236.8" cy="1151.7" r="2.2" fill="#a6cfe8" opacity="0.58"/>
<circle cx="288.8" cy="1100.9" r="0.8" fill="#a6cfe8" opacity="0.40"/>
<circle cx="207.7" cy="1140.3" r="2.1" fill="#a6cfe8" opacity="0.42"/>
<circle cx="292.1" cy="1201.0" r="1.0" fill="#a6cfe8" opacity="0.67"/>
<circle cx="168.3" cy="1154.7" r="1.3" fill="#a6cfe8" opacity="0.47"/>
<circle cx="240.8" cy="1150.2" r="2.0" fill="#a6cfe8" opacity="0.36"/>
<circle cx="242.1" cy="1113.1" r="2.2" fill="#a6cfe8" opacity="0.65"/>
<circle cx="237.8" cy="1072.2" r="1.6" fill="#a6cfe8" opacity="0.58"/>
<circle cx="279.9" cy="1171.7" r="2.0" fill="#a6cfe8" opacity="0.34"/>
<circle cx="336.8" cy="1101.2" r="1.4" fill="#a6cfe8" opacity="0.41"/>
<circle cx="183.2" cy="1151.9" r="2.2" fill="#a6cfe8" opacity="0.42"/>
<circle cx="259.0" cy="1143.0" r="1.8" fill="#a6cfe8" opacity="0.70"/>
<circle cx="171.1" cy="1141.2" r="1.6" fill="#a6cfe8" opacity="0.59"/>
<circle cx="248.2" cy="1194.0" r="1.6" fill="#a6cfe8" opacity="0.53"/>
<circle cx="249.2" cy="1162.1" r="1.3" fill="#a6cfe8" opacity="0.67"/>
<circle cx="192.7" cy="1184.3" r="1.2" fill="#a6cfe8" opacity="0.30"/>
<circle cx="327.4" cy="1169.4" r="1.9" fill="#a6cfe8" opacity="0.42"/>
<circle cx="201.4" cy="1085.1" r="2.1" fill="#a6cfe8" opacity="0.68"/>
<circle cx="306.3" cy="1127.2" r="2.0" fill="#a6cfe8" opacity="0.47"/>
<circle cx="205.6" cy="1161.2" r="2.0" fill="#a6cfe8" opacity="0.32"/>
<circle cx="325.2" cy="1170.5" r="1.9" fill="#a6cfe8" opacity="0.47"/>
<circle cx="244.4" cy="1128.8" r="1.2" fill="#a6cfe8" opacity="0.38"/>
<circle cx="205.6" cy="1151.8" r="0.9" fill="#a6cfe8" opacity="0.40"/>
<circle cx="233.4" cy="1094.3" r="1.2" fill="#a6cfe8" opacity="0.68"/>
<circle cx="147.3" cy="1129.6" r="0.8" fill="#a6cfe8" opacity="0.35"/>
<circle cx="289.8" cy="1103.2" r="1.4" fill="#a6cfe8" opacity="0.51"/>
<circle cx="262.6" cy="1112.1" r="1.5" fill="#a6cfe8" opacity="0.37"/>
<circle cx="235.9" cy="1134.3" r="1.8" fill="#a6cfe8" opacity="0.68"/>
<circle cx="308.0" cy="1147.9" r="1.7" fill="#a6cfe8" opacity="0.63"/>
<circle cx="198.4" cy="1124.4" r="1.4" fill="#a6cfe8" opacity="0.68"/>
<circle cx="259.4" cy="1128.0" r="0.9" fill="#a6cfe8" opacity="0.29"/>
<circle cx="294.1" cy="1146.9" r="1.0" fill="#a6cfe8" opacity="0.64"/>
<circle cx="219.0" cy="1122.8" r="1.6" fill="#a6cfe8" opacity="0.40"/>
<circle cx="196.3" cy="1141.1" r="1.0" fill="#a6cfe8" opacity="0.33"/>
<circle cx="172.7" cy="1183.7" r="1.6" fill="#a6cfe8" opacity="0.27"/>
<circle cx="207.8" cy="1061.1" r="1.9" fill="#a6cfe8" opacity="0.61"/>
<circle cx="296.3" cy="1142.2" r="0.9" fill="#a6cfe8" opacity="0.59"/>
<circle cx="274.2" cy="1196.2" r="1.2" fill="#a6cfe8" opacity="0.56"/>
<circle cx="228.7" cy="1150.8" r="1.3" fill="#a6cfe8" opacity="0.39"/>
<circle cx="272.3" cy="1120.5" r="1.5" fill="#a6cfe8" opacity="0.50"/>
<circle cx="258.7" cy="1134.2" r="1.6" fill="#a6cfe8" opacity="0.48"/>
<circle cx="203.5" cy="1197.6" r="1.5" fill="#a6cfe8" opacity="0.50"/>
<circle cx="328.0" cy="1168.6" r="2.2" fill="#a6cfe8" opacity="0.41"/>
<circle cx="252.1" cy="1150.0" r="0.9" fill="#a6cfe8" opacity="0.62"/>
<circle cx="238.7" cy="1096.5" r="1.7" fill="#a6cfe8" opacity="0.26"/>
<circle cx="198.4" cy="1105.9" r="1.5" fill="#a6cfe8" opacity="0.43"/>
<circle cx="203.0" cy="1156.6" r="0.9" fill="#a6cfe8" opacity="0.45"/>
<circle cx="236.6" cy="1202.4" r="1.9" fill="#a6cfe8" opacity="0.58"/>
<circle cx="196.1" cy="1148.0" r="1.3" fill="#a6cfe8" opacity="0.47"/>
<circle cx="139.5" cy="1064.3" r="0.9" fill="#a6cfe8" opacity="0.47"/>
<circle cx="147.7" cy="1143.2" r="2.0" fill="#a6cfe8" opacity="0.60"/>
<circle cx="170.2" cy="1091.8" r="1.7" fill="#a6cfe8" opacity="0.64"/>
<circle cx="208.8" cy="1082.5" r="1.1" fill="#a6cfe8" opacity="0.66"/>
<circle cx="177.7" cy="1176.3" r="2.0" fill="#a6cfe8" opacity="0.68"/>
<circle cx="241.2" cy="1139.7" r="1.2" fill="#a6cfe8" opacity="0.39"/>
<circle cx="211.1" cy="1154.2" r="1.6" fill="#a6cfe8" opacity="0.29"/>
<circle cx="192.2" cy="1230.7" r="1.8" fill="#a6cfe8" opacity="0.46"/>
<circle cx="341.9" cy="1202.9" r="1.8" fill="#a6cfe8" opacity="0.34"/>
<circle cx="194.8" cy="1189.3" r="1.8" fill="#a6cfe8" opacity="0.37"/>
<circle cx="281.2" cy="1129.4" r="1.2" fill="#a6cfe8" opacity="0.63"/>
<circle cx="282.4" cy="1189.7" r="1.1" fill="#a6cfe8" opacity="0.52"/>
<circle cx="225.8" cy="1178.5" r="2.1" fill="#a6cfe8" opacity="0.46"/>
<circle cx="164.7" cy="1161.4" r="1.2" fill="#a6cfe8" opacity="0.33"/>
<circle cx="202.2" cy="1161.2" r="1.1" fill="#a6cfe8" opacity="0.68"/>
<circle cx="333.0" cy="1155.6" r="2.1" fill="#a6cfe8" opacity="0.57"/>
<circle cx="299.4" cy="1145.6" r="0.9" fill="#a6cfe8" opacity="0.52"/>
<circle cx="222.5" cy="1111.8" r="0.8" fill="#a6cfe8" opacity="0.49"/>
<circle cx="274.2" cy="1159.2" r="1.4" fill="#a6cfe8" opacity="0.65"/>
<circle cx="214.7" cy="1155.7" r="1.9" fill="#a6cfe8" opacity="0.62"/>
<circle cx="217.8" cy="1137.7" r="1.1" fill="#a6cfe8" opacity="0.43"/>
<circle cx="197.8" cy="1130.8" r="1.9" fill="#a6cfe8" opacity="0.63"/>
<circle cx="336.7" cy="1102.4" r="0.8" fill="#a6cfe8" opacity="0.51"/>
<circle cx="338.2" cy="1181.5" r="1.8" fill="#a6cfe8" opacity="0.59"/>
<circle cx="242.3" cy="1153.0" r="1.9" fill="#a6cfe8" opacity="0.52"/>
<circle cx="189.8" cy="1109.0" r="1.9" fill="#a6cfe8" opacity="0.40"/>
<circle cx="228.7" cy="1177.0" r="1.2" fill="#a6cfe8" opacity="0.53"/>
<circle cx="251.3" cy="1130.2" r="0.9" fill="#a6cfe8" opacity="0.48"/>
<circle cx="219.4" cy="1116.7" r="1.2" fill="#a6cfe8" opacity="0.28"/>
<circle cx="297.6" cy="1150.8" r="1.8" fill="#a6cfe8" opacity="0.54"/>
<circle cx="249.1" cy="1155.7" r="2.1" fill="#a6cfe8" opacity="0.49"/>
<circle cx="164.3" cy="1173.4" r="1.8" fill="#a6cfe8" opacity="0.49"/>
<circle cx="325.8" cy="1175.4" r="1.1" fill="#a6cfe8" opacity="0.27"/>
<circle cx="194.4" cy="1179.5" r="1.7" fill="#a6cfe8" opacity="0.33"/>
<circle cx="218.9" cy="1094.8" r="1.0" fill="#a6cfe8" opacity="0.63"/>
<circle cx="218.5" cy="1114.7" r="1.9" fill="#a6cfe8" opacity="0.66"/>
<circle cx="288.7" cy="1132.6" r="2.1" fill="#a6cfe8" opacity="0.67"/>
<circle cx="237.3" cy="1134.2" r="1.3" fill="#a6cfe8" opacity="0.53"/>
<circle cx="162.8" cy="1098.1" r="1.7" fill="#a6cfe8" opacity="0.32"/>
<circle cx="296.8" cy="1119.1" r="2.0" fill="#a6cfe8" opacity="0.34"/>
<circle cx="305.0" cy="1139.4" r="1.9" fill="#a6cfe8" opacity="0.58"/>
<circle cx="273.7" cy="1114.5" r="0.9" fill="#a6cfe8" opacity="0.43"/>
<circle cx="264.9" cy="1184.9" r="1.9" fill="#a6cfe8" opacity="0.41"/>
<circle cx="243.7" cy="1146.9" r="1.4" fill="#a6cfe8" opacity="0.51"/>
<circle cx="315.3" cy="1149.7" r="1.1" fill="#a6cfe8" opacity="0.30"/>
<circle cx="295.1" cy="1118.6" r="2.1" fill="#a6cfe8" opacity="0.48"/>
<circle cx="264.2" cy="1160.7" r="1.4" fill="#a6cfe8" opacity="0.54"/>
<circle cx="247.0" cy="1073.8" r="1.7" fill="#a6cfe8" opacity="0.36"/>
<circle cx="186.5" cy="1156.6" r="1.5" fill="#a6cfe8" opacity="0.37"/>
<circle cx="175.8" cy="1129.6" r="0.8" fill="#a6cfe8" opacity="0.62"/>
</g>
<clipPath id="cc1"><circle cx="1013" cy="317" r="123.5"/></clipPath>
<g clip-path="url(#cc1)">
<circle cx="1013" cy="317" r="124" fill="url(#gC1)"/>
<polygon points="931.2,223.5 981.2,252.7 1102.7,230.8 1094.5,200.6 1012.9,188.4 968.0,196.5" fill="#1b1b1e" />
<polygon points="937.3,221.0 983.3,248.6 1099.6,227.6 1094.5,200.6 1012.9,188.4 968.0,196.5" fill="url(#dotsC1b)" />
<polygon points="1028.2,286.3 1128.2,361.8 1141.4,353.7 1141.4,261.8 1094.5,272.0 1033.3,283.3" fill="#1a1a1c" />
<polygon points="1036.3,284.7 1131.2,356.7 1141.4,349.6 1141.4,261.8 1094.5,273.1" fill="url(#dotsC1)" />
<polygon points="886.3,327.1 980.2,331.2 1053.7,386.3 1059.8,443.5 972.0,447.6 886.3,394.5" fill="url(#dotsC1)" />
<polygon points="890.4,265.9 919.0,268.0 919.0,272.0 898.6,280.2 890.4,280.2" fill="#2a2a2d" />
<ellipse cx="993.5" cy="249.5" rx="24.4" ry="9" fill="#1a1a1c" opacity="0.65"/>
<path d="M980.2,198.6 Q993.5,192.6 1006.7,198.6 L1012.9,242.5 Q993.5,254.5 974.1,242.5 Z" fill="url(#gCone)"/>
<ellipse cx="993.5" cy="200.6" rx="10.3" ry="3.6" fill="#050505" stroke="#4a4a4e" stroke-width="1.2"/>
<path d="M979.1,241.5 Q993.5,248.5 1004.9,242.5" fill="none" stroke="#d8d8dc" stroke-width="1.6" opacity="0.8"/>
<ellipse cx="1071.0" cy="300.6" rx="26.9" ry="9" fill="#1a1a1c" opacity="0.65"/>
<path d="M1055.7,245.5 Q1071.0,239.5 1086.3,245.5 L1093.0,293.6 Q1071.0,305.6 1049.1,293.6 Z" fill="url(#gCone)"/>
<ellipse cx="1071.0" cy="247.5" rx="12.3" ry="3.6" fill="#050505" stroke="#4a4a4e" stroke-width="1.2"/>
<path d="M1054.1,292.6 Q1071.0,299.6 1085.0,293.6" fill="none" stroke="#d8d8dc" stroke-width="1.6" opacity="0.8"/>
<ellipse cx="950.6" cy="346.5" rx="30.5" ry="9" fill="#1a1a1c" opacity="0.65"/>
<path d="M934.3,273.1 Q950.6,267.1 966.9,273.1 L976.1,339.5 Q950.6,351.5 925.1,339.5 Z" fill="url(#gCone)"/>
<ellipse cx="950.6" cy="275.1" rx="13.3" ry="3.6" fill="#050505" stroke="#4a4a4e" stroke-width="1.2"/>
<path d="M930.1,338.5 Q950.6,345.5 968.1,339.5" fill="none" stroke="#d8d8dc" stroke-width="1.6" opacity="0.8"/>
<ellipse cx="1082.2" cy="444.4" rx="31.5" ry="9" fill="#1a1a1c" opacity="0.65"/>
<path d="M1064.9,373.1 Q1082.2,367.1 1099.6,373.1 L1108.8,437.4 Q1082.2,449.4 1055.7,437.4 Z" fill="url(#gCone)"/>
<ellipse cx="1082.2" cy="375.1" rx="14.3" ry="3.6" fill="#050505" stroke="#4a4a4e" stroke-width="1.2"/>
<path d="M1060.7,436.4 Q1082.2,443.4 1100.8,437.4" fill="none" stroke="#d8d8dc" stroke-width="1.6" opacity="0.8"/>
</g>
<clipPath id="cc2"><circle cx="1300" cy="622" r="123.5"/></clipPath>
<g clip-path="url(#cc2)">
<circle cx="1300" cy="622" r="124" fill="#3a302d"/>
<polygon points="1173.4,495.4 1265.2,495.4 1265.2,675.0 1173.4,670.9" fill="#74685f" />
<line x1="1173.4" y1="505.2" x2="1264.2" y2="505.7" stroke="#b0a49c" stroke-width="2"/>
<line x1="1173.4" y1="509.7" x2="1264.2" y2="510.1" stroke="#3a302d" stroke-width="2"/>
<line x1="1173.4" y1="514.4" x2="1264.2" y2="513.5" stroke="#8b7f78" stroke-width="2"/>
<line x1="1173.4" y1="517.7" x2="1264.2" y2="519.0" stroke="#b0a49c" stroke-width="2"/>
<line x1="1173.4" y1="522.4" x2="1264.2" y2="522.3" stroke="#3a302d" stroke-width="2"/>
<line x1="1173.4" y1="527.9" x2="1264.2" y2="527.0" stroke="#8b7f78" stroke-width="2"/>
<line x1="1173.4" y1="531.9" x2="1264.2" y2="531.3" stroke="#b0a49c" stroke-width="2"/>
<line x1="1173.4" y1="535.8" x2="1264.2" y2="535.0" stroke="#3a302d" stroke-width="2"/>
<line x1="1173.4" y1="540.1" x2="1264.2" y2="540.5" stroke="#8b7f78" stroke-width="2"/>
<line x1="1173.4" y1="544.2" x2="1264.2" y2="544.6" stroke="#b0a49c" stroke-width="2"/>
<line x1="1173.4" y1="548.7" x2="1264.2" y2="547.8" stroke="#3a302d" stroke-width="2"/>
<line x1="1173.4" y1="553.2" x2="1264.2" y2="552.9" stroke="#8b7f78" stroke-width="2"/>
<line x1="1173.4" y1="556.7" x2="1264.2" y2="556.3" stroke="#b0a49c" stroke-width="2"/>
<line x1="1173.4" y1="561.9" x2="1264.2" y2="561.3" stroke="#3a302d" stroke-width="2"/>
<line x1="1173.4" y1="566.0" x2="1264.2" y2="566.2" stroke="#8b7f78" stroke-width="2"/>
<line x1="1173.4" y1="570.2" x2="1264.2" y2="570.6" stroke="#b0a49c" stroke-width="2"/>
<line x1="1173.4" y1="574.0" x2="1264.2" y2="574.7" stroke="#3a302d" stroke-width="2"/>
<line x1="1173.4" y1="578.4" x2="1264.2" y2="579.2" stroke="#8b7f78" stroke-width="2"/>
<line x1="1173.4" y1="583.4" x2="1264.2" y2="582.1" stroke="#b0a49c" stroke-width="2"/>
<line x1="1173.4" y1="586.4" x2="1264.2" y2="586.6" stroke="#3a302d" stroke-width="2"/>
<line x1="1173.4" y1="592.1" x2="1264.2" y2="591.2" stroke="#8b7f78" stroke-width="2"/>
<line x1="1173.4" y1="595.8" x2="1264.2" y2="595.3" stroke="#b0a49c" stroke-width="2"/>
<line x1="1173.4" y1="599.9" x2="1264.2" y2="599.7" stroke="#3a302d" stroke-width="2"/>
<line x1="1173.4" y1="603.9" x2="1264.2" y2="604.3" stroke="#8b7f78" stroke-width="2"/>
<line x1="1173.4" y1="608.6" x2="1264.2" y2="609.1" stroke="#b0a49c" stroke-width="2"/>
<line x1="1173.4" y1="613.1" x2="1264.2" y2="613.5" stroke="#3a302d" stroke-width="2"/>
<line x1="1173.4" y1="617.6" x2="1264.2" y2="617.8" stroke="#8b7f78" stroke-width="2"/>
<line x1="1173.4" y1="621.6" x2="1264.2" y2="620.8" stroke="#b0a49c" stroke-width="2"/>
<line x1="1173.4" y1="626.2" x2="1264.2" y2="626.4" stroke="#3a302d" stroke-width="2"/>
<line x1="1173.4" y1="630.6" x2="1264.2" y2="630.0" stroke="#8b7f78" stroke-width="2"/>
<line x1="1173.4" y1="634.5" x2="1264.2" y2="633.7" stroke="#b0a49c" stroke-width="2"/>
<line x1="1173.4" y1="639.0" x2="1264.2" y2="638.6" stroke="#3a302d" stroke-width="2"/>
<line x1="1173.4" y1="642.4" x2="1264.2" y2="642.0" stroke="#8b7f78" stroke-width="2"/>
<line x1="1173.4" y1="647.6" x2="1264.2" y2="647.8" stroke="#b0a49c" stroke-width="2"/>
<line x1="1173.4" y1="650.7" x2="1264.2" y2="651.8" stroke="#3a302d" stroke-width="2"/>
<line x1="1173.4" y1="655.5" x2="1264.2" y2="655.0" stroke="#8b7f78" stroke-width="2"/>
<line x1="1173.4" y1="659.6" x2="1264.2" y2="660.3" stroke="#b0a49c" stroke-width="2"/>
<line x1="1173.4" y1="664.8" x2="1264.2" y2="663.4" stroke="#3a302d" stroke-width="2"/>
<line x1="1173.4" y1="668.7" x2="1264.2" y2="667.7" stroke="#8b7f78" stroke-width="2"/>
<line x1="1173.4" y1="673.1" x2="1264.2" y2="672.5" stroke="#b0a49c" stroke-width="2"/>
<polygon points="1250.9,515.8 1263.2,515.8 1263.2,536.2 1250.9,536.2" fill="#4a3e3a" />
<polygon points="1246.4,515.8 1250.9,515.8 1250.9,536.2 1246.4,536.2" fill="#1f1716" />
<polygon points="1250.9,554.6 1263.2,554.6 1263.2,570.9 1250.9,570.9" fill="#4a3e3a" />
<polygon points="1246.4,554.6 1250.9,554.6 1250.9,570.9 1246.4,570.9" fill="#1f1716" />
<polygon points="1250.9,589.3 1263.2,589.3 1263.2,605.6 1250.9,605.6" fill="#4a3e3a" />
<polygon points="1246.4,589.3 1250.9,589.3 1250.9,605.6 1246.4,605.6" fill="#1f1716" />
<polygon points="1189.7,562.8 1201.9,562.8 1201.9,581.1 1189.7,581.1" fill="#4a3e3a" />
<polygon points="1185.2,562.8 1189.7,562.8 1189.7,581.1 1185.2,581.1" fill="#1f1716" />
<polygon points="1189.7,601.5 1201.9,601.5 1201.9,617.9 1189.7,617.9" fill="#4a3e3a" />
<polygon points="1185.2,601.5 1189.7,601.5 1189.7,617.9 1185.2,617.9" fill="#1f1716" />
<polygon points="1189.7,636.2 1201.9,636.2 1201.9,652.6 1189.7,652.6" fill="#4a3e3a" />
<polygon points="1185.2,636.2 1189.7,636.2 1189.7,652.6 1185.2,652.6" fill="#1f1716" />
<polygon points="1250.9,626.0 1263.2,626.0 1263.2,644.4 1250.9,644.4" fill="#4a3e3a" />
<polygon points="1246.4,626.0 1250.9,626.0 1250.9,644.4 1246.4,644.4" fill="#1f1716" />
<polygon points="1250.9,658.7 1263.2,658.7 1263.2,673.0 1250.9,673.0" fill="#4a3e3a" />
<polygon points="1246.4,658.7 1250.9,658.7 1250.9,673.0 1246.4,673.0" fill="#1f1716" />
<polygon points="1338.7,499.5 1426.4,499.5 1426.4,617.9 1338.7,670.9" fill="#4d413d" />
<path d="M1338.7,524.0 C1365.2,515.8 1389.7,509.7 1426.4,485.2 L1426.4,501.5 C1389.7,526.0 1365.2,532.1 1338.7,540.3 Z" fill="#7a6d67" />
<path d="M1338.7,527.0 C1365.2,518.9 1389.7,512.8 1426.4,488.3" fill="none" stroke="#a0948d" stroke-width="1.5"/>
<polygon points="1359.1,527.7 1366.8,524.8 1366.8,539.9 1359.1,543.2" fill="#1d1514" />
<polygon points="1366.8,524.8 1372.6,522.3 1372.6,537.9 1366.8,539.9" fill="#8a7d77" />
<polygon points="1384.6,516.9 1392.3,514.1 1392.3,529.2 1384.6,532.4" fill="#1d1514" />
<polygon points="1392.3,514.1 1398.1,511.6 1398.1,527.1 1392.3,529.2" fill="#8a7d77" />
<polygon points="1410.1,506.2 1417.9,503.4 1417.9,518.5 1410.1,521.7" fill="#1d1514" />
<polygon points="1417.9,503.4 1423.6,500.9 1423.6,516.4 1417.9,518.5" fill="#8a7d77" />
<path d="M1338.7,554.6 C1365.2,546.4 1389.7,540.3 1426.4,515.8 L1426.4,532.1 C1389.7,556.6 1365.2,562.8 1338.7,570.9 Z" fill="#7a6d67" />
<path d="M1338.7,557.7 C1365.2,549.5 1389.7,543.4 1426.4,518.9" fill="none" stroke="#a0948d" stroke-width="1.5"/>
<polygon points="1371.3,553.1 1379.1,550.3 1379.1,565.4 1371.3,568.6" fill="#1d1514" />
<polygon points="1379.1,550.3 1384.8,547.8 1384.8,563.3 1379.1,565.4" fill="#8a7d77" />
<polygon points="1396.8,542.4 1404.6,539.6 1404.6,554.7 1396.8,557.9" fill="#1d1514" />
<polygon points="1404.6,539.6 1410.3,537.1 1410.3,552.6 1404.6,554.7" fill="#8a7d77" />
<polygon points="1422.3,531.7 1430.1,528.8 1430.1,543.9 1422.3,547.2" fill="#1d1514" />
<polygon points="1430.1,528.8 1435.8,526.4 1435.8,541.9 1430.1,543.9" fill="#8a7d77" />
<path d="M1338.7,585.2 C1365.2,577.0 1389.7,570.9 1426.4,546.4 L1426.4,562.8 C1389.7,587.2 1365.2,593.4 1338.7,601.5 Z" fill="#7a6d67" />
<path d="M1338.7,588.3 C1365.2,580.1 1389.7,574.0 1426.4,549.5" fill="none" stroke="#a0948d" stroke-width="1.5"/>
<polygon points="1359.1,588.9 1366.8,586.0 1366.8,601.1 1359.1,604.4" fill="#1d1514" />
<polygon points="1366.8,586.0 1372.6,583.6 1372.6,599.1 1366.8,601.1" fill="#8a7d77" />
<polygon points="1384.6,578.2 1392.3,575.3 1392.3,590.4 1384.6,593.7" fill="#1d1514" />
<polygon points="1392.3,575.3 1398.1,572.9 1398.1,588.4 1392.3,590.4" fill="#8a7d77" />
<polygon points="1410.1,567.4 1417.9,564.6 1417.9,579.7 1410.1,583.0" fill="#1d1514" />
<polygon points="1417.9,564.6 1423.6,562.1 1423.6,577.7 1417.9,579.7" fill="#8a7d77" />
<path d="M1338.7,615.8 C1365.2,607.7 1389.7,601.5 1426.4,577.0 L1426.4,593.4 C1389.7,617.9 1365.2,624.0 1338.7,632.1 Z" fill="#7a6d67" />
<path d="M1338.7,618.9 C1365.2,610.7 1389.7,604.6 1426.4,580.1" fill="none" stroke="#a0948d" stroke-width="1.5"/>
<polygon points="1371.3,614.3 1379.1,611.5 1379.1,626.6 1371.3,629.9" fill="#1d1514" />
<polygon points="1379.1,611.5 1384.8,609.0 1384.8,624.6 1379.1,626.6" fill="#8a7d77" />
<polygon points="1396.8,603.6 1404.6,600.8 1404.6,615.9 1396.8,619.1" fill="#1d1514" />
<polygon points="1404.6,600.8 1410.3,598.3 1410.3,613.8 1404.6,615.9" fill="#8a7d77" />
<polygon points="1422.3,592.9 1430.1,590.1 1430.1,605.2 1422.3,608.4" fill="#1d1514" />
<polygon points="1430.1,590.1 1435.8,587.6 1435.8,603.1 1430.1,605.2" fill="#8a7d77" />
<path d="M1338.7,646.4 C1365.2,638.3 1389.7,632.1 1426.4,607.7 L1426.4,624.0 C1389.7,648.5 1365.2,654.6 1338.7,662.8 Z" fill="#7a6d67" />
<path d="M1338.7,649.5 C1365.2,641.3 1389.7,635.2 1426.4,610.7" fill="none" stroke="#a0948d" stroke-width="1.5"/>
<polygon points="1359.1,650.1 1366.8,647.2 1366.8,662.3 1359.1,665.6" fill="#1d1514" />
<polygon points="1366.8,647.2 1372.6,644.8 1372.6,660.3 1366.8,662.3" fill="#8a7d77" />
<polygon points="1384.6,639.4 1392.3,636.5 1392.3,651.6 1384.6,654.9" fill="#1d1514" />
<polygon points="1392.3,636.5 1398.1,634.1 1398.1,649.6 1392.3,651.6" fill="#8a7d77" />
<polygon points="1410.1,628.7 1417.9,625.8 1417.9,640.9 1410.1,644.2" fill="#1d1514" />
<polygon points="1417.9,625.8 1423.6,623.4 1423.6,638.9 1417.9,640.9" fill="#8a7d77" />
<path d="M1338.7,677.0 C1365.2,668.9 1389.7,662.8 1426.4,638.3 L1426.4,654.6 C1389.7,679.1 1365.2,685.2 1338.7,693.4 Z" fill="#7a6d67" />
<path d="M1338.7,680.1 C1365.2,671.9 1389.7,665.8 1426.4,641.3" fill="none" stroke="#a0948d" stroke-width="1.5"/>
<polygon points="1371.3,675.6 1379.1,672.7 1379.1,687.8 1371.3,691.1" fill="#1d1514" />
<polygon points="1379.1,672.7 1384.8,670.3 1384.8,685.8 1379.1,687.8" fill="#8a7d77" />
<polygon points="1396.8,664.9 1404.6,662.0 1404.6,677.1 1396.8,680.4" fill="#1d1514" />
<polygon points="1404.6,662.0 1410.3,659.6 1410.3,675.1 1404.6,677.1" fill="#8a7d77" />
<polygon points="1422.3,654.1 1430.1,651.3 1430.1,666.4 1422.3,669.7" fill="#1d1514" />
<polygon points="1430.1,651.3 1435.8,648.8 1435.8,664.3 1430.1,666.4" fill="#8a7d77" />
<polygon points="1263.2,495.4 1342.8,495.4 1342.8,573.0 1326.4,577.0 1281.5,575.0 1263.2,570.9" fill="#4c3f3b" />
<polygon points="1281.5,495.4 1326.4,495.4 1326.4,573.0 1281.5,573.0" fill="#5d4f4a" />
<line x1="1287.7" y1="497.4" x2="1287.7" y2="573.0" stroke="#3a2f2c" stroke-width="1.6"/>
<line x1="1297.9" y1="497.4" x2="1297.9" y2="573.0" stroke="#3a2f2c" stroke-width="1.6"/>
<line x1="1310.1" y1="497.4" x2="1310.1" y2="573.0" stroke="#3a2f2c" stroke-width="1.6"/>
<line x1="1320.3" y1="497.4" x2="1320.3" y2="573.0" stroke="#3a2f2c" stroke-width="1.6"/>
<polygon points="1266.2,573.0 1338.7,575.0 1336.6,670.9 1269.3,677.0" fill="#1c1615" />
<polygon points="1281.5,575.0 1324.4,577.0 1324.4,609.7 1312.1,616.8 1282.6,613.8" fill="#6a5c56" />
<polygon points="1312.1,581.1 1324.4,577.0 1324.4,609.7 1312.1,616.8" fill="#4f423e" />
<polygon points="1326.4,617.9 1338.7,615.8 1338.7,666.8 1314.2,668.9 1316.2,638.3" fill="#43362f" />
<path d="M1277.4,654.6 C1289.7,650.5 1301.9,654.6 1306.0,660.7 C1297.9,666.8 1287.7,670.9 1277.4,677.0" fill="none" stroke="#8a8a8e" stroke-width="1.6"/>
<polygon points="1173.4,669.9 1277.4,677.0 1281.5,748.5 1173.4,748.5" fill="#2f2f32" />
<polygon points="1185.6,671.9 1277.4,679.1 1279.5,683.2 1185.6,676.0" fill="#454549" />
<polygon points="1281.5,681.1 1322.3,682.1 1324.4,748.5 1281.5,748.5" fill="#2a2a2d" />
<polygon points="1289.7,681.1 1318.3,682.1 1318.3,748.5 1289.7,748.5" fill="#333336" />
<path d="M1324.4,683.2 L1428.5,615.8 L1428.5,634.2 C1389.7,658.7 1359.1,691.3 1330.5,748.5 L1322.3,748.5 Z" fill="#3f3f43" />
<path d="M1428.5,634.2 C1389.7,658.7 1359.1,691.3 1330.5,748.5 L1428.5,748.5 Z" fill="#f4f4f6" />
<path d="M1428.5,638.3 C1395.8,658.7 1371.3,683.2 1348.9,719.9 L1359.1,721.9 C1379.5,687.2 1399.9,664.8 1428.5,648.5 Z" fill="#b9b9c0" />
<polygon points="1173.4,726.0 1281.5,744.4 1281.5,748.5 1173.4,748.5" fill="#dcdce0" opacity="0.9"/>
<path d="M1173.4,719.9 C1216.2,724.0 1253.0,734.2 1281.5,745.4 L1281.5,748.5 L1173.4,748.5 Z" fill="#ececef" />
</g>
<clipPath id="cc3"><circle cx="1199.5" cy="1037.5" r="123.5"/></clipPath>
<g clip-path="url(#cc3)">
<circle cx="1199.5" cy="1037.5" r="124" fill="#2a1f1d"/>
<line x1="1075.4" y1="932.8" x2="1161.1" y2="930.8" stroke="#3e3330" stroke-width="3"/>
<line x1="1075.4" y1="942.0" x2="1161.1" y2="940.0" stroke="#3e3330" stroke-width="3"/>
<line x1="1075.4" y1="951.2" x2="1161.1" y2="949.1" stroke="#3e3330" stroke-width="3"/>
<line x1="1075.4" y1="960.4" x2="1161.1" y2="958.3" stroke="#3e3330" stroke-width="3"/>
<line x1="1075.4" y1="969.6" x2="1161.1" y2="967.5" stroke="#3e3330" stroke-width="3"/>
<line x1="1075.4" y1="978.7" x2="1161.1" y2="976.7" stroke="#3e3330" stroke-width="3"/>
<line x1="1075.4" y1="987.9" x2="1161.1" y2="985.9" stroke="#3e3330" stroke-width="3"/>
<line x1="1075.4" y1="997.1" x2="1161.1" y2="995.1" stroke="#3e3330" stroke-width="3"/>
<line x1="1075.4" y1="1006.3" x2="1161.1" y2="1004.2" stroke="#3e3330" stroke-width="3"/>
<line x1="1075.4" y1="1015.5" x2="1161.1" y2="1013.4" stroke="#3e3330" stroke-width="3"/>
<line x1="1075.4" y1="1024.7" x2="1161.1" y2="1022.6" stroke="#3e3330" stroke-width="3"/>
<line x1="1075.4" y1="1033.8" x2="1161.1" y2="1031.8" stroke="#3e3330" stroke-width="3"/>
<path d="M1157.0,910.4 L1238.7,910.4 C1259.1,920.6 1279.5,932.8 1299.9,953.2 L1328.5,994.0 L1328.5,1026.7 C1299.9,1014.4 1269.3,1006.3 1238.7,1002.2 C1234.6,977.7 1226.4,959.3 1197.9,957.3 C1181.5,957.3 1169.3,961.4 1161.1,973.6 Z" fill="url(#gSkin)" />
<path d="M1210.1,943.0 C1222.3,938.9 1232.6,928.7 1234.6,916.5 L1271.3,938.9 C1255.0,945.1 1244.8,953.2 1238.7,963.4 Z" fill="#c98372" opacity="0.75"/>
<path d="M1226.4,920.6 C1238.7,928.7 1250.9,938.9 1259.1,949.1 C1248.9,953.2 1242.8,959.3 1238.7,969.6 C1234.6,959.3 1230.5,953.2 1218.3,951.2 C1228.5,943.0 1230.5,932.8 1226.4,920.6 Z" fill="#8e4f45" opacity="0.8"/>
<path d="M1161.1,973.6 C1169.3,961.4 1181.5,957.3 1197.9,957.3 L1197.9,962.4 C1181.5,963.4 1171.3,967.5 1165.2,977.7 Z" fill="#a8685a" opacity="0.8"/>
<path d="M1238.7,1002.2 C1269.3,1006.3 1299.9,1014.4 1328.5,1026.7 L1328.5,1018.5 C1299.9,1008.3 1269.3,1000.2 1244.8,996.1 Z" fill="#b87868" opacity="0.7"/>
<path d="M1242.8,961.4 C1259.1,947.1 1279.5,941.0 1299.9,953.2 C1306.0,961.4 1308.1,971.6 1304.0,977.7 C1285.6,987.9 1267.2,996.1 1255.0,998.1 C1244.8,987.9 1240.7,973.6 1242.8,961.4 Z" fill="#f1c7b4" />
<path d="M1250.9,967.5 C1261.1,957.3 1273.4,953.2 1285.6,957.3 C1283.6,969.6 1271.3,983.8 1257.0,990.0 C1250.9,983.8 1248.9,975.7 1250.9,967.5 Z" fill="#f7d9ca" />
<path d="M1161.1,981.8 C1165.2,969.6 1177.4,962.4 1197.9,960.4 L1228.5,959.3 C1236.6,973.6 1238.7,994.0 1236.6,1006.3 L1234.6,1026.7 C1218.3,1034.9 1185.6,1034.9 1161.1,1022.6 Z" fill="url(#gCap3)" />
<path d="M1210.1,963.4 C1218.3,977.7 1222.3,994.0 1220.3,1010.4 L1228.5,1008.3 C1230.5,990.0 1226.4,973.6 1218.3,962.4 Z" fill="#8e9096" />
<path d="M1161.1,1006.3 C1185.6,1014.4 1214.2,1014.4 1236.6,1006.3 L1234.6,1026.7 C1218.3,1034.9 1185.6,1034.9 1161.1,1022.6 Z" fill="#0d0d0e" />
<path d="M1159.1,977.7 C1161.1,971.6 1165.2,967.5 1171.3,965.5 L1169.3,973.6 C1165.2,977.7 1163.2,983.8 1162.1,990.0 Z" fill="#b8babf" />
<polygon points="1075.4,1034.9 1157.0,1047.1 1157.0,1155.3 1075.4,1116.5" fill="#3a2f2c" />
<line x1="1075.4" y1="1041.0" x2="1155.0" y2="1052.2" stroke="#978c86" stroke-width="2"/>
<line x1="1075.4" y1="1045.5" x2="1155.0" y2="1056.7" stroke="#1a1312" stroke-width="2"/>
<line x1="1075.4" y1="1050.0" x2="1155.0" y2="1061.2" stroke="#5a4f4a" stroke-width="2"/>
<line x1="1075.4" y1="1054.4" x2="1155.0" y2="1065.7" stroke="#978c86" stroke-width="2"/>
<line x1="1075.4" y1="1058.9" x2="1155.0" y2="1070.2" stroke="#1a1312" stroke-width="2"/>
<line x1="1075.4" y1="1063.4" x2="1155.0" y2="1074.7" stroke="#5a4f4a" stroke-width="2"/>
<line x1="1075.4" y1="1067.9" x2="1155.0" y2="1079.1" stroke="#978c86" stroke-width="2"/>
<line x1="1075.4" y1="1072.4" x2="1155.0" y2="1083.6" stroke="#1a1312" stroke-width="2"/>
<line x1="1075.4" y1="1076.9" x2="1155.0" y2="1088.1" stroke="#5a4f4a" stroke-width="2"/>
<line x1="1075.4" y1="1081.4" x2="1155.0" y2="1092.6" stroke="#978c86" stroke-width="2"/>
<line x1="1075.4" y1="1085.9" x2="1155.0" y2="1097.1" stroke="#1a1312" stroke-width="2"/>
<line x1="1075.4" y1="1090.4" x2="1155.0" y2="1101.6" stroke="#5a4f4a" stroke-width="2"/>
<line x1="1075.4" y1="1094.9" x2="1155.0" y2="1106.1" stroke="#978c86" stroke-width="2"/>
<line x1="1075.4" y1="1099.3" x2="1155.0" y2="1110.6" stroke="#1a1312" stroke-width="2"/>
<line x1="1075.4" y1="1103.8" x2="1155.0" y2="1115.1" stroke="#5a4f4a" stroke-width="2"/>
<line x1="1075.4" y1="1108.3" x2="1155.0" y2="1119.6" stroke="#978c86" stroke-width="2"/>
<line x1="1075.4" y1="1112.8" x2="1155.0" y2="1124.0" stroke="#1a1312" stroke-width="2"/>
<line x1="1075.4" y1="1117.3" x2="1155.0" y2="1128.5" stroke="#5a4f4a" stroke-width="2"/>
<line x1="1075.4" y1="1121.8" x2="1155.0" y2="1133.0" stroke="#978c86" stroke-width="2"/>
<line x1="1075.4" y1="1126.3" x2="1155.0" y2="1137.5" stroke="#1a1312" stroke-width="2"/>
<line x1="1075.4" y1="1130.8" x2="1155.0" y2="1142.0" stroke="#5a4f4a" stroke-width="2"/>
<line x1="1075.4" y1="1135.3" x2="1155.0" y2="1146.5" stroke="#978c86" stroke-width="2"/>
<line x1="1075.4" y1="1139.8" x2="1155.0" y2="1151.0" stroke="#1a1312" stroke-width="2"/>
<line x1="1075.4" y1="1144.2" x2="1155.0" y2="1155.5" stroke="#5a4f4a" stroke-width="2"/>
<line x1="1075.4" y1="1148.7" x2="1155.0" y2="1160.0" stroke="#978c86" stroke-width="2"/>
<line x1="1075.4" y1="1153.2" x2="1155.0" y2="1164.4" stroke="#1a1312" stroke-width="2"/>
<polygon points="1134.6,1053.2 1150.9,1055.3 1150.9,1147.1 1134.6,1143.0" fill="#4a3f3b" opacity="0.55"/>
<polygon points="1075.4,1032.8 1161.1,1043.0 1157.0,1049.1 1075.4,1038.9" fill="#55555a" />
<polygon points="1255.0,1018.5 1328.5,1006.3 1328.5,1136.9 1257.0,1157.3" fill="#3a2d2a" />
<path d="M1259.1,1049.1 C1279.5,1045.1 1299.9,1030.8 1328.5,1010.4 L1328.5,1024.7 C1299.9,1045.1 1279.5,1057.3 1259.1,1061.4 Z" fill="#564843" />
<polygon points="1269.3,1026.7 1285.6,1020.6 1285.6,1041.0 1269.3,1047.1" fill="#130d0c" />
<polygon points="1299.9,1014.4 1316.2,1008.3 1316.2,1028.7 1299.9,1034.9" fill="#130d0c" />
<path d="M1259.1,1083.8 C1279.5,1079.8 1299.9,1065.5 1328.5,1045.1 L1328.5,1059.3 C1299.9,1079.8 1279.5,1092.0 1259.1,1096.1 Z" fill="#564843" />
<polygon points="1269.3,1061.4 1285.6,1055.3 1285.6,1075.7 1269.3,1081.8" fill="#130d0c" />
<polygon points="1299.9,1049.1 1316.2,1043.0 1316.2,1063.4 1299.9,1069.6" fill="#130d0c" />
<path d="M1259.1,1118.5 C1279.5,1114.4 1299.9,1100.2 1328.5,1079.8 L1328.5,1094.0 C1299.9,1114.4 1279.5,1126.7 1259.1,1130.8 Z" fill="#564843" />
<polygon points="1269.3,1096.1 1285.6,1090.0 1285.6,1110.4 1269.3,1116.5" fill="#130d0c" />
<polygon points="1299.9,1083.8 1316.2,1077.7 1316.2,1098.1 1299.9,1104.2" fill="#130d0c" />
<path d="M1259.1,1153.2 C1279.5,1149.1 1299.9,1134.9 1328.5,1114.4 L1328.5,1128.7 C1299.9,1149.1 1279.5,1161.4 1259.1,1165.5 Z" fill="#564843" />
<polygon points="1269.3,1130.8 1285.6,1124.7 1285.6,1145.1 1269.3,1151.2" fill="#130d0c" />
<polygon points="1299.9,1118.5 1316.2,1112.4 1316.2,1132.8 1299.9,1138.9" fill="#130d0c" />
<polygon points="1157.0,1047.1 1197.9,1043.0 1259.1,1055.3 1259.1,1163.4 1157.0,1163.4" fill="#3b2d2a" />
<polygon points="1157.0,1055.3 1177.4,1057.3 1177.4,1163.4 1157.0,1163.4" fill="#4a3b37" />
<polygon points="1179.5,1059.3 1201.9,1061.4 1201.9,1163.4 1179.5,1163.4" fill="#332623" />
<polygon points="1201.9,1065.5 1238.7,1061.4 1238.7,1163.4 1201.9,1163.4" fill="#44352f" />
<polygon points="1239.7,1059.3 1259.1,1055.3 1259.1,1163.4 1239.7,1163.4" fill="#574944" />
<polygon points="1157.0,1047.1 1197.9,1034.9 1259.1,1022.6 1295.8,1014.4 1259.1,1055.3 1197.9,1061.4" fill="#2c211f" />
<polygon points="1177.4,1047.1 1238.7,1032.8 1259.1,1038.9 1201.9,1055.3" fill="#4a3c38" />
</g>
<clipPath id="cc4"><circle cx="855" cy="1275.5" r="123.5"/></clipPath>
<g clip-path="url(#cc4)">
<circle cx="855" cy="1275.5" r="124" fill="#231a18"/>
<line x1="728.4" y1="1153.4" x2="981.5" y2="1153.4" stroke="#4e433f" stroke-width="2.2"/>
<line x1="728.4" y1="1157.3" x2="981.5" y2="1157.3" stroke="#93877f" stroke-width="2.2"/>
<line x1="728.4" y1="1161.2" x2="981.5" y2="1161.2" stroke="#4e433f" stroke-width="2.2"/>
<line x1="728.4" y1="1165.1" x2="981.5" y2="1165.1" stroke="#150f0e" stroke-width="2.2"/>
<line x1="728.4" y1="1169.0" x2="981.5" y2="1169.0" stroke="#4e433f" stroke-width="2.2"/>
<line x1="728.4" y1="1172.8" x2="981.5" y2="1172.8" stroke="#93877f" stroke-width="2.2"/>
<line x1="728.4" y1="1176.7" x2="981.5" y2="1176.7" stroke="#4e433f" stroke-width="2.2"/>
<line x1="728.4" y1="1180.6" x2="981.5" y2="1180.6" stroke="#150f0e" stroke-width="2.2"/>
<line x1="728.4" y1="1184.5" x2="981.5" y2="1184.5" stroke="#4e433f" stroke-width="2.2"/>
<line x1="728.4" y1="1188.3" x2="981.5" y2="1188.3" stroke="#93877f" stroke-width="2.2"/>
<line x1="728.4" y1="1192.2" x2="981.5" y2="1192.2" stroke="#4e433f" stroke-width="2.2"/>
<line x1="728.4" y1="1196.1" x2="981.5" y2="1196.1" stroke="#150f0e" stroke-width="2.2"/>
<line x1="728.4" y1="1200.0" x2="981.5" y2="1200.0" stroke="#4e433f" stroke-width="2.2"/>
<line x1="728.4" y1="1203.9" x2="981.5" y2="1203.9" stroke="#93877f" stroke-width="2.2"/>
<line x1="728.4" y1="1207.7" x2="981.5" y2="1207.7" stroke="#4e433f" stroke-width="2.2"/>
<line x1="728.4" y1="1211.6" x2="981.5" y2="1211.6" stroke="#150f0e" stroke-width="2.2"/>
<line x1="728.4" y1="1215.5" x2="981.5" y2="1215.5" stroke="#4e433f" stroke-width="2.2"/>
<line x1="728.4" y1="1219.4" x2="981.5" y2="1219.4" stroke="#93877f" stroke-width="2.2"/>
<line x1="728.4" y1="1223.2" x2="981.5" y2="1223.2" stroke="#4e433f" stroke-width="2.2"/>
<line x1="728.4" y1="1227.1" x2="981.5" y2="1227.1" stroke="#150f0e" stroke-width="2.2"/>
<line x1="728.4" y1="1231.0" x2="981.5" y2="1231.0" stroke="#4e433f" stroke-width="2.2"/>
<line x1="728.4" y1="1234.9" x2="981.5" y2="1234.9" stroke="#93877f" stroke-width="2.2"/>
<line x1="728.4" y1="1238.8" x2="981.5" y2="1238.8" stroke="#4e433f" stroke-width="2.2"/>
<line x1="728.4" y1="1242.6" x2="981.5" y2="1242.6" stroke="#150f0e" stroke-width="2.2"/>
<line x1="728.4" y1="1246.5" x2="981.5" y2="1246.5" stroke="#4e433f" stroke-width="2.2"/>
<line x1="728.4" y1="1250.4" x2="981.5" y2="1250.4" stroke="#93877f" stroke-width="2.2"/>
<line x1="728.4" y1="1254.3" x2="981.5" y2="1254.3" stroke="#4e433f" stroke-width="2.2"/>
<line x1="728.4" y1="1258.1" x2="981.5" y2="1258.1" stroke="#150f0e" stroke-width="2.2"/>
<polygon points="820.2,1153.4 834.5,1153.4 834.5,1175.9 820.2,1175.9" fill="#3a2f2c" />
<line x1="822.7" y1="1153.4" x2="822.7" y2="1175.9" stroke="#8d8079" stroke-width="1.6"/>
<line x1="827.2" y1="1153.4" x2="827.2" y2="1175.9" stroke="#8d8079" stroke-width="1.6"/>
<line x1="831.7" y1="1153.4" x2="831.7" y2="1175.9" stroke="#8d8079" stroke-width="1.6"/>
<polygon points="893.7,1175.9 908.0,1175.9 908.0,1198.3 893.7,1198.3" fill="#3a2f2c" />
<line x1="896.2" y1="1175.9" x2="896.2" y2="1198.3" stroke="#8d8079" stroke-width="1.6"/>
<line x1="900.7" y1="1175.9" x2="900.7" y2="1198.3" stroke="#8d8079" stroke-width="1.6"/>
<line x1="905.1" y1="1175.9" x2="905.1" y2="1198.3" stroke="#8d8079" stroke-width="1.6"/>
<polygon points="820.2,1198.3 834.5,1198.3 834.5,1218.8 820.2,1218.8" fill="#3a2f2c" />
<line x1="822.7" y1="1198.3" x2="822.7" y2="1218.8" stroke="#8d8079" stroke-width="1.6"/>
<line x1="827.2" y1="1198.3" x2="827.2" y2="1218.8" stroke="#8d8079" stroke-width="1.6"/>
<line x1="831.7" y1="1198.3" x2="831.7" y2="1218.8" stroke="#8d8079" stroke-width="1.6"/>
<polygon points="893.7,1218.8 908.0,1218.8 908.0,1239.2 893.7,1239.2" fill="#3a2f2c" />
<line x1="896.2" y1="1218.8" x2="896.2" y2="1239.2" stroke="#8d8079" stroke-width="1.6"/>
<line x1="900.7" y1="1218.8" x2="900.7" y2="1239.2" stroke="#8d8079" stroke-width="1.6"/>
<line x1="905.1" y1="1218.8" x2="905.1" y2="1239.2" stroke="#8d8079" stroke-width="1.6"/>
<polygon points="744.7,1218.8 759.0,1218.8 759.0,1239.2 744.7,1239.2" fill="#3a2f2c" />
<line x1="747.2" y1="1218.8" x2="747.2" y2="1239.2" stroke="#8d8079" stroke-width="1.6"/>
<line x1="751.7" y1="1218.8" x2="751.7" y2="1239.2" stroke="#8d8079" stroke-width="1.6"/>
<line x1="756.2" y1="1218.8" x2="756.2" y2="1239.2" stroke="#8d8079" stroke-width="1.6"/>
<polygon points="820.2,1239.2 834.5,1239.2 834.5,1257.5 820.2,1257.5" fill="#3a2f2c" />
<line x1="822.7" y1="1239.2" x2="822.7" y2="1257.5" stroke="#8d8079" stroke-width="1.6"/>
<line x1="827.2" y1="1239.2" x2="827.2" y2="1257.5" stroke="#8d8079" stroke-width="1.6"/>
<line x1="831.7" y1="1239.2" x2="831.7" y2="1257.5" stroke="#8d8079" stroke-width="1.6"/>
<polygon points="961.1,1239.2 975.3,1239.2 975.3,1257.5 961.1,1257.5" fill="#3a2f2c" />
<line x1="963.5" y1="1239.2" x2="963.5" y2="1257.5" stroke="#8d8079" stroke-width="1.6"/>
<line x1="968.0" y1="1239.2" x2="968.0" y2="1257.5" stroke="#8d8079" stroke-width="1.6"/>
<line x1="972.5" y1="1239.2" x2="972.5" y2="1257.5" stroke="#8d8079" stroke-width="1.6"/>
<path d="M728.4,1261.6 C810.0,1257.5 891.7,1255.5 981.5,1257.5 L981.5,1326.9 L728.4,1326.9 Z" fill="#151516" />
<path d="M728.4,1294.3 C759.0,1294.3 789.6,1302.4 810.0,1322.8" fill="none" stroke="#8a8a90" stroke-width="1.5"/>
<polygon points="728.4,1324.9 981.5,1324.9 981.5,1404.5 728.4,1404.5" fill="#c7c8dc" />
<polygon points="728.4,1324.9 761.1,1324.9 761.1,1404.5 728.4,1404.5" fill="#a9aabb" />
<polygon points="761.1,1324.9 814.1,1324.9 814.1,1404.5 761.1,1404.5" fill="#161617" />
<polygon points="771.3,1326.9 785.6,1326.9 785.6,1404.5 771.3,1404.5" fill="#2c2c2f" />
<path d="M814.1,1322.8 L826.4,1329.0 L881.5,1326.9 L908.0,1320.8 L981.5,1355.5 L981.5,1404.5 L814.1,1404.5 Z" fill="#cbccdf" stroke="#f6f6fb" stroke-width="2"/>
<circle cx="830.4" cy="1292.2" r="24" fill="#060606"/>
<path d="M875.3,1273.9 C877.4,1263.7 887.6,1263.7 899.8,1273.9 C928.4,1286.1 957.0,1294.3 981.5,1302.4 L981.5,1351.4 C952.9,1335.1 922.3,1324.9 891.7,1312.6 C881.5,1298.3 875.3,1286.1 875.3,1273.9 Z" fill="url(#gSkin4)" />
<path d="M876.4,1271.8 C879.4,1264.7 885.6,1264.7 895.8,1271.8 L903.9,1286.1 C891.7,1282.0 881.5,1277.9 876.4,1271.8 Z" fill="#f7d8c8" />
<circle cx="860.0" cy="1304.5" r="28" fill="url(#gPlug)" stroke="#9d9fb3" stroke-width="1.2"/>
<path d="M828.4,1329.0 C834.5,1322.8 846.8,1324.9 859.0,1333.0 C887.6,1347.3 922.3,1359.6 952.9,1367.7 L942.7,1386.1 C922.3,1390.2 901.9,1394.3 883.5,1398.3 C863.1,1375.9 840.7,1351.4 828.4,1329.0 Z" fill="url(#gSkin4)" />
</g>
<circle cx="1013" cy="317.5" r="138.5" fill="none" stroke="#0c0c0c" stroke-width="5" stroke-dasharray="19.8 11.28" stroke-dashoffset="13.5"/>
<circle cx="1301" cy="621.5" r="138.5" fill="none" stroke="#0c0c0c" stroke-width="5" stroke-dasharray="19.8 11.28" stroke-dashoffset="13.5"/>
<circle cx="1201.5" cy="1037.5" r="138.5" fill="none" stroke="#0c0c0c" stroke-width="5" stroke-dasharray="19.8 11.28" stroke-dashoffset="13.5"/>
<circle cx="855" cy="1278" r="138.5" fill="none" stroke="#0c0c0c" stroke-width="5" stroke-dasharray="19.8 11.28" stroke-dashoffset="13.5"/>
<path d="M1146,350 C1190,384 1236,432 1272,494" fill="none" fill="none" stroke="#0c0c0c" stroke-width="4.6" stroke-dasharray="18 11"/>
<path d="M1345,746 C1350,820 1340,900 1311,978" fill="none" fill="none" stroke="#0c0c0c" stroke-width="4.6" stroke-dasharray="18 11"/>
<path d="M1186,1160 C1130,1210 1060,1256 978,1283" fill="none" fill="none" stroke="#0c0c0c" stroke-width="4.6" stroke-dasharray="18 11"/>
<text x="100" y="491.7" font-size="29.5" font-weight="400" fill="#1c1c1c" textLength="84" lengthAdjust="spacingAndGlyphs" text-anchor="start" stroke="#1c1c1c" stroke-width="0.5">Nut Cap</text>
<text x="38.5" y="605" font-size="29.5" font-weight="400" fill="#1c1c1c" textLength="135.0" lengthAdjust="spacingAndGlyphs" text-anchor="start" stroke="#1c1c1c" stroke-width="0.5">Upright Post</text>
<text x="57" y="726" font-size="29.5" font-weight="400" fill="#1c1c1c" textLength="118" lengthAdjust="spacingAndGlyphs" text-anchor="start" stroke="#1c1c1c" stroke-width="0.5">Side Plates</text>
<text x="58" y="828" font-size="29.5" font-weight="400" fill="#1c1c1c" textLength="190" lengthAdjust="spacingAndGlyphs" text-anchor="start" stroke="#1c1c1c" stroke-width="0.5">Waterproof Board</text>
<text x="64.6" y="971" font-size="29.5" font-weight="400" fill="#1c1c1c" textLength="110.4" lengthAdjust="spacingAndGlyphs" text-anchor="start" stroke="#1c1c1c" stroke-width="0.5">Base Plate</text>
<text x="813" y="942.5" font-size="29.5" font-weight="400" fill="#1c1c1c" textLength="161" lengthAdjust="spacingAndGlyphs" text-anchor="start" stroke="#1c1c1c" stroke-width="0.5">Water Blocking</text>
<polyline points="138,458 138,422 246,422" fill="none" stroke="#333333" stroke-width="2"/>
<circle cx="246" cy="423" r="5.5" fill="#111"/>
<line x1="180" y1="594" x2="245" y2="594" fill="none" stroke="#333333" stroke-width="2"/>
<circle cx="245" cy="594" r="5.5" fill="#111"/>
<line x1="181" y1="717" x2="397" y2="717" fill="none" stroke="#333333" stroke-width="2"/>
<circle cx="397" cy="716" r="5" fill="#111"/>
<polyline points="145,846 145,873 320,873" fill="none" stroke="#333333" stroke-width="2"/>
<circle cx="320.5" cy="874" r="5" fill="#111"/>
<line x1="184" y1="961" x2="347" y2="962" fill="none" stroke="#333333" stroke-width="2"/>
<line x1="862" y1="963" x2="750" y2="1116" fill="none" stroke="#333333" stroke-width="2"/>
<circle cx="750.4" cy="1116.6" r="4.5" fill="#111"/>
<text x="1175.5" y="294" font-size="43.5" font-weight="700" fill="#146c22" textLength="102.5" lengthAdjust="spacingAndGlyphs" text-anchor="start" stroke="#146c22" stroke-width="0.5">Water</text>
<text x="1173" y="332.5" font-size="43.5" font-weight="700" fill="#146c22" textLength="255" lengthAdjust="spacingAndGlyphs" text-anchor="start" stroke="#146c22" stroke-width="0.5">storage design</text>
<text x="1058.5" y="735" font-size="43.5" font-weight="700" fill="#146c22" textLength="114.20000000000005" lengthAdjust="spacingAndGlyphs" text-anchor="start" stroke="#146c22" stroke-width="0.5">Strong</text>
<text x="973" y="774" font-size="43.5" font-weight="700" fill="#146c22" textLength="197" lengthAdjust="spacingAndGlyphs" text-anchor="start" stroke="#146c22" stroke-width="0.5">support leg</text>
<text x="1163" y="1245" font-size="43.5" font-weight="700" fill="#146c22" textLength="257" lengthAdjust="spacingAndGlyphs" text-anchor="start" stroke="#146c22" stroke-width="0.5">Plunger details</text>
<text x="536" y="1372" font-size="43.5" font-weight="700" fill="#146c22" textLength="172.5" lengthAdjust="spacingAndGlyphs" text-anchor="start" stroke="#146c22" stroke-width="0.5">Visualized</text>
<text x="562" y="1403" font-size="43.5" font-weight="700" fill="#146c22" textLength="173.5" lengthAdjust="spacingAndGlyphs" text-anchor="start" stroke="#146c22" stroke-width="0.5">drain plug</text>
</svg>
</body>
</html>
